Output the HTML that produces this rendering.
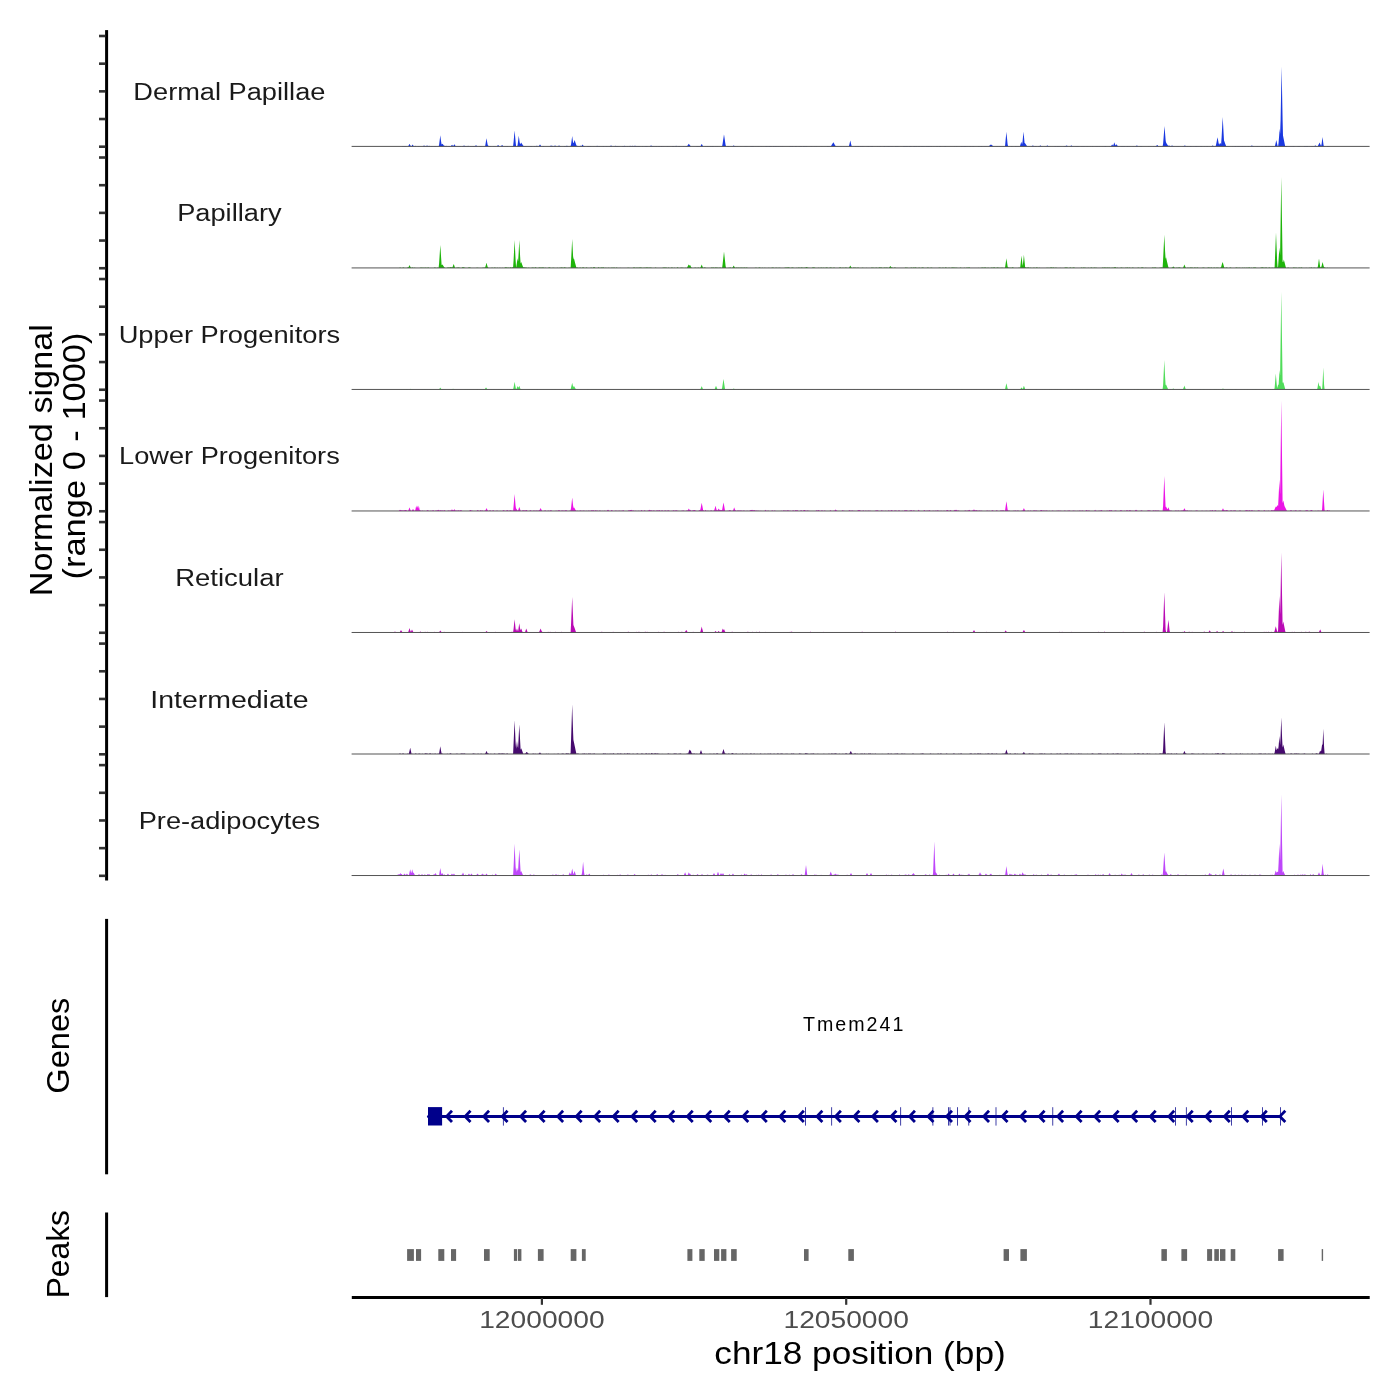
<!DOCTYPE html><html><head><meta charset="utf-8"><style>html,body{margin:0;padding:0;background:#fff;}svg{display:block;will-change:transform;}text{font-family:"Liberation Sans",sans-serif;}</style></head><body>
<svg width="1400" height="1400" viewBox="0 0 1400 1400">
<rect width="1400" height="1400" fill="#fff"/>
<text transform="translate(51.8,460.2) rotate(-90)" text-anchor="middle" font-size="30.54" textLength="272.0" lengthAdjust="spacingAndGlyphs" fill="#000">Normalized signal</text>
<text transform="translate(84.8,456) rotate(-90)" text-anchor="middle" font-size="30.54" textLength="247.0" lengthAdjust="spacingAndGlyphs" fill="#000">(range 0 - 1000)</text>
<text transform="translate(69.3,1045.7) rotate(-90)" text-anchor="middle" font-size="30.54" textLength="96.0" lengthAdjust="spacingAndGlyphs" fill="#000">Genes</text>
<text transform="translate(69.0,1254.2) rotate(-90)" text-anchor="middle" font-size="30.54" textLength="88.3" lengthAdjust="spacingAndGlyphs" fill="#000">Peaks</text>
<rect x="105.1" y="30.1" width="3" height="850.4" fill="#000"/>
<rect x="105.1" y="918.9" width="3" height="255.4" fill="#000"/>
<rect x="105.1" y="1212.5" width="3" height="84.6" fill="#000"/>
<rect x="99" y="145.40" width="6.3" height="2.6" fill="#333"/><rect x="99" y="117.73" width="6.3" height="2.6" fill="#333"/><rect x="99" y="90.05" width="6.3" height="2.6" fill="#333"/><rect x="99" y="62.38" width="6.3" height="2.6" fill="#333"/><rect x="99" y="34.70" width="6.3" height="2.6" fill="#333"/><rect x="99" y="266.92" width="6.3" height="2.6" fill="#333"/><rect x="99" y="239.25" width="6.3" height="2.6" fill="#333"/><rect x="99" y="211.57" width="6.3" height="2.6" fill="#333"/><rect x="99" y="183.90" width="6.3" height="2.6" fill="#333"/><rect x="99" y="156.22" width="6.3" height="2.6" fill="#333"/><rect x="99" y="388.44" width="6.3" height="2.6" fill="#333"/><rect x="99" y="360.76" width="6.3" height="2.6" fill="#333"/><rect x="99" y="333.09" width="6.3" height="2.6" fill="#333"/><rect x="99" y="305.41" width="6.3" height="2.6" fill="#333"/><rect x="99" y="277.74" width="6.3" height="2.6" fill="#333"/><rect x="99" y="509.96" width="6.3" height="2.6" fill="#333"/><rect x="99" y="482.29" width="6.3" height="2.6" fill="#333"/><rect x="99" y="454.61" width="6.3" height="2.6" fill="#333"/><rect x="99" y="426.94" width="6.3" height="2.6" fill="#333"/><rect x="99" y="399.26" width="6.3" height="2.6" fill="#333"/><rect x="99" y="631.48" width="6.3" height="2.6" fill="#333"/><rect x="99" y="603.81" width="6.3" height="2.6" fill="#333"/><rect x="99" y="576.13" width="6.3" height="2.6" fill="#333"/><rect x="99" y="548.46" width="6.3" height="2.6" fill="#333"/><rect x="99" y="520.78" width="6.3" height="2.6" fill="#333"/><rect x="99" y="753.00" width="6.3" height="2.6" fill="#333"/><rect x="99" y="725.33" width="6.3" height="2.6" fill="#333"/><rect x="99" y="697.65" width="6.3" height="2.6" fill="#333"/><rect x="99" y="669.98" width="6.3" height="2.6" fill="#333"/><rect x="99" y="642.30" width="6.3" height="2.6" fill="#333"/><rect x="99" y="874.52" width="6.3" height="2.6" fill="#333"/><rect x="99" y="846.85" width="6.3" height="2.6" fill="#333"/><rect x="99" y="819.17" width="6.3" height="2.6" fill="#333"/><rect x="99" y="791.50" width="6.3" height="2.6" fill="#333"/><rect x="99" y="763.82" width="6.3" height="2.6" fill="#333"/>
<text x="229.4" y="99.90" text-anchor="middle" font-size="24.43" textLength="192.02" lengthAdjust="spacingAndGlyphs" fill="#1a1a1a">Dermal Papillae</text>
<text x="229.4" y="221.42" text-anchor="middle" font-size="24.43" textLength="104.38" lengthAdjust="spacingAndGlyphs" fill="#1a1a1a">Papillary</text>
<text x="229.4" y="342.94" text-anchor="middle" font-size="24.43" textLength="221.50" lengthAdjust="spacingAndGlyphs" fill="#1a1a1a">Upper Progenitors</text>
<text x="229.4" y="464.46" text-anchor="middle" font-size="24.43" textLength="220.72" lengthAdjust="spacingAndGlyphs" fill="#1a1a1a">Lower Progenitors</text>
<text x="229.4" y="585.98" text-anchor="middle" font-size="24.43" textLength="108.44" lengthAdjust="spacingAndGlyphs" fill="#1a1a1a">Reticular</text>
<text x="229.4" y="707.50" text-anchor="middle" font-size="24.43" textLength="158.25" lengthAdjust="spacingAndGlyphs" fill="#1a1a1a">Intermediate</text>
<text x="229.4" y="829.02" text-anchor="middle" font-size="24.43" textLength="181.32" lengthAdjust="spacingAndGlyphs" fill="#1a1a1a">Pre-adipocytes</text>
<path d="M351.60 146.40 L351.6 146.4 L401.6 146.4 L402.1 146.2 L402.6 146.0 L403.1 146.0 L403.6 146.2 L404.1 146.3 L404.6 146.0 L405.1 145.9 L405.6 146.1 L406.1 146.2 L406.6 146.3 L407.1 146.4 L408.1 146.4 L408.6 145.5 L409.1 144.5 L409.5 143.8 L409.6 144.0 L410.1 144.9 L410.6 145.8 L411.1 146.0 L411.6 145.9 L412.1 145.2 L412.6 144.5 L413.1 145.2 L413.6 145.9 L414.1 146.4 L414.6 146.2 L415.1 145.8 L415.6 145.9 L416.1 146.2 L416.6 146.4 L417.1 146.4 L417.6 146.3 L418.1 146.2 L418.6 146.1 L419.1 146.2 L419.6 146.3 L420.1 146.4 L422.6 146.4 L423.1 146.0 L423.6 145.7 L424.0 145.4 L424.1 145.5 L424.6 145.8 L425.1 146.2 L425.6 146.2 L426.1 146.0 L426.6 145.7 L427.0 145.4 L427.1 145.5 L427.6 145.8 L428.1 146.2 L428.6 146.1 L429.1 145.7 L429.6 146.0 L430.1 146.3 L430.6 146.2 L431.1 146.0 L431.6 146.1 L432.1 146.2 L432.6 146.1 L433.1 146.2 L433.6 146.3 L434.1 146.2 L434.6 146.1 L435.1 145.9 L435.6 146.1 L436.1 146.3 L436.6 146.3 L437.1 146.3 L437.6 146.3 L438.1 146.3 L438.6 146.4 L439.1 144.8 L439.6 140.8 L440.1 136.9 L440.3 135.3 L440.6 137.7 L441.1 141.6 L441.6 144.5 L442.1 144.0 L442.3 143.8 L442.6 144.1 L443.1 144.6 L443.6 145.2 L444.1 145.7 L444.6 145.7 L445.1 146.0 L445.6 146.0 L446.1 145.8 L446.6 145.9 L447.1 146.1 L447.6 146.3 L448.1 146.3 L448.6 146.0 L449.1 145.9 L449.6 146.1 L450.1 146.3 L450.6 146.3 L451.1 145.8 L451.6 145.2 L452.0 144.7 L452.1 144.8 L452.6 145.4 L453.1 146.0 L453.6 145.5 L454.1 144.7 L454.4 144.3 L454.6 144.6 L455.1 145.4 L455.6 146.1 L456.1 146.3 L456.6 146.0 L457.1 146.1 L457.6 146.2 L458.1 146.1 L458.6 146.3 L459.1 146.2 L459.6 146.0 L460.1 146.1 L460.6 146.3 L461.1 146.4 L461.6 146.4 L462.1 146.2 L462.6 146.1 L463.1 146.0 L463.6 145.7 L464.0 145.4 L464.1 145.5 L464.6 145.8 L465.1 146.2 L465.6 146.1 L466.1 146.0 L466.6 146.2 L467.1 146.2 L467.6 145.9 L468.1 145.8 L468.6 146.1 L469.1 146.4 L469.6 146.3 L470.1 146.2 L470.6 146.0 L471.1 146.1 L471.6 146.3 L472.1 146.3 L472.6 146.1 L473.1 146.1 L473.6 146.1 L474.1 145.9 L474.6 145.9 L475.1 146.0 L475.6 145.5 L476.0 145.2 L476.1 145.3 L476.6 145.7 L477.1 146.1 L477.6 146.4 L478.6 146.4 L479.1 146.3 L479.6 146.2 L480.1 146.1 L480.6 146.3 L481.1 146.3 L481.6 146.2 L482.1 146.2 L482.6 146.4 L483.6 146.4 L484.1 146.3 L484.6 146.3 L485.1 146.3 L485.6 143.5 L486.1 140.5 L486.5 138.2 L486.6 138.8 L487.1 141.7 L487.6 144.6 L488.1 145.8 L488.6 145.8 L489.1 146.2 L489.6 146.1 L490.1 146.0 L490.6 146.3 L491.1 146.4 L492.6 146.4 L493.1 146.3 L493.6 146.2 L494.1 146.3 L494.6 146.3 L495.1 146.3 L495.6 146.3 L496.1 146.4 L496.6 146.4 L497.1 145.9 L497.6 145.4 L498.0 145.0 L498.1 145.1 L498.6 145.6 L499.1 146.1 L499.6 146.4 L500.6 146.4 L501.1 145.9 L501.6 145.4 L502.0 145.0 L502.1 145.1 L502.6 145.6 L503.1 146.1 L503.6 146.4 L504.1 146.4 L504.6 146.3 L505.1 146.3 L505.6 146.3 L506.1 146.3 L506.6 146.3 L507.1 146.1 L507.6 146.0 L508.1 146.3 L508.6 146.4 L511.6 146.4 L512.1 146.2 L512.6 145.9 L513.1 146.1 L513.6 141.8 L514.1 136.1 L514.6 130.4 L515.1 136.1 L515.6 141.8 L516.1 146.4 L517.1 146.4 L517.6 144.9 L518.1 141.1 L518.6 137.3 L518.8 135.8 L519.1 138.1 L519.6 141.9 L520.1 144.3 L520.6 143.5 L521.1 142.8 L521.2 142.6 L521.6 143.2 L522.1 144.0 L522.6 144.7 L523.1 145.5 L523.6 146.0 L524.1 146.1 L524.6 146.2 L525.1 146.1 L525.6 146.2 L526.1 146.3 L526.6 146.3 L527.1 146.3 L527.6 146.4 L528.1 146.4 L528.6 146.3 L529.1 146.3 L529.6 146.4 L530.1 146.2 L530.6 146.0 L531.1 146.0 L531.6 146.1 L532.1 146.3 L532.6 146.4 L533.6 146.4 L534.1 146.2 L534.6 146.1 L535.1 146.3 L535.6 146.4 L536.1 146.3 L536.6 145.8 L537.1 145.8 L537.6 146.3 L538.1 146.4 L538.6 146.4 L539.1 145.7 L539.6 145.0 L540.0 144.4 L540.1 144.5 L540.6 145.3 L541.1 146.0 L541.6 146.4 L542.1 146.4 L542.6 146.1 L543.1 145.9 L543.6 146.1 L544.1 146.3 L544.6 146.4 L549.6 146.4 L550.1 146.0 L550.6 145.7 L551.0 145.4 L551.1 145.5 L551.6 145.8 L552.1 145.9 L552.6 145.8 L553.1 146.2 L553.6 146.4 L554.1 146.0 L554.6 145.7 L555.0 145.4 L555.1 145.5 L555.6 145.8 L556.1 146.2 L556.6 146.4 L557.6 146.4 L558.1 146.0 L558.6 145.7 L559.0 145.4 L559.1 145.5 L559.6 145.8 L560.1 146.2 L560.6 146.3 L561.1 146.4 L563.6 146.4 L564.1 146.2 L564.6 146.1 L565.1 146.3 L565.6 146.3 L566.1 146.0 L566.6 145.7 L567.1 145.8 L567.6 146.1 L568.1 146.3 L568.6 146.4 L570.1 146.4 L570.6 146.1 L571.1 144.2 L571.6 140.5 L572.1 136.7 L572.2 136.0 L572.6 139.0 L573.1 142.7 L573.6 143.0 L574.1 141.5 L574.6 140.1 L575.1 141.5 L575.6 143.0 L576.1 144.4 L576.6 145.8 L577.1 145.7 L577.6 146.0 L578.1 146.3 L578.6 146.3 L579.1 146.3 L579.6 146.4 L580.1 146.1 L580.6 145.8 L581.1 145.8 L581.6 145.9 L582.1 145.2 L582.6 144.5 L583.1 145.2 L583.6 145.9 L584.1 146.1 L584.6 146.3 L585.1 146.4 L586.6 146.4 L587.1 146.2 L587.6 146.1 L588.1 145.9 L588.6 146.1 L589.1 146.1 L589.6 146.2 L590.1 146.1 L590.6 146.2 L591.1 146.3 L591.6 146.4 L592.1 146.3 L592.6 146.4 L593.1 146.4 L593.6 146.3 L594.1 146.3 L594.6 146.4 L596.1 146.4 L596.6 146.0 L597.1 145.7 L597.6 146.0 L598.1 146.3 L598.6 146.3 L599.1 146.2 L599.6 146.0 L600.1 146.2 L600.6 146.4 L601.1 146.4 L601.6 146.3 L602.1 146.4 L602.6 146.2 L603.1 146.0 L603.6 145.9 L604.1 146.2 L604.6 146.4 L605.1 146.4 L605.6 146.3 L606.1 146.2 L606.6 146.1 L607.1 146.2 L607.6 146.3 L608.1 146.4 L608.6 146.3 L609.1 146.3 L609.6 146.2 L610.1 146.0 L610.6 145.7 L611.0 145.4 L611.1 145.5 L611.6 145.8 L612.1 146.2 L612.6 146.4 L613.1 146.4 L613.6 146.3 L614.1 146.3 L614.6 146.3 L615.1 146.0 L615.6 145.8 L616.1 145.9 L616.6 146.1 L617.1 146.1 L617.6 145.9 L618.1 146.1 L618.6 146.3 L619.1 146.2 L619.6 146.2 L620.1 146.4 L621.6 146.4 L622.1 146.3 L622.6 146.1 L623.1 145.9 L623.6 145.9 L624.1 146.1 L624.6 145.8 L625.1 145.9 L625.6 146.2 L626.1 146.4 L626.6 146.3 L627.1 146.2 L627.6 146.0 L628.1 146.2 L628.6 146.4 L629.1 146.3 L629.6 146.1 L630.1 145.8 L630.6 145.9 L631.1 146.1 L631.6 146.2 L632.1 146.0 L632.6 145.8 L633.1 146.0 L633.6 146.2 L634.1 145.9 L634.6 145.7 L635.1 145.9 L635.6 145.7 L636.1 145.9 L636.6 146.1 L637.1 146.2 L637.6 146.0 L638.1 145.9 L638.6 146.1 L639.1 145.9 L639.6 146.0 L640.1 146.2 L640.6 146.4 L641.6 146.4 L642.1 146.3 L642.6 146.1 L643.1 146.3 L643.6 146.4 L644.1 146.4 L644.6 146.3 L645.1 146.2 L645.6 146.1 L646.1 146.1 L646.6 146.0 L647.1 146.1 L647.6 146.2 L648.1 146.4 L649.6 146.4 L650.1 146.0 L650.6 145.7 L651.0 145.4 L651.1 145.5 L651.6 145.8 L652.1 146.1 L652.6 145.9 L653.1 146.1 L653.6 146.2 L654.1 146.3 L654.6 146.2 L655.1 146.2 L655.6 146.2 L656.1 146.1 L656.6 146.1 L657.1 146.3 L657.6 146.4 L658.1 146.3 L658.6 146.1 L659.1 145.9 L659.6 146.0 L660.1 146.2 L660.6 146.4 L661.1 145.9 L661.6 145.9 L662.1 146.3 L662.6 146.3 L663.1 146.2 L663.6 146.2 L664.1 146.3 L664.6 146.4 L665.1 146.3 L665.6 146.4 L666.1 146.4 L666.6 146.3 L667.1 146.2 L667.6 146.1 L668.1 146.2 L668.6 146.3 L669.1 146.4 L669.6 146.3 L670.1 146.3 L670.6 146.4 L671.6 146.4 L672.1 146.3 L672.6 146.1 L673.1 146.0 L673.6 146.1 L674.1 146.2 L674.6 146.4 L675.1 146.4 L675.6 146.0 L676.1 145.7 L676.6 146.1 L677.1 146.4 L678.1 146.4 L678.6 146.1 L679.1 145.9 L679.6 146.1 L680.1 146.4 L682.6 146.4 L683.1 146.3 L683.6 146.2 L684.1 146.3 L684.6 146.4 L685.1 146.4 L685.6 146.3 L686.1 146.1 L686.6 146.1 L687.1 146.0 L687.6 145.4 L688.1 144.7 L688.6 144.1 L688.8 143.8 L689.1 144.2 L689.6 144.8 L690.1 145.5 L690.6 146.1 L691.1 146.4 L695.6 146.4 L696.1 146.3 L696.6 146.3 L697.1 146.2 L697.6 146.0 L698.1 146.1 L698.6 146.2 L699.1 146.3 L699.6 146.3 L700.1 146.3 L700.6 145.9 L701.1 145.0 L701.6 144.1 L701.7 143.9 L702.1 144.6 L702.6 145.5 L703.1 146.4 L704.6 146.4 L705.1 146.3 L705.6 146.3 L706.1 146.4 L706.6 146.3 L707.1 146.2 L707.6 146.1 L708.1 146.2 L708.6 146.3 L709.1 146.4 L709.6 146.3 L710.1 146.2 L710.6 146.1 L711.1 146.3 L711.6 146.3 L712.1 146.1 L712.6 145.9 L713.1 146.1 L713.6 146.3 L714.1 146.4 L714.6 146.4 L715.1 146.3 L715.6 146.3 L716.1 146.4 L716.6 146.3 L717.1 146.3 L717.6 146.2 L718.1 146.3 L718.6 146.4 L720.6 146.4 L721.1 146.3 L721.6 146.2 L722.1 146.2 L722.6 143.7 L723.1 140.3 L723.6 136.9 L724.0 134.2 L724.1 134.9 L724.6 138.3 L725.1 141.7 L725.6 145.0 L726.1 146.3 L726.6 146.4 L727.1 146.3 L727.6 146.1 L728.1 145.9 L728.6 146.1 L729.1 146.2 L729.6 146.4 L730.1 146.4 L730.6 146.3 L731.1 146.3 L731.6 146.3 L732.1 146.3 L732.6 146.2 L733.1 145.8 L733.6 145.5 L733.7 145.4 L734.1 145.7 L734.6 146.0 L735.1 146.1 L735.6 146.3 L736.1 146.4 L736.6 146.3 L737.1 146.2 L737.6 146.2 L738.1 146.3 L738.6 146.4 L740.1 146.4 L740.6 146.3 L741.1 146.3 L741.6 146.4 L743.6 146.4 L744.1 146.3 L744.6 146.4 L745.1 146.3 L745.6 146.3 L746.1 146.3 L746.6 146.3 L747.1 146.4 L747.6 146.3 L748.1 146.4 L749.6 146.4 L750.1 146.3 L750.6 146.2 L751.1 146.1 L751.6 146.2 L752.1 146.2 L752.6 145.9 L753.1 146.1 L753.6 146.3 L754.1 146.4 L755.1 146.4 L755.6 146.3 L756.1 146.3 L756.6 146.4 L757.1 146.4 L757.6 146.3 L758.1 146.2 L758.6 146.2 L759.1 146.3 L759.6 146.4 L760.1 146.4 L760.6 146.3 L761.1 146.2 L761.6 146.2 L762.1 146.3 L762.6 146.4 L763.1 146.4 L763.6 146.3 L764.1 146.4 L764.6 146.4 L765.1 146.3 L765.6 146.2 L766.1 146.1 L766.6 146.1 L767.1 146.2 L767.6 146.3 L768.1 146.4 L768.6 146.2 L769.1 145.9 L769.6 146.0 L770.1 146.3 L770.6 146.0 L771.1 145.9 L771.6 146.2 L772.1 146.4 L772.6 146.4 L773.1 146.1 L773.6 146.0 L774.1 146.3 L774.6 146.2 L775.1 146.3 L775.6 146.1 L776.1 146.1 L776.6 146.3 L777.1 146.4 L777.6 146.2 L778.1 146.1 L778.6 146.3 L779.1 146.4 L779.6 146.3 L780.1 146.3 L780.6 146.3 L781.1 146.4 L781.6 146.3 L782.1 146.2 L782.6 146.2 L783.1 146.3 L783.6 146.4 L789.1 146.4 L789.6 146.3 L790.1 146.1 L790.6 146.2 L791.1 146.2 L791.6 146.2 L792.1 146.2 L792.6 146.0 L793.1 146.2 L793.6 146.4 L794.6 146.4 L795.1 146.2 L795.6 146.1 L796.1 146.1 L796.6 146.2 L797.1 146.4 L798.1 146.4 L798.6 146.3 L799.1 146.3 L799.6 146.2 L800.1 146.1 L800.6 146.3 L801.1 146.1 L801.6 146.2 L802.1 146.4 L802.6 146.4 L803.1 146.2 L803.6 145.9 L804.1 146.0 L804.6 146.2 L805.1 146.3 L805.6 146.2 L806.1 146.0 L806.6 146.2 L807.1 146.3 L807.6 146.4 L810.1 146.4 L810.6 146.3 L811.1 146.2 L811.6 146.3 L812.1 146.3 L812.6 146.4 L814.1 146.4 L814.6 146.2 L815.1 146.2 L815.6 146.4 L816.1 146.3 L816.6 146.3 L817.1 146.4 L821.1 146.4 L821.6 146.3 L822.1 146.3 L822.6 146.4 L826.6 146.4 L827.1 146.2 L827.6 146.0 L828.1 146.1 L828.6 146.2 L829.1 146.4 L829.6 146.3 L830.1 146.2 L830.6 146.2 L831.1 145.9 L831.6 145.1 L832.1 144.2 L832.6 143.4 L833.1 142.5 L833.3 142.2 L833.6 142.7 L834.1 143.5 L834.6 144.4 L835.1 145.2 L835.6 146.1 L836.1 146.3 L836.6 146.2 L837.1 146.2 L837.6 146.3 L838.1 146.3 L838.6 146.4 L839.6 146.4 L840.1 146.3 L840.6 146.2 L841.1 146.2 L841.6 146.3 L842.1 146.4 L843.1 146.4 L843.6 146.3 L844.1 146.3 L844.6 146.4 L845.6 146.4 L846.1 146.3 L846.6 146.2 L847.1 146.3 L847.6 146.4 L848.6 146.4 L849.1 145.6 L849.6 143.4 L850.1 141.3 L850.3 140.5 L850.6 141.8 L851.1 143.9 L851.6 146.0 L852.1 146.4 L854.6 146.4 L855.1 146.2 L855.6 146.1 L856.1 146.2 L856.6 146.3 L857.1 146.3 L857.6 146.2 L858.1 146.0 L858.6 146.1 L859.1 146.3 L859.6 146.4 L860.1 146.2 L860.6 146.1 L861.1 146.2 L861.6 146.3 L862.1 146.0 L862.6 146.2 L863.1 146.3 L863.6 146.2 L864.1 146.3 L864.6 146.4 L866.1 146.4 L866.6 146.3 L867.1 146.3 L867.6 146.2 L868.1 146.0 L868.6 146.1 L869.1 146.3 L869.6 146.4 L870.1 146.3 L870.6 146.2 L871.1 146.1 L871.6 146.2 L872.1 146.0 L872.6 146.0 L873.1 146.4 L876.6 146.4 L877.1 146.3 L877.6 146.3 L878.1 146.3 L878.6 146.4 L879.1 146.4 L879.6 146.3 L880.1 146.1 L880.6 146.2 L881.1 146.4 L883.1 146.4 L883.6 146.3 L884.1 146.1 L884.6 145.9 L885.1 146.2 L885.6 146.4 L886.1 146.4 L886.6 146.3 L887.1 146.2 L887.6 146.3 L888.1 146.2 L888.6 146.1 L889.1 146.2 L889.6 146.3 L890.1 146.3 L890.6 146.2 L891.1 146.2 L891.6 146.3 L892.1 146.3 L892.6 146.3 L893.1 146.3 L893.6 146.4 L894.6 146.4 L895.1 146.2 L895.6 146.1 L896.1 146.0 L896.6 146.2 L897.1 146.2 L897.6 146.1 L898.1 146.2 L898.6 146.3 L899.1 146.4 L902.6 146.4 L903.1 146.2 L903.6 146.0 L904.1 146.2 L904.6 146.0 L905.1 146.1 L905.6 146.2 L906.1 146.2 L906.6 146.0 L907.1 146.0 L907.6 146.2 L908.1 146.3 L908.6 146.4 L909.1 146.2 L909.6 146.0 L910.1 146.0 L910.6 146.1 L911.1 146.2 L911.6 146.3 L912.1 146.4 L912.6 146.4 L913.1 146.3 L913.6 146.2 L914.1 146.0 L914.6 146.1 L915.1 146.3 L915.6 146.3 L916.1 146.1 L916.6 146.2 L917.1 146.3 L917.6 146.4 L918.1 146.4 L918.6 146.1 L919.1 145.9 L919.6 146.3 L920.1 146.4 L920.6 146.2 L921.1 146.0 L921.6 146.3 L922.1 146.2 L922.6 146.1 L923.1 146.1 L923.6 146.2 L924.1 146.3 L924.6 146.3 L925.1 146.3 L925.6 146.4 L926.1 146.2 L926.6 145.9 L927.1 146.0 L927.6 146.3 L928.1 146.1 L928.6 145.9 L929.1 146.1 L929.6 146.3 L930.1 146.4 L930.6 146.3 L931.1 146.0 L931.6 146.2 L932.1 146.4 L933.1 146.4 L933.6 146.3 L934.1 146.3 L934.6 146.4 L935.6 146.4 L936.1 146.3 L936.6 146.2 L937.1 146.1 L937.6 146.2 L938.1 146.4 L938.6 146.4 L939.1 146.3 L939.6 146.0 L940.1 146.0 L940.6 146.2 L941.1 146.4 L944.1 146.4 L944.6 146.3 L945.1 146.1 L945.6 146.3 L946.1 146.4 L949.6 146.4 L950.1 146.3 L950.6 146.4 L953.6 146.4 L954.1 146.3 L954.6 146.3 L955.1 146.4 L955.6 146.4 L956.1 146.3 L956.6 146.2 L957.1 146.3 L957.6 146.4 L960.1 146.4 L960.6 146.3 L961.1 146.2 L961.6 146.0 L962.1 146.1 L962.6 146.2 L963.1 146.4 L963.6 146.1 L964.1 146.0 L964.6 146.1 L965.1 145.9 L965.6 146.1 L966.1 146.3 L966.6 146.3 L967.1 146.2 L967.6 146.2 L968.1 146.3 L968.6 146.4 L969.1 146.3 L969.6 146.2 L970.1 146.0 L970.6 146.2 L971.1 146.3 L971.6 146.4 L972.1 146.3 L972.6 146.2 L973.1 146.1 L973.6 146.2 L974.1 146.3 L974.6 146.4 L977.6 146.4 L978.1 146.2 L978.6 146.1 L979.1 146.2 L979.6 146.3 L980.1 146.4 L980.6 146.2 L981.1 146.0 L981.6 146.1 L982.1 146.4 L982.6 146.3 L983.1 146.3 L983.6 146.4 L984.1 146.3 L984.6 146.3 L985.1 146.2 L985.6 146.2 L986.1 146.3 L986.6 146.3 L987.1 146.4 L987.6 146.3 L988.1 146.4 L988.6 146.3 L989.1 145.9 L989.6 145.5 L990.1 145.1 L990.6 144.7 L991.0 144.4 L991.1 144.5 L991.6 144.9 L992.1 145.3 L992.6 145.7 L993.1 146.1 L993.6 146.4 L996.1 146.4 L996.6 146.3 L997.1 146.2 L997.6 146.3 L998.1 146.4 L999.1 146.4 L999.6 146.3 L1000.1 146.2 L1000.6 146.2 L1001.1 146.3 L1001.6 146.4 L1002.1 146.4 L1002.6 146.3 L1003.1 146.2 L1003.6 146.3 L1004.1 146.4 L1004.6 146.4 L1005.1 145.4 L1005.6 140.1 L1006.1 134.9 L1006.4 131.8 L1006.6 133.9 L1007.1 139.1 L1007.6 144.3 L1008.1 146.3 L1008.6 146.3 L1009.1 146.3 L1009.6 146.4 L1010.6 146.4 L1011.1 146.3 L1011.6 146.1 L1012.1 146.2 L1012.6 146.3 L1013.1 146.4 L1014.6 146.4 L1015.1 146.3 L1015.6 146.1 L1016.1 146.2 L1016.6 146.3 L1017.1 146.3 L1017.6 146.2 L1018.1 146.2 L1018.6 146.3 L1019.1 146.4 L1019.6 146.4 L1020.1 145.7 L1020.6 144.1 L1021.1 142.5 L1021.3 141.8 L1021.6 142.8 L1022.1 144.4 L1022.6 141.1 L1023.1 135.8 L1023.5 131.6 L1023.6 132.7 L1024.1 137.9 L1024.6 143.2 L1024.8 142.9 L1025.1 143.3 L1025.6 144.0 L1026.1 144.7 L1026.6 145.4 L1027.1 146.1 L1027.6 146.4 L1031.1 146.4 L1031.6 146.3 L1032.1 146.0 L1032.6 145.6 L1032.9 145.4 L1033.1 145.5 L1033.6 145.9 L1034.1 146.3 L1034.6 146.2 L1035.1 146.0 L1035.6 145.9 L1036.1 146.1 L1036.6 146.3 L1037.1 146.4 L1037.6 146.4 L1038.1 146.2 L1038.6 146.1 L1039.1 146.1 L1039.6 146.0 L1040.1 145.6 L1040.4 145.4 L1040.6 145.5 L1041.1 145.9 L1041.6 146.3 L1042.1 146.2 L1042.6 146.3 L1043.1 146.4 L1044.1 146.4 L1044.6 146.3 L1045.1 146.3 L1045.6 146.2 L1046.1 146.3 L1046.6 145.9 L1047.1 145.5 L1047.3 145.4 L1047.6 145.6 L1048.1 146.0 L1048.6 146.1 L1049.1 146.0 L1049.6 146.2 L1050.1 146.3 L1050.6 146.4 L1051.6 146.4 L1052.1 146.3 L1052.6 146.4 L1054.1 146.4 L1054.6 146.3 L1055.1 146.1 L1055.6 146.2 L1056.1 146.3 L1056.6 146.4 L1057.1 146.3 L1057.6 146.1 L1058.1 146.0 L1058.6 146.2 L1059.1 146.3 L1059.6 146.3 L1060.1 146.3 L1060.6 146.4 L1061.1 146.3 L1061.6 146.4 L1063.1 146.4 L1063.6 146.3 L1064.1 146.2 L1064.6 146.0 L1065.1 146.0 L1065.6 146.1 L1066.1 145.8 L1066.6 145.4 L1067.1 145.8 L1067.6 146.1 L1068.1 146.4 L1069.1 146.4 L1069.6 146.3 L1070.1 146.2 L1070.6 146.0 L1071.1 145.6 L1071.4 145.4 L1071.6 145.5 L1072.1 145.9 L1072.6 146.3 L1073.1 146.3 L1073.6 146.3 L1074.1 146.4 L1074.6 146.3 L1075.1 146.3 L1075.6 146.2 L1076.1 146.0 L1076.6 146.2 L1077.1 146.3 L1077.6 146.1 L1078.1 146.1 L1078.6 146.3 L1079.1 146.3 L1079.6 146.4 L1080.6 146.4 L1081.1 146.3 L1081.6 146.2 L1082.1 146.3 L1082.6 146.2 L1083.1 146.3 L1083.6 146.3 L1084.1 146.2 L1084.6 146.3 L1085.1 146.4 L1086.1 146.4 L1086.6 146.3 L1087.1 146.2 L1087.6 146.2 L1088.1 146.3 L1088.6 146.4 L1089.6 146.4 L1090.1 146.3 L1090.6 146.3 L1091.1 146.4 L1091.6 146.4 L1092.1 146.2 L1092.6 146.1 L1093.1 146.3 L1093.6 146.4 L1095.1 146.4 L1095.6 146.3 L1096.1 146.3 L1096.6 146.3 L1097.1 146.2 L1097.6 146.2 L1098.1 146.3 L1098.6 146.4 L1099.1 146.3 L1099.6 146.3 L1100.1 146.4 L1102.1 146.4 L1102.6 146.3 L1103.1 146.3 L1103.6 146.4 L1104.1 146.4 L1104.6 146.2 L1105.1 145.9 L1105.6 146.0 L1106.1 146.3 L1106.6 146.4 L1108.6 146.4 L1109.1 146.3 L1109.6 146.3 L1110.1 146.4 L1110.6 146.2 L1111.1 146.0 L1111.6 145.3 L1112.1 144.6 L1112.2 144.5 L1112.6 145.0 L1113.1 145.7 L1113.6 144.4 L1114.1 142.9 L1114.3 142.3 L1114.6 143.2 L1115.1 144.6 L1115.6 145.6 L1116.1 144.8 L1116.5 144.2 L1116.6 144.4 L1117.1 145.1 L1117.6 145.9 L1118.1 146.3 L1118.6 146.3 L1119.1 146.4 L1120.1 146.4 L1120.6 146.3 L1121.1 146.2 L1121.6 146.1 L1122.1 146.3 L1122.6 146.1 L1123.1 146.1 L1123.6 146.3 L1124.1 146.2 L1124.6 146.0 L1125.1 146.2 L1125.6 146.4 L1126.1 146.4 L1126.6 146.3 L1127.1 146.1 L1127.6 146.0 L1128.1 146.2 L1128.6 146.3 L1129.1 146.2 L1129.6 146.3 L1130.1 146.3 L1130.6 146.4 L1132.1 146.4 L1132.6 146.3 L1133.1 146.3 L1133.6 146.2 L1134.1 146.3 L1134.6 146.4 L1135.1 146.4 L1135.6 146.3 L1136.1 145.9 L1136.6 145.5 L1136.8 145.4 L1137.1 145.6 L1137.6 146.0 L1138.1 146.3 L1138.6 146.4 L1139.1 146.4 L1139.6 146.2 L1140.1 146.1 L1140.6 146.3 L1141.1 146.3 L1141.6 146.1 L1142.1 146.3 L1142.6 146.4 L1147.6 146.4 L1148.1 146.3 L1148.6 146.3 L1149.1 146.3 L1149.6 146.4 L1150.1 146.4 L1150.6 146.3 L1151.1 146.3 L1151.6 146.4 L1152.6 146.4 L1153.1 146.3 L1153.6 146.2 L1154.1 146.3 L1154.6 146.4 L1155.1 146.3 L1155.6 146.2 L1156.1 146.1 L1156.6 145.5 L1157.1 145.0 L1157.2 144.9 L1157.6 145.3 L1158.1 145.9 L1158.6 146.1 L1159.1 146.2 L1159.6 146.4 L1160.1 146.3 L1160.6 146.3 L1161.1 146.3 L1161.6 146.3 L1162.1 146.3 L1162.6 146.3 L1163.1 143.8 L1163.6 137.4 L1164.1 131.0 L1164.5 125.9 L1164.6 127.2 L1165.1 133.6 L1165.6 140.0 L1166.0 142.4 L1166.1 142.6 L1166.6 143.4 L1167.1 144.2 L1167.6 145.0 L1168.1 145.8 L1168.6 145.7 L1169.0 145.4 L1169.1 145.5 L1169.6 145.8 L1170.1 146.2 L1170.6 146.0 L1171.1 146.0 L1171.6 145.7 L1172.0 145.4 L1172.1 145.5 L1172.6 145.8 L1173.1 146.2 L1173.6 146.1 L1174.1 146.2 L1174.6 146.3 L1175.1 146.4 L1175.6 146.3 L1176.1 146.2 L1176.6 146.2 L1177.1 146.2 L1177.6 146.2 L1178.1 146.1 L1178.6 146.2 L1179.1 146.4 L1179.6 146.2 L1180.1 146.2 L1180.6 146.4 L1182.1 146.4 L1182.6 146.2 L1183.1 146.0 L1183.6 146.2 L1184.1 145.9 L1184.6 145.5 L1184.8 145.4 L1185.1 145.6 L1185.6 146.0 L1186.1 146.3 L1186.6 146.2 L1187.1 146.1 L1187.6 146.0 L1188.1 146.2 L1188.6 146.3 L1189.1 146.3 L1189.6 146.3 L1190.1 146.1 L1190.6 145.9 L1191.1 146.0 L1191.6 146.3 L1192.1 146.4 L1192.6 146.3 L1193.1 146.2 L1193.6 146.2 L1194.1 146.4 L1194.6 146.3 L1195.1 146.2 L1195.6 146.0 L1196.1 145.9 L1196.6 146.1 L1197.1 146.2 L1197.6 146.3 L1198.1 146.2 L1198.6 146.3 L1199.1 146.3 L1199.6 146.4 L1200.1 146.3 L1200.6 146.2 L1201.1 146.1 L1201.6 146.2 L1202.1 146.3 L1202.6 146.4 L1203.6 146.4 L1204.1 146.3 L1204.6 146.3 L1205.1 146.4 L1206.1 146.4 L1206.6 146.3 L1207.1 146.1 L1207.6 146.2 L1208.1 146.4 L1210.6 146.4 L1211.1 146.3 L1211.6 146.2 L1212.1 145.8 L1212.6 145.5 L1212.7 145.4 L1213.1 145.7 L1213.6 146.0 L1214.1 146.3 L1214.6 146.3 L1215.1 146.3 L1215.6 146.2 L1216.1 144.4 L1216.6 141.9 L1217.1 139.3 L1217.5 137.3 L1217.6 137.8 L1218.1 140.3 L1218.6 142.9 L1219.1 144.7 L1219.6 143.8 L1220.1 142.9 L1220.2 142.7 L1220.6 143.4 L1221.1 144.4 L1221.6 137.2 L1222.1 128.0 L1222.6 118.7 L1222.7 116.9 L1223.1 124.3 L1223.6 133.5 L1224.0 140.4 L1224.1 140.7 L1224.6 142.0 L1225.1 143.4 L1225.6 144.8 L1226.1 146.1 L1226.6 146.3 L1227.1 146.4 L1227.6 146.3 L1228.1 146.3 L1228.6 146.4 L1231.6 146.4 L1232.1 146.3 L1232.6 146.3 L1233.1 146.3 L1233.6 146.4 L1234.1 146.4 L1234.6 146.2 L1235.1 146.0 L1235.6 146.0 L1236.1 146.2 L1236.6 146.4 L1237.1 146.3 L1237.6 146.2 L1238.1 146.1 L1238.6 146.2 L1239.1 146.3 L1239.6 146.3 L1240.1 146.3 L1240.6 146.3 L1241.1 146.3 L1241.6 146.2 L1242.1 146.3 L1242.6 146.0 L1243.1 146.1 L1243.6 146.4 L1244.1 146.3 L1244.6 146.3 L1245.1 146.2 L1245.6 146.3 L1246.1 146.3 L1246.6 146.4 L1247.1 146.4 L1247.6 146.3 L1248.1 146.2 L1248.6 146.1 L1249.1 146.2 L1249.6 146.4 L1250.1 146.4 L1250.6 146.3 L1251.1 145.9 L1251.6 145.5 L1251.8 145.4 L1252.1 145.6 L1252.6 146.0 L1253.1 146.2 L1253.6 145.9 L1254.1 146.2 L1254.6 146.4 L1255.1 146.4 L1255.6 146.3 L1256.1 146.3 L1256.6 146.3 L1257.1 146.2 L1257.6 146.1 L1258.1 146.3 L1258.6 146.3 L1259.1 146.3 L1259.6 146.3 L1260.1 146.4 L1261.1 146.4 L1261.6 146.3 L1262.1 146.2 L1262.6 146.3 L1263.1 146.4 L1264.6 146.4 L1265.1 146.3 L1265.6 146.3 L1266.1 146.2 L1266.6 146.3 L1267.1 146.4 L1267.6 146.4 L1268.1 146.3 L1268.6 146.2 L1269.1 146.3 L1269.6 146.4 L1272.1 146.4 L1272.6 146.3 L1273.1 146.3 L1273.6 146.4 L1274.6 146.4 L1275.1 145.5 L1275.6 143.2 L1276.1 140.9 L1276.3 140.0 L1276.6 141.4 L1277.1 143.7 L1277.6 145.9 L1278.1 146.4 L1278.6 142.6 L1279.1 136.3 L1279.6 130.0 L1279.7 128.7 L1280.1 133.8 L1280.6 119.8 L1281.1 93.2 L1281.6 66.6 L1282.1 93.2 L1282.6 119.8 L1283.0 135.4 L1283.1 135.9 L1283.6 138.4 L1284.1 140.9 L1284.6 143.4 L1285.1 145.9 L1285.6 146.1 L1286.1 145.9 L1286.6 146.1 L1287.1 146.2 L1287.6 146.4 L1289.6 146.4 L1290.1 146.3 L1290.6 146.3 L1291.1 146.3 L1291.6 146.3 L1292.1 146.3 L1292.6 146.2 L1293.1 146.0 L1293.6 146.0 L1294.1 146.2 L1294.6 146.3 L1295.1 146.4 L1297.1 146.4 L1297.6 146.3 L1298.1 146.1 L1298.6 146.2 L1299.1 146.1 L1299.6 146.2 L1300.1 146.3 L1300.6 146.4 L1303.6 146.4 L1304.1 146.3 L1304.6 146.1 L1305.1 146.0 L1305.6 146.2 L1306.1 146.2 L1306.6 146.0 L1307.1 146.0 L1307.6 146.1 L1308.1 146.3 L1308.6 146.4 L1309.1 146.4 L1309.6 146.3 L1310.1 146.3 L1310.6 146.4 L1311.1 146.3 L1311.6 146.2 L1312.1 146.1 L1312.6 146.3 L1313.1 146.3 L1313.6 146.3 L1314.1 146.3 L1314.6 146.0 L1315.1 145.6 L1315.4 145.4 L1315.6 145.5 L1316.1 145.9 L1316.6 146.3 L1317.1 146.4 L1317.6 146.4 L1318.1 145.5 L1318.6 144.5 L1319.1 143.4 L1319.5 142.5 L1319.6 142.7 L1320.1 143.8 L1320.6 144.9 L1321.1 146.0 L1321.6 144.1 L1322.1 140.1 L1322.5 137.0 L1322.6 137.8 L1323.1 141.7 L1323.6 145.6 L1324.1 146.2 L1324.6 146.3 L1325.1 146.4 L1326.6 146.4 L1327.1 146.3 L1327.6 146.1 L1328.1 146.1 L1328.6 146.3 L1329.1 146.2 L1329.6 146.3 L1330.1 146.4 L1369.1 146.4 L1369.60 146.40 Z" fill="#1a38e0"/>
<path d="M351.60 267.92 L351.6 267.9 L399.1 267.9 L399.6 267.7 L400.1 267.6 L400.6 267.8 L401.1 267.9 L402.1 267.9 L402.6 267.7 L403.1 267.5 L403.6 267.4 L404.1 267.7 L404.6 267.9 L405.6 267.9 L406.1 267.9 L406.6 267.9 L407.1 267.8 L407.6 267.6 L408.1 267.6 L408.6 266.9 L409.1 265.9 L409.5 265.1 L409.6 265.3 L410.1 266.3 L410.6 267.3 L411.1 267.9 L411.6 267.8 L412.1 267.6 L412.6 267.5 L413.1 267.7 L413.6 267.9 L414.1 267.8 L414.6 267.8 L415.1 267.8 L415.6 267.9 L416.1 267.9 L416.6 267.9 L417.1 267.9 L419.6 267.9 L420.1 267.8 L420.6 267.7 L421.1 267.5 L421.6 267.7 L422.1 267.8 L422.6 267.8 L423.1 267.8 L423.6 267.8 L424.1 267.9 L424.6 267.8 L425.1 267.5 L425.6 267.8 L426.1 267.9 L426.6 267.8 L427.1 267.7 L427.6 267.7 L428.1 267.6 L428.6 267.6 L429.1 267.9 L433.6 267.9 L434.1 267.8 L434.6 267.6 L435.1 267.6 L435.6 267.8 L436.1 267.9 L436.6 267.9 L437.1 267.8 L437.6 267.7 L438.1 267.8 L438.6 267.9 L439.1 263.3 L439.6 255.7 L440.1 248.0 L440.3 244.9 L440.6 249.5 L441.1 257.2 L441.6 264.9 L442.1 264.7 L442.3 264.4 L442.6 264.8 L443.1 265.5 L443.6 266.2 L444.1 266.9 L444.6 267.6 L445.1 267.9 L446.6 267.9 L447.1 267.7 L447.6 267.5 L448.1 267.4 L448.6 267.6 L449.1 267.6 L449.6 267.6 L450.1 267.4 L450.6 267.1 L450.8 266.9 L451.1 267.1 L451.6 267.5 L452.1 267.5 L452.6 267.1 L453.1 265.6 L453.6 264.2 L453.7 263.9 L454.1 265.1 L454.6 266.5 L455.1 267.9 L455.6 267.9 L456.1 267.8 L456.6 267.8 L457.1 267.7 L457.6 267.6 L458.1 267.4 L458.6 267.4 L459.1 267.6 L459.6 267.8 L460.1 267.9 L461.6 267.9 L462.1 267.6 L462.6 267.2 L463.0 266.9 L463.1 267.0 L463.6 267.3 L464.1 267.7 L464.6 267.4 L465.1 267.7 L465.6 267.9 L467.1 267.9 L467.6 267.9 L468.1 267.7 L468.6 267.5 L469.1 267.3 L469.6 267.4 L470.1 267.6 L470.6 267.8 L471.1 267.9 L476.1 267.9 L476.6 267.8 L477.1 267.7 L477.6 267.7 L478.1 267.8 L478.6 267.9 L479.6 267.9 L480.1 267.9 L480.6 267.9 L481.1 267.9 L481.6 267.9 L482.1 267.9 L482.6 267.7 L483.1 267.6 L483.6 267.8 L484.1 267.8 L484.6 267.5 L485.1 267.4 L485.6 266.1 L486.1 264.2 L486.5 262.7 L486.6 263.1 L487.1 264.9 L487.6 266.8 L488.1 267.6 L488.6 267.9 L489.1 267.9 L490.6 267.9 L491.1 267.9 L491.6 267.8 L492.1 267.7 L492.6 267.8 L493.1 267.9 L493.6 267.9 L494.1 267.7 L494.6 267.6 L495.1 267.7 L495.6 267.8 L496.1 267.9 L496.6 267.9 L497.1 267.7 L497.6 267.7 L498.1 267.9 L498.6 267.9 L499.1 267.9 L499.6 267.8 L500.1 267.8 L500.6 267.9 L502.1 267.9 L502.6 267.8 L503.1 267.9 L504.1 267.9 L504.6 267.8 L505.1 267.6 L505.6 267.3 L506.1 267.3 L506.6 267.6 L507.1 267.8 L507.6 267.7 L508.1 267.6 L508.6 267.8 L509.1 267.9 L509.6 267.8 L510.1 267.5 L510.6 267.3 L511.1 267.4 L511.6 267.7 L512.1 267.6 L512.6 267.3 L513.1 267.3 L513.6 260.0 L514.1 250.0 L514.6 240.1 L515.1 250.0 L515.6 260.0 L516.1 267.7 L516.6 264.7 L517.1 261.5 L517.6 258.3 L518.1 261.5 L518.6 254.0 L519.1 244.1 L519.3 240.1 L519.6 246.1 L520.1 256.0 L520.6 263.6 L521.1 262.2 L521.2 261.9 L521.6 263.0 L522.1 264.4 L522.6 265.7 L523.1 267.1 L523.6 267.4 L524.1 267.3 L524.6 267.5 L525.1 267.7 L525.6 267.6 L526.1 267.6 L526.6 267.8 L527.1 267.9 L527.6 267.9 L528.1 267.8 L528.6 267.7 L529.1 267.8 L529.6 267.9 L530.1 267.9 L530.6 267.9 L531.1 267.9 L531.6 267.8 L532.1 267.8 L532.6 267.6 L533.1 267.5 L533.6 267.7 L534.1 267.9 L534.6 267.8 L535.1 267.5 L535.6 267.3 L536.1 267.6 L536.6 267.9 L537.1 267.9 L538.1 267.9 L538.6 267.7 L539.1 267.5 L539.6 267.4 L540.1 267.6 L540.6 267.7 L541.1 267.6 L541.6 267.7 L542.1 267.6 L542.6 267.4 L543.1 267.4 L543.6 267.6 L544.1 267.8 L544.6 267.9 L545.1 267.7 L545.6 267.8 L546.1 267.9 L548.1 267.9 L548.6 267.6 L549.1 267.3 L549.6 267.4 L550.1 267.6 L550.6 267.9 L552.1 267.9 L552.6 267.8 L553.1 267.8 L553.6 267.8 L554.1 267.8 L554.6 267.9 L555.1 267.9 L556.6 267.9 L557.1 267.8 L557.6 267.8 L558.1 267.9 L559.1 267.9 L559.6 267.8 L560.1 267.8 L560.6 267.7 L561.1 267.5 L561.6 267.4 L562.1 267.5 L562.6 267.7 L563.1 267.9 L563.6 267.8 L564.1 267.5 L564.6 267.3 L565.1 267.6 L565.6 267.8 L566.1 267.8 L566.6 267.9 L567.1 267.9 L567.6 267.9 L568.1 267.9 L568.6 267.8 L569.1 267.7 L569.6 267.8 L570.1 267.8 L570.6 267.9 L571.1 260.2 L571.6 250.5 L572.1 240.9 L572.2 238.9 L572.6 246.7 L573.1 256.3 L573.6 259.5 L573.9 258.3 L574.1 259.1 L574.6 261.0 L575.1 262.9 L575.6 264.8 L576.1 266.8 L576.6 267.8 L577.1 267.7 L577.6 267.6 L578.1 267.7 L578.6 267.9 L579.1 267.9 L579.6 267.7 L580.1 267.5 L580.6 267.7 L581.1 267.9 L581.6 267.9 L582.1 267.8 L582.6 267.5 L583.1 267.3 L583.6 267.5 L584.1 267.8 L584.6 267.9 L585.6 267.9 L586.1 267.6 L586.6 267.4 L587.1 267.7 L587.6 267.9 L590.1 267.9 L590.6 267.7 L591.1 267.4 L591.6 267.7 L592.1 267.9 L592.6 267.9 L593.1 267.6 L593.6 267.2 L594.0 266.9 L594.1 267.0 L594.6 267.3 L595.1 267.7 L595.6 267.9 L597.6 267.9 L598.1 267.6 L598.6 267.3 L599.1 267.6 L599.6 267.9 L600.1 267.9 L600.6 267.7 L601.1 267.5 L601.6 267.5 L602.1 267.7 L602.6 267.4 L603.1 267.3 L603.6 267.5 L604.1 267.8 L604.6 267.9 L605.1 267.9 L605.6 267.8 L606.1 267.8 L606.6 267.9 L607.6 267.9 L608.1 267.8 L608.6 267.7 L609.1 267.8 L609.6 267.9 L610.6 267.9 L611.1 267.8 L611.6 267.8 L612.1 267.7 L612.6 267.7 L613.1 267.7 L613.6 267.7 L614.1 267.5 L614.6 267.7 L615.1 267.9 L615.6 267.9 L616.1 267.8 L616.6 267.6 L617.1 267.8 L617.6 267.9 L619.1 267.9 L619.6 267.9 L620.1 267.8 L620.6 267.9 L626.6 267.9 L627.1 267.9 L627.6 267.8 L628.1 267.7 L628.6 267.8 L629.1 267.8 L629.6 267.9 L632.6 267.9 L633.1 267.8 L633.6 267.6 L634.1 267.4 L634.6 267.5 L635.1 267.7 L635.6 267.9 L636.1 267.8 L636.6 267.7 L637.1 267.7 L637.6 267.8 L638.1 267.8 L638.6 267.8 L639.1 267.7 L639.6 267.5 L640.1 267.5 L640.6 267.6 L641.1 267.5 L641.6 267.7 L642.1 267.8 L642.6 267.9 L643.1 267.9 L643.6 267.8 L644.1 267.7 L644.6 267.7 L645.1 267.8 L645.6 267.8 L646.1 267.6 L646.6 267.4 L647.1 267.4 L647.6 267.6 L648.1 267.8 L648.6 267.8 L649.1 267.5 L649.6 267.7 L650.1 267.7 L650.6 267.6 L651.1 267.7 L651.6 267.8 L652.1 267.9 L654.6 267.9 L655.1 267.7 L655.6 267.4 L656.1 267.7 L656.6 267.9 L662.1 267.9 L662.6 267.8 L663.1 267.8 L663.6 267.6 L664.1 267.5 L664.6 267.6 L665.1 267.7 L665.6 267.4 L666.1 267.6 L666.6 267.8 L667.1 267.9 L667.6 267.9 L668.1 267.8 L668.6 267.6 L669.1 267.7 L669.6 267.9 L670.6 267.9 L671.1 267.8 L671.6 267.6 L672.1 267.6 L672.6 267.8 L673.1 267.9 L673.6 267.9 L674.1 267.8 L674.6 267.8 L675.1 267.9 L676.6 267.9 L677.1 267.6 L677.6 267.3 L678.1 267.6 L678.6 267.9 L680.1 267.9 L680.6 267.7 L681.1 267.6 L681.6 267.8 L682.1 267.7 L682.6 267.8 L683.1 267.8 L683.6 267.9 L684.6 267.9 L685.1 267.9 L685.6 267.8 L686.1 267.9 L686.6 267.9 L687.1 267.4 L687.6 266.5 L688.1 265.6 L688.6 264.8 L688.8 264.4 L689.1 264.9 L689.6 265.7 L690.0 264.9 L690.1 265.1 L690.6 266.1 L691.1 267.1 L691.6 267.7 L692.1 267.9 L694.1 267.9 L694.6 267.8 L695.1 267.6 L695.6 267.7 L696.1 267.8 L696.6 267.9 L697.1 267.9 L697.6 267.8 L698.1 267.7 L698.6 267.6 L699.1 267.7 L699.6 267.9 L700.1 267.9 L700.6 267.2 L701.1 265.9 L701.6 264.7 L701.7 264.4 L702.1 265.4 L702.6 266.7 L703.1 267.9 L703.6 267.7 L704.1 267.5 L704.6 267.4 L705.1 267.6 L705.6 267.8 L706.1 267.9 L708.1 267.9 L708.6 267.9 L709.1 267.9 L710.6 267.9 L711.1 267.7 L711.6 267.6 L712.1 267.6 L712.6 267.7 L713.1 267.4 L713.6 267.6 L714.1 267.9 L714.6 267.7 L715.1 267.6 L715.6 267.5 L716.1 267.7 L716.6 267.6 L717.1 267.4 L717.6 267.7 L718.1 267.9 L718.6 267.8 L719.1 267.7 L719.6 267.7 L720.1 267.6 L720.6 267.7 L721.1 267.8 L721.6 267.9 L722.1 267.9 L722.6 264.3 L723.1 259.7 L723.6 255.2 L724.0 251.5 L724.1 252.4 L724.6 257.0 L725.1 261.5 L725.6 266.1 L726.1 267.9 L728.1 267.9 L728.6 267.8 L729.1 267.8 L729.6 267.8 L730.1 267.5 L730.6 267.5 L731.1 267.8 L731.6 267.9 L732.1 267.9 L732.6 267.4 L733.1 266.6 L733.6 265.8 L733.7 265.6 L734.1 266.3 L734.6 267.1 L735.1 267.9 L735.6 267.8 L736.1 267.7 L736.6 267.6 L737.1 267.7 L737.6 267.7 L738.1 267.6 L738.6 267.8 L739.1 267.8 L739.6 267.8 L740.1 267.8 L740.6 267.7 L741.1 267.6 L741.6 267.7 L742.1 267.8 L742.6 267.8 L743.1 267.7 L743.6 267.7 L744.1 267.8 L744.6 267.4 L745.1 267.5 L745.6 267.9 L746.1 267.7 L746.6 267.4 L747.1 267.6 L747.6 267.9 L748.1 267.9 L754.6 267.9 L755.1 267.8 L755.6 267.7 L756.1 267.7 L756.6 267.8 L757.1 267.9 L758.1 267.9 L758.6 267.8 L759.1 267.6 L759.6 267.4 L760.1 267.6 L760.6 267.9 L761.6 267.9 L762.1 267.8 L762.6 267.8 L763.1 267.9 L764.1 267.9 L764.6 267.8 L765.1 267.8 L765.6 267.9 L767.6 267.9 L768.1 267.9 L768.6 267.7 L769.1 267.8 L769.6 267.9 L771.1 267.9 L771.6 267.8 L772.1 267.7 L772.6 267.5 L773.1 267.6 L773.6 267.7 L774.1 267.9 L774.6 267.9 L775.1 267.9 L775.6 267.8 L776.1 267.7 L776.6 267.8 L777.1 267.8 L777.6 267.9 L778.1 267.9 L778.6 267.8 L779.1 267.8 L779.6 267.8 L780.1 267.8 L780.6 267.9 L784.1 267.9 L784.6 267.8 L785.1 267.7 L785.6 267.6 L786.1 267.7 L786.6 267.6 L787.1 267.4 L787.6 267.6 L788.1 267.5 L788.6 267.2 L789.1 267.5 L789.6 267.7 L790.1 267.9 L790.6 267.9 L791.1 267.8 L791.6 267.7 L792.1 267.6 L792.6 267.5 L793.1 267.7 L793.6 267.8 L794.1 267.9 L795.1 267.9 L795.6 267.9 L796.1 267.9 L796.6 267.8 L797.1 267.8 L797.6 267.9 L798.1 267.7 L798.6 267.4 L799.1 267.5 L799.6 267.7 L800.1 267.9 L800.6 267.8 L801.1 267.6 L801.6 267.4 L802.1 267.5 L802.6 267.7 L803.1 267.9 L803.6 267.8 L804.1 267.7 L804.6 267.8 L805.1 267.8 L805.6 267.6 L806.1 267.3 L806.6 266.9 L807.1 267.3 L807.6 267.6 L808.1 267.9 L808.6 267.8 L809.1 267.8 L809.6 267.9 L811.6 267.9 L812.1 267.8 L812.6 267.5 L813.1 267.3 L813.6 267.5 L814.1 267.4 L814.6 267.4 L815.1 267.7 L815.6 267.9 L817.6 267.9 L818.1 267.8 L818.6 267.7 L819.1 267.8 L819.6 267.9 L820.1 267.9 L820.6 267.7 L821.1 267.6 L821.6 267.7 L822.1 267.8 L822.6 267.9 L823.1 267.7 L823.6 267.7 L824.1 267.8 L824.6 267.9 L825.1 267.9 L825.6 267.7 L826.1 267.5 L826.6 267.4 L827.1 267.6 L827.6 267.8 L828.1 267.9 L828.6 267.9 L829.1 267.9 L829.6 267.7 L830.1 267.6 L830.6 267.4 L831.1 267.6 L831.6 267.8 L832.1 267.9 L832.6 267.9 L833.1 267.8 L833.6 267.7 L834.1 267.6 L834.6 267.7 L835.1 267.9 L835.6 267.9 L838.6 267.9 L839.1 267.8 L839.6 267.5 L840.1 267.3 L840.6 267.4 L841.1 267.7 L841.6 267.9 L842.1 267.8 L842.6 267.8 L843.1 267.8 L843.6 267.8 L844.1 267.9 L844.6 267.8 L845.1 267.7 L845.6 267.5 L846.1 267.6 L846.6 267.8 L847.1 267.8 L847.6 267.9 L848.1 267.9 L848.6 267.9 L849.1 267.6 L849.6 266.8 L850.1 265.9 L850.3 265.6 L850.6 266.1 L851.1 266.9 L851.6 267.8 L852.1 267.9 L852.6 267.9 L853.1 267.7 L853.6 267.4 L854.1 267.4 L854.6 267.7 L855.1 267.6 L855.6 267.7 L856.1 267.8 L856.6 267.9 L857.1 267.8 L857.6 267.7 L858.1 267.6 L858.6 267.7 L859.1 267.9 L859.6 267.9 L860.6 267.9 L861.1 267.9 L861.6 267.9 L862.1 267.8 L862.6 267.7 L863.1 267.8 L863.6 267.9 L865.6 267.9 L866.1 267.9 L866.6 267.8 L867.1 267.9 L867.6 267.9 L868.1 267.9 L868.6 267.9 L869.1 267.9 L870.6 267.9 L871.1 267.9 L871.6 267.5 L872.1 267.4 L872.6 267.7 L873.1 267.8 L873.6 267.7 L874.1 267.8 L874.6 267.9 L875.1 267.9 L875.6 267.8 L876.1 267.6 L876.6 267.7 L877.1 267.8 L877.6 267.9 L878.1 267.9 L878.6 267.8 L879.1 267.6 L879.6 267.3 L880.1 267.4 L880.6 267.6 L881.1 267.6 L881.6 267.6 L882.1 267.8 L882.6 267.9 L883.1 267.9 L883.6 267.8 L884.1 267.7 L884.6 267.5 L885.1 267.6 L885.6 267.7 L886.1 267.8 L886.6 267.6 L887.1 267.6 L887.6 267.8 L888.1 267.9 L888.6 267.9 L889.1 267.6 L889.6 266.9 L890.1 266.2 L890.3 265.9 L890.6 266.3 L891.1 267.1 L891.6 267.6 L892.1 267.6 L892.6 267.8 L893.1 267.9 L893.6 267.9 L894.1 267.7 L894.6 267.6 L895.1 267.6 L895.6 267.7 L896.1 267.9 L896.6 267.9 L904.6 267.9 L905.1 267.7 L905.6 267.6 L906.1 267.5 L906.6 267.7 L907.1 267.7 L907.6 267.8 L908.1 267.9 L908.6 267.9 L910.1 267.9 L910.6 267.8 L911.1 267.7 L911.6 267.6 L912.1 267.8 L912.6 267.9 L913.1 267.7 L913.6 267.4 L914.1 267.4 L914.6 267.7 L915.1 267.7 L915.6 267.3 L916.1 267.5 L916.6 267.9 L918.1 267.9 L918.6 267.7 L919.1 267.5 L919.6 267.7 L920.1 267.9 L921.1 267.9 L921.6 267.8 L922.1 267.6 L922.6 267.4 L923.1 267.6 L923.6 267.8 L924.1 267.9 L926.6 267.9 L927.1 267.7 L927.6 267.4 L928.1 267.5 L928.6 267.8 L929.1 267.9 L930.1 267.9 L930.6 267.8 L931.1 267.6 L931.6 267.7 L932.1 267.8 L932.6 267.9 L938.1 267.9 L938.6 267.8 L939.1 267.7 L939.6 267.6 L940.1 267.7 L940.6 267.8 L941.1 267.9 L941.6 267.9 L942.1 267.8 L942.6 267.7 L943.1 267.7 L943.6 267.8 L944.1 267.9 L944.6 267.9 L945.1 267.7 L945.6 267.3 L946.1 267.5 L946.6 267.8 L947.1 267.9 L948.1 267.9 L948.6 267.8 L949.1 267.8 L949.6 267.8 L950.1 267.9 L950.6 267.9 L951.1 267.8 L951.6 267.7 L952.1 267.5 L952.6 267.5 L953.1 267.7 L953.6 267.6 L954.1 267.4 L954.6 267.7 L955.1 267.8 L955.6 267.7 L956.1 267.7 L956.6 267.8 L957.1 267.8 L957.6 267.9 L959.6 267.9 L960.1 267.7 L960.6 267.6 L961.1 267.8 L961.6 267.9 L963.1 267.9 L963.6 267.9 L964.1 267.8 L964.6 267.8 L965.1 267.9 L965.6 267.9 L966.1 267.8 L966.6 267.7 L967.1 267.6 L967.6 267.7 L968.1 267.8 L968.6 267.6 L969.1 267.3 L969.6 267.6 L970.1 267.9 L971.6 267.9 L972.1 267.9 L972.6 267.9 L977.6 267.9 L978.1 267.9 L978.6 267.8 L979.1 267.9 L980.1 267.9 L980.6 267.9 L981.1 267.8 L981.6 267.7 L982.1 267.8 L982.6 267.6 L983.1 267.7 L983.6 267.8 L984.1 267.7 L984.6 267.5 L985.1 267.4 L985.6 267.6 L986.1 267.8 L986.6 267.9 L987.1 267.9 L987.6 267.8 L988.1 267.7 L988.6 267.8 L989.1 267.9 L989.6 267.9 L990.1 267.9 L990.6 267.9 L991.1 267.6 L991.6 267.7 L992.1 267.8 L992.6 267.7 L993.1 267.7 L993.6 267.6 L994.1 267.3 L994.6 267.5 L995.1 267.8 L995.6 267.9 L996.1 267.9 L996.6 267.8 L997.1 267.6 L997.6 267.4 L998.1 267.5 L998.6 267.7 L999.1 267.9 L999.6 267.8 L1000.1 267.9 L1000.6 267.8 L1001.1 267.7 L1001.6 267.7 L1002.1 267.8 L1002.6 267.7 L1003.1 267.8 L1003.6 267.9 L1004.6 267.9 L1005.1 267.2 L1005.6 263.8 L1006.1 260.4 L1006.4 258.3 L1006.6 259.7 L1007.1 263.1 L1007.6 266.5 L1008.1 267.5 L1008.6 267.4 L1009.1 267.7 L1009.6 267.8 L1010.1 267.7 L1010.6 267.8 L1011.1 267.9 L1011.6 267.8 L1012.1 267.5 L1012.6 267.3 L1013.1 267.5 L1013.6 267.8 L1014.1 267.9 L1018.1 267.9 L1018.6 267.8 L1019.1 267.6 L1019.6 267.7 L1020.1 267.9 L1020.6 264.1 L1021.1 259.3 L1021.5 255.4 L1021.6 256.4 L1022.1 261.2 L1022.6 266.0 L1023.1 262.8 L1023.6 257.8 L1023.9 254.7 L1024.1 256.8 L1024.6 261.8 L1025.1 266.9 L1025.6 267.4 L1026.1 267.5 L1026.6 267.7 L1027.1 267.7 L1027.6 267.4 L1028.1 267.3 L1028.6 267.6 L1029.1 267.9 L1029.6 267.8 L1030.1 267.7 L1030.6 267.7 L1031.1 267.8 L1031.6 267.9 L1032.1 267.9 L1032.6 267.9 L1033.1 267.8 L1033.6 267.7 L1034.1 267.7 L1034.6 267.8 L1035.1 267.9 L1035.6 267.9 L1036.1 267.6 L1036.6 267.4 L1037.1 267.5 L1037.6 267.7 L1038.1 267.9 L1038.6 267.9 L1039.1 267.8 L1039.6 267.8 L1040.1 267.9 L1043.1 267.9 L1043.6 267.9 L1044.1 267.9 L1044.6 267.9 L1046.1 267.9 L1046.6 267.8 L1047.1 267.7 L1047.6 267.8 L1048.1 267.9 L1048.6 267.8 L1049.1 267.8 L1049.6 267.9 L1050.1 267.8 L1050.6 267.5 L1051.1 267.3 L1051.6 267.5 L1052.1 267.7 L1052.6 267.7 L1053.1 267.5 L1053.6 267.5 L1054.1 267.8 L1054.6 267.9 L1055.1 267.8 L1055.6 267.8 L1056.1 267.7 L1056.6 267.8 L1057.1 267.9 L1059.1 267.9 L1059.6 267.9 L1060.1 267.8 L1060.6 267.9 L1061.1 267.9 L1064.1 267.9 L1064.6 267.8 L1065.1 267.6 L1065.6 267.4 L1066.1 267.6 L1066.6 267.6 L1067.1 267.6 L1067.6 267.8 L1068.1 267.9 L1069.1 267.9 L1069.6 267.7 L1070.1 267.6 L1070.6 267.5 L1071.1 267.7 L1071.6 267.9 L1072.1 267.9 L1072.6 267.7 L1073.1 267.5 L1073.6 267.4 L1074.1 267.6 L1074.6 267.8 L1075.1 267.9 L1080.6 267.9 L1081.1 267.7 L1081.6 267.5 L1082.1 267.7 L1082.6 267.9 L1083.1 267.8 L1083.6 267.6 L1084.1 267.5 L1084.6 267.7 L1085.1 267.8 L1085.6 267.8 L1086.1 267.9 L1087.6 267.9 L1088.1 267.8 L1088.6 267.7 L1089.1 267.9 L1089.6 267.9 L1090.1 267.9 L1090.6 267.7 L1091.1 267.5 L1091.6 267.6 L1092.1 267.8 L1092.6 267.9 L1093.1 267.9 L1093.6 267.8 L1094.1 267.7 L1094.6 267.6 L1095.1 267.7 L1095.6 267.8 L1096.1 267.8 L1096.6 267.8 L1097.1 267.9 L1097.6 267.9 L1101.1 267.9 L1101.6 267.9 L1102.1 267.7 L1102.6 267.6 L1103.1 267.8 L1103.6 267.8 L1104.1 267.5 L1104.6 267.4 L1105.1 267.8 L1105.6 267.5 L1106.1 267.7 L1106.6 267.8 L1107.1 267.7 L1107.6 267.6 L1108.1 267.7 L1108.6 267.7 L1109.1 267.6 L1109.6 267.7 L1110.1 267.8 L1110.6 267.9 L1111.1 267.9 L1111.6 267.8 L1112.1 267.7 L1112.6 267.7 L1113.1 267.8 L1113.6 267.7 L1114.1 267.5 L1114.6 267.2 L1115.0 266.9 L1115.1 267.0 L1115.6 267.3 L1116.1 267.7 L1116.6 267.9 L1117.1 267.8 L1117.6 267.8 L1118.1 267.9 L1120.1 267.9 L1120.6 267.8 L1121.1 267.5 L1121.6 267.6 L1122.1 267.9 L1122.6 267.8 L1123.1 267.8 L1123.6 267.9 L1124.1 267.9 L1124.6 267.9 L1125.1 267.8 L1125.6 267.8 L1126.1 267.8 L1126.6 267.8 L1127.1 267.6 L1127.6 267.5 L1128.1 267.8 L1128.6 267.9 L1129.1 267.8 L1129.6 267.6 L1130.1 267.7 L1130.6 267.9 L1131.1 267.9 L1131.6 267.9 L1132.1 267.7 L1132.6 267.6 L1133.1 267.7 L1133.6 267.8 L1134.1 267.9 L1134.6 267.9 L1135.1 267.9 L1135.6 267.9 L1136.1 267.9 L1137.1 267.9 L1137.6 267.8 L1138.1 267.7 L1138.6 267.5 L1139.1 267.7 L1139.6 267.9 L1140.6 267.9 L1141.1 267.7 L1141.6 267.5 L1142.1 267.3 L1142.6 267.5 L1143.1 267.8 L1143.6 267.8 L1144.1 267.9 L1144.6 267.9 L1145.1 267.9 L1145.6 267.8 L1146.1 267.8 L1146.6 267.9 L1151.6 267.9 L1152.1 267.8 L1152.6 267.6 L1153.1 267.5 L1153.6 267.8 L1154.1 267.8 L1154.6 267.6 L1155.1 267.4 L1155.6 267.5 L1156.1 267.7 L1156.6 267.9 L1157.1 267.9 L1157.6 267.9 L1159.1 267.9 L1159.6 267.7 L1160.1 267.5 L1160.6 267.7 L1161.1 267.6 L1161.6 267.4 L1162.1 267.5 L1162.6 267.7 L1163.1 259.6 L1163.6 249.3 L1164.1 239.0 L1164.3 234.8 L1164.6 241.0 L1165.1 251.4 L1165.6 258.9 L1166.0 257.2 L1166.1 257.6 L1166.6 259.8 L1167.1 261.9 L1167.6 264.1 L1168.1 266.2 L1168.6 267.7 L1169.1 267.9 L1171.1 267.9 L1171.6 267.8 L1172.1 267.7 L1172.6 267.2 L1173.1 266.6 L1173.3 266.4 L1173.6 266.7 L1174.1 267.3 L1174.6 267.8 L1175.1 267.9 L1175.6 267.9 L1176.1 267.8 L1176.6 267.7 L1177.1 267.7 L1177.6 267.8 L1178.1 267.7 L1178.6 267.5 L1179.1 267.3 L1179.6 267.4 L1180.1 267.6 L1180.6 267.9 L1181.1 267.9 L1182.6 267.9 L1183.1 267.7 L1183.6 266.4 L1184.1 265.2 L1184.4 264.4 L1184.6 264.9 L1185.1 266.2 L1185.6 267.4 L1186.1 267.9 L1186.6 267.9 L1187.1 267.8 L1187.6 267.7 L1188.1 267.7 L1188.6 267.8 L1189.1 267.9 L1189.6 267.7 L1190.1 267.5 L1190.6 267.6 L1191.1 267.7 L1191.6 267.5 L1192.1 267.5 L1192.6 267.7 L1193.1 267.9 L1193.6 267.9 L1194.1 267.7 L1194.6 267.6 L1195.1 267.6 L1195.6 267.7 L1196.1 267.9 L1196.6 267.7 L1197.1 267.6 L1197.6 267.6 L1198.1 267.8 L1198.6 267.9 L1201.6 267.9 L1202.1 267.8 L1202.6 267.8 L1203.1 267.8 L1203.6 267.4 L1204.1 267.5 L1204.6 267.9 L1207.1 267.9 L1207.6 267.8 L1208.1 267.6 L1208.6 267.4 L1209.1 267.6 L1209.6 267.8 L1210.1 267.9 L1210.6 267.8 L1211.1 267.4 L1211.6 267.5 L1212.1 267.9 L1212.6 267.9 L1213.1 267.9 L1213.6 267.7 L1214.1 267.6 L1214.6 267.7 L1215.1 267.8 L1215.6 267.9 L1216.1 267.9 L1216.6 267.6 L1217.1 267.5 L1217.6 267.8 L1218.1 267.7 L1218.6 267.8 L1219.1 267.9 L1219.6 267.9 L1220.1 267.8 L1220.6 267.8 L1221.1 266.9 L1221.6 265.3 L1222.1 263.6 L1222.6 261.9 L1223.1 263.6 L1223.6 265.3 L1224.1 266.9 L1224.6 267.9 L1225.1 267.9 L1225.6 267.7 L1226.1 267.6 L1226.6 267.5 L1227.1 267.7 L1227.6 267.8 L1228.1 267.9 L1229.1 267.9 L1229.6 267.8 L1230.1 267.6 L1230.6 267.6 L1231.1 267.8 L1231.6 267.9 L1232.1 267.9 L1232.6 267.9 L1233.1 267.9 L1233.6 267.9 L1235.1 267.9 L1235.6 267.8 L1236.1 267.5 L1236.6 267.5 L1237.1 267.8 L1237.6 267.8 L1238.1 267.9 L1238.6 267.8 L1239.1 267.8 L1239.6 267.7 L1240.1 267.8 L1240.6 267.9 L1241.6 267.9 L1242.1 267.8 L1242.6 267.8 L1243.1 267.8 L1243.6 267.9 L1244.1 267.7 L1244.6 267.7 L1245.1 267.8 L1245.6 267.9 L1246.1 267.8 L1246.6 267.7 L1247.1 267.7 L1247.6 267.8 L1248.1 267.9 L1248.6 267.6 L1249.1 267.3 L1249.6 267.6 L1250.1 267.9 L1250.6 267.9 L1251.1 267.8 L1251.6 267.8 L1252.1 267.9 L1252.6 267.9 L1253.1 267.8 L1253.6 267.6 L1254.1 267.5 L1254.6 267.6 L1255.1 267.4 L1255.6 267.5 L1256.1 267.7 L1256.6 267.9 L1260.1 267.9 L1260.6 267.8 L1261.1 267.6 L1261.6 267.6 L1262.1 267.4 L1262.6 267.3 L1263.1 267.6 L1263.6 267.8 L1264.1 267.7 L1264.6 267.8 L1265.1 267.9 L1265.6 267.6 L1266.1 267.3 L1266.6 267.7 L1267.1 267.9 L1268.1 267.9 L1268.6 267.8 L1269.1 267.6 L1269.6 267.5 L1270.1 267.7 L1270.6 267.9 L1271.1 267.9 L1271.6 267.8 L1272.1 267.7 L1272.6 267.7 L1273.1 267.8 L1273.6 267.9 L1274.1 267.8 L1274.6 267.7 L1275.1 255.2 L1275.6 242.6 L1276.0 232.4 L1276.1 235.0 L1276.6 247.6 L1277.1 260.3 L1277.6 267.7 L1278.1 266.5 L1278.6 259.1 L1279.1 251.8 L1279.4 247.4 L1279.6 250.3 L1280.1 254.9 L1280.6 222.5 L1281.1 190.0 L1281.3 177.0 L1281.6 196.5 L1282.1 229.0 L1282.6 261.4 L1283.1 262.3 L1283.6 260.4 L1283.8 259.6 L1284.1 260.8 L1284.6 262.6 L1285.1 264.5 L1285.6 266.4 L1286.1 267.9 L1287.1 267.9 L1287.6 267.7 L1288.1 267.5 L1288.6 267.8 L1289.1 267.9 L1290.6 267.9 L1291.1 267.9 L1291.6 267.9 L1292.6 267.9 L1293.1 267.8 L1293.6 267.5 L1294.1 267.4 L1294.6 267.7 L1295.1 267.8 L1295.6 267.7 L1296.1 267.7 L1296.6 267.8 L1297.1 267.9 L1297.6 267.9 L1298.1 267.9 L1298.6 267.7 L1299.1 267.5 L1299.6 267.7 L1300.1 267.9 L1300.6 267.7 L1301.1 267.4 L1301.6 267.5 L1302.1 267.8 L1302.6 267.9 L1303.1 267.9 L1303.6 267.9 L1305.1 267.9 L1305.6 267.9 L1306.1 267.8 L1306.6 267.9 L1307.1 267.9 L1308.6 267.9 L1309.1 267.8 L1309.6 267.8 L1310.1 267.9 L1310.6 267.7 L1311.1 267.4 L1311.6 267.5 L1312.1 267.8 L1312.6 267.9 L1313.1 267.9 L1313.6 267.8 L1314.1 267.8 L1314.6 267.8 L1315.1 267.8 L1315.6 267.9 L1316.6 267.9 L1317.1 267.8 L1317.6 267.7 L1318.1 265.0 L1318.6 261.3 L1319.0 258.4 L1319.1 259.2 L1319.6 262.8 L1320.1 266.5 L1320.6 267.4 L1321.1 267.3 L1321.6 266.0 L1322.1 264.0 L1322.6 262.0 L1323.1 264.0 L1323.6 266.0 L1324.1 267.2 L1324.6 267.4 L1325.1 267.6 L1325.6 267.9 L1326.1 267.9 L1326.6 267.9 L1327.1 267.8 L1327.6 267.7 L1328.1 267.9 L1328.6 267.9 L1329.1 267.8 L1329.6 267.9 L1369.1 267.9 L1369.60 267.92 Z" fill="#1eb40a"/>
<path d="M351.60 389.44 L351.6 389.4 L400.1 389.4 L400.6 389.3 L401.1 389.2 L401.6 389.2 L402.1 389.3 L402.6 389.4 L403.1 389.3 L403.6 389.2 L404.1 389.3 L404.6 389.3 L405.1 389.3 L405.6 389.4 L406.1 389.2 L406.6 389.1 L407.1 389.1 L407.6 389.3 L408.1 389.4 L409.1 389.4 L409.6 389.3 L410.1 389.1 L410.6 388.9 L410.7 388.8 L411.1 389.0 L411.6 389.2 L412.1 389.2 L412.6 389.3 L413.1 389.4 L413.6 389.3 L414.1 389.3 L414.6 389.4 L417.6 389.4 L418.1 389.4 L418.6 389.2 L419.1 389.3 L419.6 389.4 L420.1 389.4 L420.6 389.4 L421.1 389.4 L421.6 389.3 L422.1 389.2 L422.6 389.2 L423.1 389.4 L423.6 389.3 L424.1 389.1 L424.6 389.2 L425.1 389.3 L425.6 389.3 L426.1 389.3 L426.6 389.4 L427.1 389.4 L427.6 389.3 L428.1 389.3 L428.6 389.4 L429.1 389.4 L429.6 389.3 L430.1 389.2 L430.6 389.1 L431.1 389.2 L431.6 389.3 L432.1 389.4 L432.6 389.3 L433.1 389.3 L433.6 389.3 L434.1 389.4 L434.6 389.3 L435.1 389.2 L435.6 389.3 L436.1 389.3 L436.6 389.4 L437.1 389.4 L437.6 389.4 L438.1 389.3 L438.6 389.4 L439.1 389.2 L439.6 388.5 L440.1 387.9 L440.3 387.6 L440.6 388.0 L441.1 388.7 L441.6 389.3 L442.1 389.2 L442.6 389.1 L443.1 389.1 L443.6 389.3 L444.1 389.2 L444.6 389.1 L445.1 389.1 L445.6 389.2 L446.1 389.4 L446.6 389.4 L448.6 389.4 L449.1 389.4 L449.6 389.3 L450.1 389.4 L451.1 389.4 L451.6 389.2 L452.1 389.0 L452.6 388.9 L453.0 388.7 L453.1 388.8 L453.6 389.0 L454.1 389.2 L454.6 389.3 L455.1 389.4 L460.6 389.4 L461.1 389.4 L461.6 389.4 L462.1 389.4 L464.1 389.4 L464.6 389.3 L465.1 389.1 L465.6 389.3 L466.1 389.4 L466.6 389.2 L467.1 389.1 L467.6 389.2 L468.1 389.3 L468.6 389.3 L469.1 389.2 L469.6 389.1 L470.1 389.3 L470.6 389.4 L472.6 389.4 L473.1 389.4 L473.6 389.3 L474.1 389.3 L474.6 389.4 L475.1 389.4 L476.1 389.4 L476.6 389.3 L477.1 389.1 L477.6 389.1 L478.1 389.3 L478.6 389.4 L479.1 389.4 L479.6 389.4 L480.1 389.3 L480.6 389.2 L481.1 389.2 L481.6 389.3 L482.1 389.4 L482.6 389.4 L483.1 389.2 L483.6 389.0 L484.1 389.1 L484.6 389.3 L485.1 388.7 L485.6 388.0 L486.0 387.4 L486.1 387.6 L486.6 388.3 L487.1 389.0 L487.6 389.4 L488.1 389.3 L488.6 389.2 L489.1 389.2 L489.6 389.3 L490.1 389.4 L490.6 389.4 L491.1 389.3 L491.6 389.3 L492.1 389.4 L492.6 389.3 L493.1 389.2 L493.6 389.0 L494.1 389.2 L494.6 389.3 L495.1 389.4 L497.1 389.4 L497.6 389.4 L498.1 389.3 L498.6 389.2 L499.1 389.3 L499.6 389.4 L500.1 389.3 L500.6 389.2 L501.1 389.0 L501.6 389.2 L502.1 389.4 L506.1 389.4 L506.6 389.4 L507.1 389.1 L507.6 389.2 L508.1 389.4 L508.6 389.4 L509.1 389.3 L509.6 389.3 L510.1 389.3 L510.6 389.4 L511.1 389.4 L511.6 389.4 L512.1 389.4 L512.6 389.4 L513.1 389.4 L513.6 387.3 L514.1 384.6 L514.6 381.8 L515.1 384.6 L515.6 387.3 L516.1 389.4 L516.6 388.5 L517.1 387.3 L517.6 386.1 L518.1 387.3 L518.6 387.6 L519.1 386.3 L519.3 385.7 L519.6 386.5 L520.1 387.9 L520.6 389.2 L521.1 389.2 L521.6 389.0 L522.1 389.3 L522.6 389.4 L526.1 389.4 L526.6 389.4 L527.1 389.3 L527.6 389.4 L528.1 389.3 L528.6 389.3 L529.1 389.3 L529.6 389.2 L530.1 389.2 L530.6 389.4 L531.1 389.4 L531.6 389.3 L532.1 389.2 L532.6 389.3 L533.1 389.2 L533.6 389.2 L534.1 389.3 L534.6 389.3 L535.1 389.4 L535.6 389.4 L536.1 389.4 L536.6 389.2 L537.1 389.0 L537.6 389.1 L538.1 389.3 L538.6 389.4 L543.1 389.4 L543.6 389.3 L544.1 389.4 L544.6 389.4 L545.1 389.4 L545.6 389.4 L546.1 389.3 L546.6 389.4 L547.1 389.4 L551.1 389.4 L551.6 389.3 L552.1 389.2 L552.6 389.2 L553.1 389.3 L553.6 389.4 L554.1 389.3 L554.6 389.2 L555.1 389.0 L555.6 389.2 L556.1 389.3 L556.6 389.4 L557.1 389.4 L557.6 389.4 L558.1 389.4 L559.1 389.4 L559.6 389.4 L560.1 389.2 L560.6 389.1 L561.1 389.1 L561.6 389.3 L562.1 389.2 L562.6 389.2 L563.1 389.3 L563.6 389.4 L564.1 389.4 L564.6 389.3 L565.1 389.3 L565.6 389.2 L566.1 389.3 L566.6 389.4 L567.1 389.4 L567.6 389.3 L568.1 389.3 L568.6 389.2 L569.1 389.3 L569.6 389.3 L570.1 389.4 L570.6 389.4 L571.1 387.3 L571.6 385.3 L572.1 383.2 L572.2 382.7 L572.6 384.4 L573.1 386.5 L573.6 386.8 L574.0 386.1 L574.1 386.3 L574.6 387.1 L575.1 388.0 L575.6 388.8 L576.1 389.3 L576.6 389.3 L577.1 389.3 L577.6 389.3 L578.1 389.4 L578.6 389.4 L583.6 389.4 L584.1 389.4 L584.6 389.3 L585.1 389.3 L585.6 389.4 L586.6 389.4 L587.1 389.3 L587.6 389.1 L588.1 389.1 L588.6 389.3 L589.1 389.4 L589.6 389.4 L590.1 389.4 L590.6 389.4 L591.1 389.3 L591.6 389.2 L592.1 389.2 L592.6 389.3 L593.1 389.3 L593.6 389.3 L594.1 389.4 L594.6 389.3 L595.1 389.1 L595.6 389.2 L596.1 389.3 L596.6 389.3 L597.1 389.4 L597.6 389.4 L598.1 389.4 L598.6 389.2 L599.1 389.3 L599.6 389.4 L600.1 389.4 L600.6 389.4 L601.1 389.3 L601.6 389.4 L602.1 389.4 L602.6 389.4 L603.1 389.3 L603.6 389.2 L604.1 389.1 L604.6 389.2 L605.1 389.3 L605.6 389.3 L606.1 389.2 L606.6 389.3 L607.1 389.4 L607.6 389.4 L608.1 389.4 L608.6 389.4 L610.6 389.4 L611.1 389.4 L611.6 389.4 L612.1 389.4 L612.6 389.3 L613.1 389.3 L613.6 389.2 L614.1 389.3 L614.6 389.4 L616.1 389.4 L616.6 389.4 L617.1 389.4 L622.6 389.4 L623.1 389.4 L623.6 389.3 L624.1 389.4 L624.6 389.2 L625.1 389.1 L625.6 389.3 L626.1 389.4 L627.1 389.4 L627.6 389.4 L628.1 389.3 L628.6 389.3 L629.1 389.4 L630.1 389.4 L630.6 389.3 L631.1 389.2 L631.6 389.1 L632.1 389.2 L632.6 389.3 L633.1 389.3 L633.6 389.2 L634.1 389.1 L634.6 389.2 L635.1 389.3 L635.6 389.4 L636.1 389.4 L636.6 389.3 L637.1 389.2 L637.6 389.0 L638.1 389.1 L638.6 389.3 L639.1 389.4 L641.1 389.4 L641.6 389.4 L642.1 389.3 L642.6 389.2 L643.1 389.3 L643.6 389.4 L644.1 389.2 L644.6 389.1 L645.1 389.2 L645.6 389.3 L646.1 389.1 L646.6 389.3 L647.1 389.4 L648.1 389.4 L648.6 389.4 L649.1 389.1 L649.6 389.1 L650.1 389.3 L650.6 389.2 L651.1 389.2 L651.6 389.3 L652.1 389.3 L652.6 389.2 L653.1 389.2 L653.6 389.3 L654.1 389.3 L654.6 389.3 L655.1 389.4 L655.6 389.4 L658.1 389.4 L658.6 389.3 L659.1 389.1 L659.6 389.1 L660.1 389.3 L660.6 389.4 L661.1 389.4 L661.6 389.3 L662.1 389.1 L662.6 389.3 L663.1 389.4 L669.6 389.4 L670.1 389.4 L670.6 389.3 L671.1 389.4 L671.6 389.4 L672.1 389.4 L672.6 389.3 L673.1 389.2 L673.6 389.2 L674.1 389.3 L674.6 389.3 L675.1 389.2 L675.6 389.1 L676.1 389.2 L676.6 389.3 L677.1 389.4 L677.6 389.4 L678.1 389.3 L678.6 389.1 L679.1 389.1 L679.6 389.2 L680.1 389.4 L680.6 389.4 L681.1 389.4 L681.6 389.3 L682.1 389.4 L682.6 389.4 L684.1 389.4 L684.6 389.4 L685.1 389.3 L685.6 389.4 L686.1 389.4 L686.6 389.3 L687.1 389.2 L687.6 389.2 L688.1 389.2 L688.6 389.1 L689.1 389.2 L689.6 389.3 L690.1 389.4 L690.6 389.4 L691.1 389.3 L691.6 389.2 L692.1 389.0 L692.6 389.2 L693.1 389.4 L693.6 389.4 L694.1 389.4 L694.6 389.3 L695.1 389.3 L695.6 389.3 L696.1 389.3 L696.6 389.4 L698.1 389.4 L698.6 389.4 L699.1 389.4 L699.6 389.4 L700.1 389.4 L700.6 388.7 L701.1 387.6 L701.6 386.4 L701.7 386.1 L702.1 387.1 L702.6 388.3 L703.1 389.4 L703.6 389.3 L704.1 389.3 L704.6 389.4 L706.6 389.4 L707.1 389.4 L707.6 389.2 L708.1 389.0 L708.6 389.2 L709.1 389.4 L709.6 389.4 L713.1 389.4 L713.6 389.3 L714.1 389.1 L714.6 389.3 L715.1 388.1 L715.6 386.8 L716.0 385.7 L716.1 386.0 L716.6 387.3 L717.1 388.6 L717.6 389.2 L718.1 389.3 L718.6 389.4 L719.1 389.4 L719.6 389.2 L720.1 389.1 L720.6 389.3 L721.1 389.4 L721.6 389.4 L722.1 388.1 L722.6 384.8 L723.1 381.6 L723.5 378.9 L723.6 379.6 L724.1 382.9 L724.6 386.2 L725.1 389.4 L726.6 389.4 L727.1 389.3 L727.6 389.2 L728.1 389.2 L728.6 389.2 L729.1 389.3 L729.6 389.4 L730.1 389.4 L730.6 389.3 L731.1 389.2 L731.6 389.3 L732.1 389.4 L732.6 389.2 L733.1 388.9 L733.6 388.5 L733.7 388.4 L734.1 388.7 L734.6 389.1 L735.1 389.3 L735.6 389.2 L736.1 389.3 L736.6 389.4 L737.1 389.4 L737.6 389.4 L738.1 389.3 L738.6 389.1 L739.1 389.2 L739.6 389.4 L740.1 389.4 L740.6 389.4 L741.1 389.3 L741.6 389.3 L742.1 389.3 L742.6 389.4 L743.1 389.4 L743.6 389.3 L744.1 389.1 L744.6 389.1 L745.1 389.2 L745.6 389.3 L746.1 389.3 L746.6 389.4 L747.1 389.3 L747.6 389.2 L748.1 389.2 L748.6 389.3 L749.1 389.4 L749.6 389.2 L750.1 389.1 L750.6 389.1 L751.1 389.2 L751.6 389.2 L752.1 389.2 L752.6 389.2 L753.1 389.0 L753.6 389.2 L754.1 389.4 L756.1 389.4 L756.6 389.2 L757.1 389.0 L757.6 389.3 L758.1 389.2 L758.6 389.2 L759.1 389.3 L759.6 389.1 L760.1 389.0 L760.6 389.2 L761.1 389.3 L761.6 389.3 L762.1 389.2 L762.6 389.2 L763.1 389.3 L763.6 389.4 L764.1 389.4 L764.6 389.4 L765.1 389.4 L765.6 389.4 L766.1 389.4 L766.6 389.3 L767.1 389.3 L767.6 389.4 L768.1 389.4 L768.6 389.4 L769.1 389.4 L769.6 389.3 L770.1 389.4 L770.6 389.4 L771.1 389.3 L771.6 389.2 L772.1 389.2 L772.6 389.3 L773.1 389.4 L773.6 389.3 L774.1 389.3 L774.6 389.4 L775.1 389.4 L779.1 389.4 L779.6 389.3 L780.1 389.2 L780.6 389.2 L781.1 389.3 L781.6 389.4 L784.6 389.4 L785.1 389.4 L785.6 389.3 L786.1 389.4 L786.6 389.4 L787.1 389.4 L787.6 389.2 L788.1 389.3 L788.6 389.4 L792.6 389.4 L793.1 389.4 L793.6 389.4 L799.1 389.4 L799.6 389.4 L800.1 389.4 L800.6 389.4 L801.6 389.4 L802.1 389.4 L802.6 389.4 L803.1 389.4 L803.6 389.4 L804.1 389.3 L804.6 389.0 L805.1 389.1 L805.6 389.3 L806.1 389.3 L806.6 389.2 L807.1 389.2 L807.6 389.4 L808.1 389.4 L808.6 389.4 L809.1 389.4 L809.6 389.3 L810.1 389.3 L810.6 389.4 L811.1 389.4 L811.6 389.3 L812.1 389.2 L812.6 389.3 L813.1 389.4 L816.1 389.4 L816.6 389.3 L817.1 389.3 L817.6 389.3 L818.1 389.4 L818.6 389.3 L819.1 389.1 L819.6 389.2 L820.1 389.4 L820.6 389.4 L821.1 389.4 L821.6 389.4 L822.1 389.4 L822.6 389.3 L823.1 389.3 L823.6 389.2 L824.1 389.3 L824.6 389.3 L825.1 389.2 L825.6 389.3 L826.1 389.3 L826.6 389.4 L827.1 389.3 L827.6 389.2 L828.1 389.1 L828.6 389.2 L829.1 389.3 L829.6 389.2 L830.1 389.3 L830.6 389.4 L833.6 389.4 L834.1 389.3 L834.6 389.1 L835.1 389.2 L835.6 389.3 L836.1 389.4 L836.6 389.4 L837.1 389.4 L837.6 389.2 L838.1 389.1 L838.6 389.2 L839.1 389.4 L839.6 389.4 L840.1 389.4 L840.6 389.3 L841.1 389.1 L841.6 389.3 L842.1 389.4 L842.6 389.4 L843.1 389.3 L843.6 389.2 L844.1 389.3 L844.6 389.4 L845.6 389.4 L846.1 389.3 L846.6 389.1 L847.1 389.3 L847.6 389.4 L853.1 389.4 L853.6 389.3 L854.1 389.1 L854.6 389.2 L855.1 389.4 L856.1 389.4 L856.6 389.4 L857.1 389.3 L857.6 389.3 L858.1 389.4 L858.6 389.4 L859.1 389.4 L859.6 389.4 L860.1 389.4 L861.6 389.4 L862.1 389.4 L862.6 389.2 L863.1 389.2 L863.6 389.3 L864.1 389.4 L864.6 389.4 L865.1 389.2 L865.6 389.2 L866.1 389.4 L869.6 389.4 L870.1 389.4 L870.6 389.3 L871.1 389.4 L871.6 389.4 L873.1 389.4 L873.6 389.3 L874.1 389.1 L874.6 389.1 L875.1 389.2 L875.6 389.3 L876.1 389.3 L876.6 389.3 L877.1 389.1 L877.6 389.2 L878.1 389.4 L878.6 389.4 L879.1 389.4 L879.6 389.3 L880.1 389.2 L880.6 389.2 L881.1 389.3 L881.6 389.4 L883.1 389.4 L883.6 389.4 L884.1 389.4 L884.6 389.4 L885.1 389.4 L885.6 389.3 L886.1 389.2 L886.6 389.3 L887.1 389.4 L887.6 389.4 L888.1 389.4 L888.6 389.3 L889.1 389.2 L889.6 389.3 L890.1 389.4 L891.6 389.4 L892.1 389.3 L892.6 389.2 L893.1 389.3 L893.6 389.4 L894.1 389.3 L894.6 389.4 L895.1 389.3 L895.6 389.3 L896.1 389.3 L896.6 389.4 L897.1 389.4 L897.6 389.4 L898.1 389.4 L898.6 389.4 L899.1 389.4 L899.6 389.4 L900.1 389.3 L900.6 389.4 L901.1 389.3 L901.6 389.3 L902.1 389.4 L903.1 389.4 L903.6 389.3 L904.1 389.2 L904.6 389.4 L905.1 389.4 L905.6 389.4 L906.1 389.4 L906.6 389.4 L907.6 389.4 L908.1 389.2 L908.6 389.2 L909.1 389.4 L909.6 389.4 L910.1 389.3 L910.6 389.2 L911.1 389.3 L911.6 389.3 L912.1 389.2 L912.6 389.1 L913.1 389.2 L913.6 389.3 L914.1 389.4 L914.6 389.3 L915.1 389.1 L915.6 389.1 L916.1 389.2 L916.6 389.3 L917.1 389.2 L917.6 389.1 L918.1 389.2 L918.6 389.3 L919.1 389.4 L919.6 389.4 L920.1 389.3 L920.6 389.1 L921.1 389.1 L921.6 389.2 L922.1 389.4 L922.6 389.4 L923.1 389.4 L923.6 389.2 L924.1 389.1 L924.6 389.1 L925.1 389.3 L925.6 389.3 L926.1 389.2 L926.6 389.2 L927.1 389.3 L927.6 389.3 L928.1 389.4 L928.6 389.3 L929.1 389.3 L929.6 389.3 L930.1 389.2 L930.6 389.3 L931.1 389.4 L935.1 389.4 L935.6 389.3 L936.1 389.1 L936.6 389.0 L937.1 389.2 L937.6 389.3 L938.1 389.4 L938.6 389.4 L939.1 389.4 L939.6 389.2 L940.1 389.2 L940.6 389.4 L941.1 389.4 L941.6 389.3 L942.1 389.3 L942.6 389.2 L943.1 389.3 L943.6 389.4 L944.1 389.4 L945.1 389.4 L945.6 389.4 L946.1 389.4 L946.6 389.4 L947.1 389.4 L947.6 389.3 L948.1 389.2 L948.6 389.0 L949.1 389.1 L949.6 389.2 L950.1 389.4 L950.6 389.4 L951.6 389.4 L952.1 389.3 L952.6 389.2 L953.1 389.2 L953.6 389.3 L954.1 389.3 L954.6 389.3 L955.1 389.4 L955.6 389.4 L956.1 389.3 L956.6 389.2 L957.1 389.2 L957.6 389.3 L958.1 389.4 L960.1 389.4 L960.6 389.4 L961.1 389.3 L961.6 389.1 L962.1 389.0 L962.6 389.1 L963.1 389.3 L963.6 389.4 L964.1 389.4 L964.6 389.3 L965.1 389.4 L965.6 389.4 L969.6 389.4 L970.1 389.4 L970.6 389.4 L971.1 389.4 L971.6 389.3 L972.1 389.3 L972.6 389.4 L973.1 389.4 L973.6 389.3 L974.1 389.3 L974.6 389.2 L975.1 389.3 L975.6 389.2 L976.1 389.2 L976.6 389.3 L977.1 389.4 L977.6 389.4 L982.6 389.4 L983.1 389.3 L983.6 389.3 L984.1 389.3 L984.6 389.3 L985.1 389.4 L985.6 389.4 L986.1 389.3 L986.6 389.4 L987.1 389.4 L987.6 389.3 L988.1 389.2 L988.6 389.1 L989.1 389.3 L989.6 389.4 L990.1 389.4 L990.6 389.3 L991.1 389.4 L991.6 389.3 L992.1 389.3 L992.6 389.3 L993.1 389.2 L993.6 389.3 L994.1 389.3 L994.6 389.2 L995.1 389.3 L995.6 389.3 L996.1 389.4 L996.6 389.4 L997.1 389.2 L997.6 389.1 L998.1 389.4 L998.6 389.4 L999.1 389.4 L999.6 389.3 L1000.1 389.2 L1000.6 389.2 L1001.1 389.3 L1001.6 389.4 L1004.6 389.4 L1005.1 389.0 L1005.6 386.8 L1006.1 384.6 L1006.4 383.2 L1006.6 384.1 L1007.1 386.3 L1007.6 388.6 L1008.1 389.4 L1008.6 389.3 L1009.1 389.1 L1009.6 389.1 L1010.1 389.3 L1010.6 389.4 L1011.1 389.4 L1011.6 389.4 L1012.1 389.4 L1012.6 389.4 L1013.1 389.3 L1013.6 389.3 L1014.1 389.3 L1014.6 389.3 L1015.1 389.3 L1015.6 389.4 L1016.1 389.4 L1016.6 389.4 L1017.1 389.4 L1020.1 389.4 L1020.6 388.7 L1021.1 388.0 L1021.5 387.4 L1021.6 387.6 L1022.1 388.3 L1022.6 389.0 L1023.1 387.9 L1023.6 386.5 L1023.9 385.7 L1024.1 386.3 L1024.6 387.6 L1025.1 388.9 L1025.6 389.4 L1027.1 389.4 L1027.6 389.3 L1028.1 389.1 L1028.6 389.0 L1029.1 389.1 L1029.6 389.3 L1030.1 389.4 L1030.6 389.3 L1031.1 389.3 L1031.6 389.4 L1032.1 389.4 L1034.6 389.4 L1035.1 389.3 L1035.6 389.2 L1036.1 389.0 L1036.6 389.2 L1037.1 389.3 L1037.6 389.4 L1041.1 389.4 L1041.6 389.4 L1042.1 389.3 L1042.6 389.3 L1043.1 389.4 L1043.6 389.4 L1044.1 389.3 L1044.6 389.2 L1045.1 389.2 L1045.6 389.3 L1046.1 389.4 L1046.6 389.4 L1047.1 389.4 L1048.1 389.4 L1048.6 389.4 L1049.1 389.1 L1049.6 389.1 L1050.1 389.4 L1050.6 389.4 L1051.1 389.3 L1051.6 389.3 L1052.1 389.4 L1053.1 389.4 L1053.6 389.4 L1054.1 389.4 L1054.6 389.3 L1055.1 389.1 L1055.6 389.2 L1056.1 389.3 L1056.6 389.4 L1057.1 389.3 L1057.6 389.1 L1058.1 389.2 L1058.6 389.4 L1059.1 389.4 L1059.6 389.4 L1060.1 389.2 L1060.6 389.1 L1061.1 389.0 L1061.6 389.2 L1062.1 389.4 L1062.6 389.4 L1066.1 389.4 L1066.6 389.4 L1067.1 389.3 L1067.6 389.3 L1068.1 389.1 L1068.6 389.0 L1069.1 389.2 L1069.6 389.3 L1070.1 389.4 L1071.1 389.4 L1071.6 389.3 L1072.1 389.1 L1072.6 389.0 L1073.1 389.2 L1073.6 389.4 L1074.1 389.4 L1074.6 389.4 L1075.1 389.3 L1075.6 389.1 L1076.1 389.0 L1076.6 389.2 L1077.1 389.4 L1077.6 389.3 L1078.1 389.1 L1078.6 389.1 L1079.1 389.2 L1079.6 389.4 L1080.1 389.3 L1080.6 389.3 L1081.1 389.4 L1081.6 389.4 L1082.1 389.2 L1082.6 389.1 L1083.1 389.2 L1083.6 389.4 L1084.6 389.4 L1085.1 389.4 L1085.6 389.2 L1086.1 389.1 L1086.6 389.2 L1087.1 389.1 L1087.6 389.0 L1088.1 389.2 L1088.6 389.3 L1089.1 389.2 L1089.6 389.2 L1090.1 389.3 L1090.6 389.4 L1091.1 389.4 L1092.1 389.4 L1092.6 389.3 L1093.1 389.3 L1093.6 389.3 L1094.1 389.3 L1094.6 389.4 L1095.1 389.4 L1095.6 389.2 L1096.1 389.0 L1096.6 389.3 L1097.1 389.3 L1097.6 389.2 L1098.1 389.1 L1098.6 389.1 L1099.1 389.3 L1099.6 389.4 L1100.1 389.4 L1100.6 389.3 L1101.1 389.2 L1101.6 389.2 L1102.1 389.3 L1102.6 389.4 L1106.1 389.4 L1106.6 389.3 L1107.1 389.1 L1107.6 389.2 L1108.1 389.4 L1111.6 389.4 L1112.1 389.3 L1112.6 389.1 L1113.1 389.2 L1113.6 389.4 L1121.1 389.4 L1121.6 389.3 L1122.1 389.2 L1122.6 389.1 L1123.1 389.2 L1123.6 389.3 L1124.1 389.4 L1124.6 389.4 L1125.1 389.3 L1125.6 389.3 L1126.1 389.4 L1126.6 389.4 L1127.1 389.4 L1127.6 389.3 L1128.1 389.1 L1128.6 389.2 L1129.1 389.3 L1129.6 389.4 L1130.6 389.4 L1131.1 389.4 L1131.6 389.4 L1132.1 389.4 L1132.6 389.4 L1133.1 389.4 L1133.6 389.4 L1134.1 389.1 L1134.6 389.1 L1135.1 389.3 L1135.6 389.4 L1136.1 389.4 L1136.6 389.3 L1137.1 389.2 L1137.6 389.1 L1138.1 389.0 L1138.6 389.1 L1139.1 389.3 L1139.6 389.4 L1147.1 389.4 L1147.6 389.4 L1148.1 389.4 L1148.6 389.4 L1149.1 389.4 L1149.6 389.4 L1150.1 389.4 L1150.6 389.4 L1151.1 389.4 L1151.6 389.3 L1152.1 389.4 L1152.6 389.4 L1153.1 389.2 L1153.6 389.2 L1154.1 389.3 L1154.6 389.4 L1155.1 389.4 L1155.6 389.3 L1156.1 389.2 L1156.6 389.2 L1157.1 389.3 L1157.6 389.4 L1158.1 389.4 L1158.6 389.3 L1159.1 389.3 L1159.6 389.3 L1160.1 389.4 L1161.6 389.4 L1162.1 389.3 L1162.6 389.1 L1163.1 385.3 L1163.6 374.8 L1164.1 364.3 L1164.3 360.1 L1164.6 366.4 L1165.1 376.9 L1165.6 385.3 L1166.0 384.4 L1166.1 384.7 L1166.6 385.8 L1167.1 386.9 L1167.6 388.1 L1168.1 389.2 L1168.6 389.4 L1169.1 389.4 L1169.6 389.4 L1170.1 389.1 L1170.6 389.2 L1171.1 389.4 L1171.6 389.4 L1172.1 389.3 L1172.6 388.9 L1173.1 388.6 L1173.3 388.4 L1173.6 388.7 L1174.1 389.0 L1174.6 389.4 L1175.1 389.4 L1175.6 389.4 L1176.1 389.3 L1176.6 389.4 L1177.1 389.4 L1178.1 389.4 L1178.6 389.4 L1179.1 389.3 L1179.6 389.3 L1180.1 389.4 L1180.6 389.4 L1181.1 389.4 L1181.6 389.2 L1182.1 389.1 L1182.6 389.2 L1183.1 389.1 L1183.6 387.8 L1184.1 386.5 L1184.4 385.6 L1184.6 386.2 L1185.1 387.5 L1185.6 388.9 L1186.1 389.3 L1186.6 389.4 L1187.6 389.4 L1188.1 389.3 L1188.6 389.2 L1189.1 389.3 L1189.6 389.4 L1190.1 389.4 L1190.6 389.3 L1191.1 389.3 L1191.6 389.2 L1192.1 389.1 L1192.6 389.2 L1193.1 389.3 L1193.6 389.4 L1194.1 389.4 L1194.6 389.4 L1195.1 389.3 L1195.6 389.2 L1196.1 389.3 L1196.6 389.4 L1197.1 389.4 L1197.6 389.3 L1198.1 389.3 L1198.6 389.3 L1199.1 389.3 L1199.6 389.3 L1200.1 389.3 L1200.6 389.0 L1201.1 389.2 L1201.6 389.4 L1202.1 389.4 L1202.6 389.3 L1203.1 389.2 L1203.6 389.0 L1204.1 389.1 L1204.6 389.3 L1205.1 389.4 L1208.6 389.4 L1209.1 389.4 L1209.6 389.3 L1210.1 389.3 L1210.6 389.2 L1211.1 389.2 L1211.6 389.4 L1213.1 389.4 L1213.6 389.3 L1214.1 389.2 L1214.6 389.0 L1215.1 389.1 L1215.6 389.3 L1216.1 389.0 L1216.6 389.2 L1217.1 389.4 L1217.6 389.4 L1218.1 389.3 L1218.6 389.3 L1219.1 389.4 L1219.6 389.4 L1220.6 389.4 L1221.1 389.4 L1221.6 389.4 L1222.1 389.1 L1222.6 388.7 L1223.0 388.4 L1223.1 388.5 L1223.6 388.9 L1224.1 389.2 L1224.6 389.0 L1225.1 389.3 L1225.6 389.4 L1226.1 389.4 L1226.6 389.2 L1227.1 389.3 L1227.6 389.2 L1228.1 389.2 L1228.6 389.3 L1229.1 389.2 L1229.6 389.2 L1230.1 389.3 L1230.6 389.3 L1231.1 389.3 L1231.6 389.3 L1232.1 389.2 L1232.6 389.2 L1233.1 389.3 L1233.6 389.4 L1234.1 389.4 L1234.6 389.3 L1235.1 389.1 L1235.6 389.0 L1236.1 389.1 L1236.6 389.3 L1237.1 389.4 L1238.1 389.4 L1238.6 389.4 L1239.1 389.3 L1239.6 389.4 L1243.1 389.4 L1243.6 389.4 L1244.1 389.3 L1244.6 389.3 L1245.1 389.4 L1245.6 389.4 L1246.1 389.4 L1246.6 389.4 L1247.1 389.3 L1247.6 389.2 L1248.1 389.3 L1248.6 389.4 L1251.1 389.4 L1251.6 389.4 L1252.1 389.3 L1252.6 389.2 L1253.1 389.2 L1253.6 389.3 L1254.1 389.4 L1254.6 389.2 L1255.1 389.1 L1255.6 389.0 L1256.1 389.2 L1256.6 389.3 L1257.1 389.4 L1257.6 389.4 L1258.1 389.4 L1258.6 389.4 L1259.1 389.4 L1259.6 389.4 L1260.1 389.4 L1260.6 389.4 L1262.1 389.4 L1262.6 389.3 L1263.1 389.3 L1263.6 389.4 L1264.1 389.4 L1265.1 389.4 L1265.6 389.4 L1266.1 389.3 L1266.6 389.4 L1267.1 389.4 L1267.6 389.4 L1268.1 389.4 L1268.6 389.2 L1269.1 389.3 L1269.6 389.2 L1270.1 389.2 L1270.6 389.3 L1271.1 389.4 L1271.6 389.4 L1272.1 389.2 L1272.6 389.0 L1273.1 389.2 L1273.6 389.4 L1274.1 389.3 L1274.6 388.2 L1275.1 382.1 L1275.6 376.0 L1275.8 373.5 L1276.1 377.2 L1276.6 383.3 L1277.1 388.1 L1277.6 386.4 L1278.1 384.8 L1278.2 384.4 L1278.6 384.9 L1279.1 377.4 L1279.6 369.9 L1280.1 375.5 L1280.6 340.6 L1281.1 305.7 L1281.3 291.7 L1281.6 312.7 L1282.1 347.6 L1282.6 382.5 L1283.1 382.8 L1283.3 382.0 L1283.6 383.1 L1284.1 385.0 L1284.6 386.8 L1285.1 388.7 L1285.6 389.4 L1287.1 389.4 L1287.6 389.4 L1288.1 389.3 L1288.6 389.4 L1289.1 389.4 L1289.6 389.4 L1290.1 389.4 L1290.6 389.3 L1291.1 389.4 L1291.6 389.4 L1292.1 389.4 L1292.6 389.3 L1293.1 389.2 L1293.6 389.1 L1294.1 389.2 L1294.6 389.3 L1295.1 389.4 L1299.1 389.4 L1299.6 389.4 L1300.1 389.3 L1300.6 389.4 L1301.1 389.4 L1301.6 389.4 L1302.1 389.4 L1302.6 389.4 L1303.1 389.4 L1305.1 389.4 L1305.6 389.4 L1306.1 389.4 L1306.6 389.4 L1310.1 389.4 L1310.6 389.3 L1311.1 389.2 L1311.6 389.0 L1312.1 389.2 L1312.6 389.3 L1313.1 389.4 L1313.6 389.4 L1314.1 389.3 L1314.6 389.1 L1315.1 389.1 L1315.6 389.2 L1316.1 389.3 L1316.6 389.4 L1317.1 389.4 L1317.6 387.2 L1318.1 384.3 L1318.5 382.0 L1318.6 382.6 L1319.1 385.5 L1319.6 386.5 L1320.0 385.4 L1320.1 385.7 L1320.6 387.0 L1321.1 388.4 L1321.6 389.4 L1322.1 389.4 L1322.6 382.8 L1323.1 371.8 L1323.3 367.4 L1323.6 374.0 L1324.1 385.0 L1324.6 389.2 L1325.1 389.3 L1325.6 389.4 L1327.1 389.4 L1327.6 389.3 L1328.1 389.3 L1328.6 389.4 L1329.1 389.4 L1369.1 389.4 L1369.60 389.44 Z" fill="#50dc5a"/>
<path d="M351.60 510.96 L351.6 511.0 L398.6 511.0 L399.1 510.7 L399.6 510.1 L400.1 509.8 L400.6 510.2 L401.0 510.0 L401.1 510.0 L401.6 510.4 L402.1 510.7 L402.6 510.3 L403.1 510.4 L403.6 510.6 L404.1 510.4 L404.6 510.2 L405.0 510.0 L405.1 510.0 L405.6 510.1 L406.1 510.0 L406.6 510.4 L407.1 510.7 L407.6 510.9 L408.1 511.0 L408.6 509.7 L409.1 508.4 L409.5 507.4 L409.6 507.6 L410.1 508.9 L410.6 510.2 L411.1 510.9 L411.6 510.9 L412.1 510.2 L412.6 509.5 L413.0 509.0 L413.1 509.1 L413.6 509.8 L414.1 510.5 L414.6 510.9 L415.1 510.8 L415.6 508.7 L416.1 505.9 L416.2 505.4 L416.6 507.6 L417.1 507.6 L417.5 505.4 L417.6 505.9 L418.1 508.7 L418.6 506.5 L418.8 505.4 L419.1 507.0 L419.6 509.8 L420.1 510.4 L420.6 510.5 L421.1 510.7 L421.6 510.9 L422.1 510.8 L422.6 510.6 L423.1 510.7 L423.6 510.9 L424.1 510.9 L424.6 510.8 L425.1 510.9 L425.6 510.9 L426.1 511.0 L426.6 510.8 L427.1 510.4 L427.6 509.9 L428.1 510.3 L428.6 510.7 L429.1 511.0 L429.6 510.9 L430.1 510.8 L430.6 510.8 L431.1 510.9 L431.6 510.7 L432.1 510.7 L432.6 510.4 L433.1 509.9 L433.6 510.5 L434.1 511.0 L435.1 511.0 L435.6 510.6 L436.1 510.2 L436.6 510.7 L437.1 510.6 L437.6 510.2 L438.1 509.8 L438.6 509.9 L439.1 510.3 L439.6 510.7 L440.1 510.5 L440.6 510.2 L441.1 510.3 L441.6 510.7 L442.1 510.6 L442.6 510.5 L443.1 510.7 L443.6 510.7 L444.1 510.3 L444.6 510.2 L445.1 510.6 L445.6 511.0 L446.6 511.0 L447.1 510.9 L447.6 510.7 L448.1 510.4 L448.6 510.4 L449.1 510.6 L449.6 510.8 L450.1 510.7 L450.6 510.5 L451.1 510.4 L451.6 509.7 L452.0 509.3 L452.1 509.4 L452.6 510.0 L453.1 510.6 L453.6 510.2 L454.1 509.6 L454.4 509.3 L454.6 509.5 L455.1 510.1 L455.6 510.7 L456.1 510.7 L456.6 510.5 L457.1 510.6 L457.6 510.7 L458.1 510.5 L458.6 510.2 L459.1 510.5 L459.6 510.7 L460.1 510.7 L460.6 510.1 L461.1 509.9 L461.6 510.5 L462.1 511.0 L463.6 510.9 L464.1 510.9 L464.6 510.9 L465.1 510.9 L469.1 511.0 L469.6 510.5 L470.1 510.1 L470.6 509.9 L471.1 510.3 L471.6 510.8 L472.1 510.8 L472.6 510.8 L473.1 510.9 L473.6 511.0 L475.1 510.9 L475.6 510.9 L476.1 510.9 L476.6 510.9 L477.1 510.6 L477.6 510.1 L478.1 510.2 L478.6 510.7 L479.1 511.0 L479.6 510.9 L480.1 510.5 L480.6 510.1 L481.1 510.5 L481.6 510.7 L482.1 510.5 L482.6 510.6 L483.1 510.9 L483.6 510.9 L484.1 510.8 L484.6 510.7 L485.1 510.8 L485.6 509.9 L486.1 508.9 L486.5 508.1 L486.6 508.3 L487.1 509.3 L487.6 510.3 L488.1 511.0 L488.6 511.0 L489.1 510.8 L489.6 510.5 L490.1 510.3 L490.6 510.6 L491.1 510.9 L491.6 511.0 L492.1 511.0 L492.6 510.6 L493.1 509.9 L493.6 510.4 L494.1 511.0 L495.6 511.0 L496.1 510.8 L496.6 510.7 L497.1 510.6 L497.6 510.7 L498.1 510.9 L498.6 511.0 L499.1 511.0 L499.6 510.9 L500.1 510.8 L500.6 510.9 L501.1 511.0 L502.1 511.0 L502.6 510.8 L503.1 510.5 L503.6 510.1 L504.1 510.4 L504.6 510.8 L505.1 510.9 L505.6 511.0 L506.1 510.8 L506.6 510.4 L507.1 510.0 L507.6 510.2 L508.1 510.5 L508.6 510.9 L509.1 511.0 L509.6 510.5 L510.1 510.1 L510.6 510.5 L511.1 510.8 L511.6 510.6 L512.1 510.7 L512.6 510.8 L513.1 510.9 L513.6 506.1 L514.1 500.0 L514.6 494.0 L515.1 500.0 L515.6 506.1 L516.1 508.9 L516.3 508.6 L516.6 509.1 L517.1 509.9 L517.6 510.8 L518.1 510.4 L518.6 508.9 L519.1 507.4 L519.3 506.9 L519.6 507.7 L520.1 509.2 L520.6 510.7 L521.1 511.0 L522.1 511.0 L522.6 510.3 L523.1 509.9 L523.6 510.6 L524.1 510.6 L524.6 510.4 L525.1 510.5 L525.6 510.6 L526.1 510.1 L526.6 510.0 L527.1 510.5 L527.6 511.0 L529.1 510.9 L529.6 510.7 L530.1 510.3 L530.6 510.2 L531.1 510.6 L531.6 510.9 L532.6 511.0 L533.1 510.7 L533.6 510.5 L534.1 510.5 L534.6 510.8 L535.1 510.8 L535.6 510.7 L536.1 510.8 L536.6 510.5 L537.1 510.4 L537.6 510.7 L538.1 510.9 L538.6 510.6 L539.1 510.2 L539.6 510.1 L540.1 509.1 L540.6 508.1 L541.1 509.1 L541.6 510.1 L542.1 510.9 L544.1 510.9 L544.6 510.6 L545.1 510.3 L545.6 510.6 L546.1 510.9 L547.1 511.0 L547.6 510.8 L548.1 510.7 L548.6 510.6 L549.1 510.7 L549.6 510.9 L550.1 510.5 L550.6 510.2 L551.1 510.2 L551.6 510.5 L552.1 510.9 L552.6 511.0 L554.6 511.0 L555.1 510.9 L555.6 510.8 L556.1 510.7 L556.6 510.7 L557.1 510.8 L557.6 510.9 L558.1 510.6 L558.6 510.2 L559.1 510.1 L559.6 510.5 L560.1 510.8 L560.6 511.0 L561.1 510.8 L561.6 510.6 L562.1 510.4 L562.6 510.4 L563.1 510.6 L563.6 510.8 L564.1 510.8 L564.6 510.8 L565.1 510.6 L565.6 510.2 L566.1 509.9 L566.6 510.4 L567.1 510.8 L567.6 511.0 L568.6 511.0 L569.1 510.8 L569.6 510.7 L570.1 510.7 L570.6 510.3 L571.1 507.4 L571.6 502.9 L572.1 498.5 L572.2 497.6 L572.6 501.1 L573.1 505.6 L573.6 508.0 L574.0 507.4 L574.1 507.5 L574.6 508.3 L575.1 509.2 L575.6 510.0 L576.1 510.8 L576.6 510.9 L577.1 510.8 L577.6 510.8 L578.1 510.9 L579.1 511.0 L579.6 510.7 L580.1 510.4 L580.6 510.4 L581.1 510.6 L581.6 510.9 L582.1 510.9 L582.6 510.8 L583.1 510.7 L583.6 510.6 L584.1 510.7 L584.6 510.8 L585.1 511.0 L585.6 510.9 L586.1 510.8 L586.6 510.8 L587.1 510.9 L587.6 510.9 L588.1 510.8 L588.6 510.6 L589.1 510.7 L589.6 510.8 L590.1 510.9 L590.6 510.7 L591.1 510.4 L591.6 510.3 L592.1 510.6 L592.6 510.4 L593.1 510.1 L593.6 510.4 L594.1 510.7 L594.6 510.9 L595.1 510.6 L595.6 510.3 L596.1 510.5 L596.6 510.7 L597.1 510.6 L597.6 510.8 L598.1 510.9 L598.6 510.9 L599.1 510.8 L599.6 510.6 L600.1 510.6 L600.6 510.8 L601.1 510.9 L602.1 510.9 L602.6 510.8 L603.1 510.9 L603.6 510.9 L604.1 510.8 L604.6 510.7 L605.1 510.8 L605.6 510.9 L606.1 511.0 L606.6 511.0 L607.1 510.5 L607.6 510.1 L608.1 509.8 L608.6 510.2 L609.1 510.7 L609.6 510.9 L610.1 510.9 L610.6 511.0 L611.1 510.6 L611.6 510.1 L612.1 510.3 L612.6 510.8 L613.1 510.9 L614.1 510.9 L614.6 510.9 L615.1 510.6 L615.6 510.7 L616.1 510.7 L616.6 510.7 L617.1 510.8 L617.6 510.9 L618.1 511.0 L618.6 510.7 L619.1 510.5 L619.6 510.8 L620.1 510.9 L620.6 510.8 L621.1 510.7 L621.6 510.8 L622.1 510.9 L622.6 510.5 L623.1 510.1 L623.6 510.5 L624.1 511.0 L627.6 511.0 L628.1 510.7 L628.6 510.2 L629.1 510.2 L629.6 510.5 L630.1 510.0 L630.6 510.0 L631.1 510.2 L631.6 509.7 L632.1 510.2 L632.6 510.7 L633.1 510.6 L633.6 510.6 L634.1 510.8 L634.6 511.0 L635.1 510.8 L635.6 510.7 L636.1 510.7 L636.6 510.9 L637.1 511.0 L637.6 510.9 L638.1 510.8 L638.6 510.7 L639.1 510.8 L639.6 510.9 L640.1 511.0 L640.6 510.9 L641.1 510.3 L641.6 509.9 L642.1 510.6 L642.6 511.0 L643.6 511.0 L644.1 510.6 L644.6 510.2 L645.1 510.6 L645.6 511.0 L646.6 511.0 L647.1 510.9 L647.6 510.7 L648.1 510.6 L648.6 510.4 L649.1 510.0 L649.6 509.8 L650.1 510.3 L650.6 510.4 L651.1 510.0 L651.6 510.6 L652.1 511.0 L652.6 510.8 L653.1 510.6 L653.6 510.4 L654.1 510.5 L654.6 510.7 L655.1 510.9 L655.6 510.9 L656.1 510.7 L656.6 510.4 L657.1 510.2 L657.6 510.5 L658.1 510.7 L658.6 510.4 L659.1 509.9 L659.6 510.2 L660.1 510.7 L660.6 511.0 L661.1 510.8 L661.6 510.4 L662.1 510.2 L662.6 510.6 L663.1 510.9 L664.1 511.0 L664.6 510.6 L665.1 510.2 L665.6 510.6 L666.1 511.0 L666.6 510.8 L667.1 510.7 L667.6 510.5 L668.1 510.5 L668.6 510.2 L669.1 510.5 L669.6 510.9 L670.1 511.0 L670.6 511.0 L671.1 510.9 L671.6 510.8 L672.1 510.9 L672.6 510.8 L673.1 510.5 L673.6 510.3 L674.1 510.5 L674.6 510.8 L675.1 510.9 L675.6 510.3 L676.1 510.1 L676.6 510.6 L677.1 510.7 L677.6 510.7 L678.1 510.8 L678.6 511.0 L681.1 511.0 L681.6 510.7 L682.1 510.5 L682.6 510.8 L683.1 510.5 L683.6 510.4 L684.1 510.7 L684.6 511.0 L685.6 511.0 L686.1 510.8 L686.6 510.6 L687.1 510.6 L687.6 510.6 L688.1 509.8 L688.6 508.9 L688.8 508.6 L689.1 509.1 L689.6 509.9 L690.1 509.8 L690.6 510.3 L691.1 510.8 L691.6 510.9 L692.1 510.7 L692.6 510.4 L693.1 510.3 L693.6 510.3 L694.1 509.9 L694.6 510.1 L695.1 510.6 L695.6 510.4 L696.1 510.7 L696.6 511.0 L698.1 510.9 L698.6 510.8 L699.1 510.5 L699.6 510.1 L700.1 510.2 L700.6 508.4 L701.1 505.8 L701.6 503.2 L701.7 502.7 L702.1 504.7 L702.6 507.3 L703.1 509.9 L703.6 510.4 L704.1 510.7 L704.6 511.0 L705.1 510.5 L705.6 509.8 L706.1 510.4 L706.6 511.0 L707.1 511.0 L707.6 510.7 L708.1 510.5 L708.6 510.9 L709.1 511.0 L710.1 510.9 L710.6 510.6 L711.1 510.3 L711.6 510.6 L712.1 510.9 L712.6 511.0 L713.1 510.8 L713.6 510.7 L714.1 510.5 L714.6 509.1 L715.1 507.2 L715.5 505.7 L715.6 506.0 L716.1 507.9 L716.6 509.8 L717.1 510.5 L717.6 510.2 L718.1 509.6 L718.6 508.7 L718.7 508.6 L719.1 509.2 L719.6 510.1 L720.1 509.8 L720.6 510.2 L721.1 510.1 L721.6 510.2 L722.1 509.9 L722.6 507.2 L723.1 504.6 L723.5 502.5 L723.6 503.0 L724.1 505.6 L724.6 508.3 L725.1 511.0 L727.1 510.9 L727.6 510.8 L728.1 510.7 L728.6 510.7 L729.1 510.4 L729.6 510.1 L730.1 510.1 L730.6 510.4 L731.1 510.8 L731.6 510.9 L732.1 510.9 L732.6 510.8 L733.1 510.2 L733.6 508.9 L734.1 507.6 L734.2 507.4 L734.6 508.4 L735.1 509.7 L735.6 510.6 L736.1 510.8 L736.6 510.9 L737.1 510.8 L737.6 510.6 L738.1 510.5 L738.6 510.6 L739.1 510.8 L739.6 510.6 L740.1 510.4 L740.6 510.6 L741.1 510.7 L741.6 510.5 L742.1 510.7 L742.6 510.9 L743.1 510.7 L743.6 510.6 L744.1 510.6 L744.6 510.7 L745.1 510.9 L745.6 511.0 L746.1 510.9 L746.6 510.8 L747.1 510.8 L747.6 510.8 L748.1 510.9 L748.6 510.9 L749.1 510.8 L749.6 510.8 L750.1 510.4 L750.6 510.0 L751.1 509.9 L751.6 510.0 L752.1 509.8 L752.6 510.2 L753.1 510.4 L753.6 510.2 L754.0 510.0 L754.1 510.0 L754.6 510.3 L755.1 510.5 L755.6 510.8 L756.1 510.7 L756.6 510.5 L757.1 510.7 L757.6 510.8 L758.1 510.8 L758.6 510.8 L759.1 510.8 L759.6 510.9 L760.1 511.0 L760.6 510.8 L761.1 510.7 L761.6 510.9 L762.1 511.0 L763.1 511.0 L763.6 510.9 L764.1 510.8 L764.6 510.9 L765.1 510.5 L765.6 509.8 L766.1 510.4 L766.6 511.0 L767.1 511.0 L767.6 510.7 L768.1 510.4 L768.6 510.7 L769.1 510.9 L770.6 510.9 L771.1 510.9 L771.6 510.8 L772.1 510.3 L772.6 510.6 L773.1 511.0 L773.6 511.0 L774.1 510.8 L774.6 510.4 L775.1 510.6 L775.6 510.9 L777.6 510.9 L778.1 510.9 L778.6 510.9 L780.1 510.9 L780.6 510.9 L781.1 510.8 L781.6 510.8 L782.1 510.9 L782.6 511.0 L783.1 510.7 L783.6 510.3 L784.1 510.3 L784.6 510.7 L785.1 510.7 L785.6 510.6 L786.1 510.7 L786.6 510.7 L787.1 510.5 L787.6 510.2 L788.1 510.3 L788.6 510.6 L789.1 510.8 L789.6 510.8 L790.1 510.7 L790.6 510.8 L791.1 510.9 L791.6 511.0 L792.1 510.9 L792.6 510.6 L793.1 510.3 L793.6 510.4 L794.1 510.7 L794.6 510.9 L795.1 510.5 L795.6 510.0 L796.1 510.1 L796.6 510.5 L797.1 510.2 L797.6 510.2 L798.1 510.8 L798.6 510.9 L799.1 510.9 L799.6 510.9 L800.1 511.0 L800.6 510.5 L801.1 510.0 L801.6 510.4 L802.1 510.9 L802.6 511.0 L803.1 510.7 L803.6 510.3 L804.1 509.9 L804.6 509.9 L805.1 510.3 L805.6 510.8 L806.1 511.0 L806.6 510.8 L807.1 510.5 L807.6 510.5 L808.1 510.8 L808.6 510.7 L809.1 510.8 L809.6 510.9 L815.6 510.9 L816.1 510.6 L816.6 510.3 L817.1 510.6 L817.6 510.8 L818.1 510.3 L818.6 509.9 L819.1 510.4 L819.6 510.8 L820.1 511.0 L820.6 510.9 L821.1 510.6 L821.6 510.4 L822.1 510.4 L822.6 510.6 L823.1 510.9 L823.6 511.0 L824.1 510.7 L824.6 510.5 L825.1 510.6 L825.6 510.9 L826.1 511.0 L829.6 510.9 L830.1 510.3 L830.6 510.2 L831.1 510.8 L831.6 511.0 L832.1 511.0 L832.6 510.9 L833.1 510.7 L833.6 510.7 L834.1 510.9 L834.6 510.6 L835.1 510.1 L835.6 509.6 L835.7 509.5 L836.1 509.9 L836.6 510.4 L837.1 510.7 L837.6 510.9 L841.6 511.0 L842.1 510.6 L842.6 510.3 L843.1 510.4 L843.6 510.7 L844.1 510.9 L844.6 510.8 L845.1 510.9 L845.6 510.9 L848.1 511.0 L848.6 510.8 L849.1 510.4 L849.6 510.1 L850.1 510.5 L850.6 510.8 L851.1 510.9 L851.6 510.6 L852.1 510.4 L852.6 510.5 L853.1 510.7 L853.6 510.9 L854.1 510.8 L854.6 510.9 L855.1 510.9 L856.6 511.0 L857.1 510.9 L857.6 510.6 L858.1 510.2 L858.6 509.9 L859.1 510.3 L859.6 510.0 L860.1 510.2 L860.6 510.7 L861.1 510.8 L861.6 510.9 L862.1 510.9 L862.6 510.8 L863.1 510.3 L863.6 510.5 L864.1 510.9 L864.6 510.9 L865.1 510.9 L865.6 510.6 L866.1 510.6 L866.6 510.9 L867.1 511.0 L867.6 510.8 L868.1 510.7 L868.6 510.6 L869.1 510.8 L869.6 510.7 L870.1 510.7 L870.6 510.8 L871.1 510.9 L872.1 510.9 L872.6 510.9 L873.1 510.9 L874.6 510.9 L875.1 510.7 L875.6 510.5 L876.1 510.7 L876.6 510.3 L877.1 509.9 L877.6 510.4 L878.1 510.8 L878.6 510.8 L879.1 510.9 L879.6 510.9 L880.1 511.0 L880.6 510.9 L881.1 510.6 L881.6 510.3 L882.1 510.5 L882.6 510.7 L883.1 510.9 L883.6 510.8 L884.1 510.9 L884.6 510.9 L885.1 510.8 L885.6 510.8 L886.1 510.8 L886.6 510.9 L887.6 511.0 L888.1 510.7 L888.6 510.2 L889.1 510.3 L889.6 510.9 L890.1 511.0 L890.6 510.7 L891.1 510.3 L891.6 510.0 L892.1 510.3 L892.6 510.7 L893.1 511.0 L893.6 510.9 L894.1 510.7 L894.6 510.5 L895.1 510.6 L895.6 510.6 L896.1 510.5 L896.6 510.8 L897.1 511.0 L897.6 511.0 L898.1 510.9 L898.6 510.3 L899.1 510.0 L899.6 510.7 L900.1 511.0 L901.1 511.0 L901.6 510.9 L902.1 510.7 L902.6 510.8 L903.1 511.0 L903.6 511.0 L904.1 510.7 L904.6 510.3 L905.1 510.0 L905.6 510.4 L906.1 510.3 L906.6 510.2 L907.1 510.5 L907.6 510.7 L908.1 511.0 L908.6 510.9 L909.1 510.8 L909.6 510.7 L910.1 510.7 L910.6 510.3 L911.1 509.9 L911.6 510.3 L912.1 510.7 L912.6 511.0 L913.1 510.7 L913.6 510.3 L914.1 510.4 L914.6 510.8 L915.1 510.9 L917.6 511.0 L918.1 510.5 L918.6 509.8 L919.1 510.3 L919.6 511.0 L920.1 510.9 L920.6 510.9 L921.1 510.9 L921.6 510.9 L922.1 510.9 L923.1 511.0 L923.6 510.8 L924.1 510.2 L924.6 510.0 L925.1 510.7 L925.6 511.0 L926.1 511.0 L926.6 510.8 L927.1 510.5 L927.6 510.7 L928.1 510.9 L928.6 510.6 L929.1 510.3 L929.6 510.3 L930.1 510.6 L930.6 510.9 L931.1 510.9 L931.6 510.9 L932.1 510.9 L932.6 510.8 L933.1 510.7 L933.6 510.8 L934.1 510.8 L934.6 510.9 L935.1 510.9 L935.6 510.5 L936.1 510.5 L936.6 510.9 L937.1 510.6 L937.6 510.2 L938.1 510.5 L938.6 510.8 L939.1 510.8 L939.6 511.0 L940.1 510.9 L940.6 510.8 L941.1 510.7 L941.6 510.8 L942.1 510.9 L942.6 511.0 L943.1 510.9 L943.6 510.8 L944.1 510.7 L944.6 510.8 L945.1 510.9 L945.6 511.0 L946.1 510.7 L946.6 510.3 L947.1 509.9 L947.6 510.0 L948.1 510.4 L948.6 510.8 L949.1 511.0 L949.6 510.7 L950.1 510.2 L950.6 509.9 L951.1 510.4 L951.6 510.9 L952.1 511.0 L952.6 511.0 L953.1 510.9 L953.6 510.8 L954.1 510.6 L954.6 510.1 L955.1 509.7 L955.6 510.2 L956.1 509.8 L956.6 510.1 L957.1 510.6 L957.6 510.7 L958.1 510.5 L958.6 510.6 L959.1 510.8 L959.6 510.9 L963.6 511.0 L964.1 510.9 L964.6 510.7 L965.1 510.4 L965.6 510.4 L966.1 510.6 L966.6 510.9 L967.1 510.9 L967.6 510.6 L968.1 510.4 L968.6 510.3 L969.1 510.2 L969.6 509.8 L970.1 510.4 L970.6 510.9 L971.1 510.9 L971.6 510.7 L972.1 510.5 L972.6 510.5 L973.1 510.4 L973.6 509.7 L974.0 509.3 L974.1 509.4 L974.6 510.0 L975.1 510.6 L975.6 510.4 L976.1 510.0 L976.6 510.2 L977.1 510.6 L977.6 510.8 L978.1 510.8 L978.6 510.7 L979.1 510.5 L979.6 510.6 L980.1 510.8 L980.6 510.7 L981.1 510.6 L981.6 510.7 L982.1 510.8 L982.6 511.0 L983.1 510.9 L983.6 510.9 L984.1 510.9 L984.6 510.9 L986.1 511.0 L986.6 510.7 L987.1 510.3 L987.6 510.7 L988.1 510.9 L988.6 510.8 L989.1 510.7 L989.6 510.7 L990.1 510.9 L990.6 511.0 L991.1 511.0 L991.6 510.8 L992.1 510.3 L992.6 510.2 L993.1 510.6 L993.6 510.9 L995.1 511.0 L995.6 510.9 L996.1 510.6 L996.6 510.3 L997.1 510.5 L997.6 510.8 L998.1 511.0 L999.6 510.9 L1000.1 510.7 L1000.6 510.4 L1001.1 510.3 L1001.6 510.6 L1002.1 510.7 L1002.6 510.2 L1003.1 510.1 L1003.6 510.6 L1004.1 511.0 L1004.6 511.0 L1005.1 510.3 L1005.6 506.8 L1006.1 503.3 L1006.4 501.3 L1006.6 502.6 L1007.1 506.1 L1007.6 509.6 L1008.1 510.8 L1008.6 510.5 L1009.1 510.4 L1009.6 510.8 L1010.1 510.9 L1010.6 510.9 L1011.1 510.9 L1012.1 510.9 L1012.6 510.9 L1013.1 510.8 L1013.6 510.7 L1014.1 510.8 L1014.6 510.8 L1015.1 510.4 L1015.6 510.4 L1016.1 510.7 L1016.6 511.0 L1017.1 510.7 L1017.6 510.5 L1018.1 510.4 L1018.6 510.7 L1019.1 510.9 L1021.1 511.0 L1021.6 510.7 L1022.1 510.5 L1022.6 510.8 L1023.1 509.7 L1023.6 508.7 L1023.9 508.1 L1024.1 508.5 L1024.6 509.5 L1025.1 510.5 L1025.6 511.0 L1026.6 511.0 L1027.1 510.9 L1027.6 510.7 L1028.1 510.6 L1028.6 510.8 L1029.1 510.9 L1029.6 510.9 L1030.1 510.7 L1030.6 510.5 L1031.1 510.7 L1031.6 510.9 L1032.6 511.0 L1033.1 510.8 L1033.6 510.5 L1034.1 510.3 L1034.6 510.6 L1035.1 510.8 L1035.6 510.6 L1036.1 510.4 L1036.6 510.6 L1037.1 510.8 L1037.6 510.9 L1038.1 510.8 L1038.6 510.9 L1039.1 511.0 L1039.6 511.0 L1040.1 510.8 L1040.6 510.3 L1041.1 509.9 L1041.6 509.9 L1042.1 510.4 L1042.6 510.8 L1043.1 510.7 L1043.6 510.4 L1044.1 510.4 L1044.6 510.7 L1045.1 510.8 L1045.6 510.7 L1046.1 510.6 L1046.6 510.5 L1047.1 510.7 L1047.6 510.8 L1048.1 511.0 L1048.6 510.9 L1049.1 510.8 L1049.6 510.7 L1050.1 510.9 L1050.6 511.0 L1051.6 511.0 L1052.1 510.7 L1052.6 510.4 L1053.1 510.7 L1053.6 510.9 L1054.6 510.9 L1055.1 510.9 L1055.6 510.9 L1056.1 510.9 L1056.6 510.8 L1057.1 510.7 L1057.6 510.8 L1058.1 510.7 L1058.6 510.6 L1059.1 510.8 L1059.6 510.8 L1060.1 510.8 L1060.6 510.7 L1061.1 510.8 L1061.6 510.9 L1062.1 511.0 L1062.6 510.9 L1063.1 510.9 L1063.6 510.9 L1064.1 510.8 L1064.6 510.6 L1065.1 510.7 L1065.6 510.8 L1066.1 511.0 L1067.1 511.0 L1067.6 510.7 L1068.1 510.5 L1068.6 510.7 L1069.1 510.4 L1069.6 510.5 L1070.1 510.7 L1070.6 511.0 L1071.6 510.9 L1072.1 510.9 L1072.6 510.8 L1073.1 510.7 L1073.6 510.5 L1074.1 510.7 L1074.6 510.8 L1075.1 510.9 L1075.6 510.8 L1076.1 510.9 L1076.6 510.9 L1077.1 510.9 L1077.6 510.8 L1078.1 510.8 L1078.6 510.9 L1079.1 510.8 L1079.6 510.5 L1080.1 510.5 L1080.6 510.8 L1081.1 510.9 L1081.6 510.7 L1082.1 510.5 L1082.6 510.6 L1083.1 510.8 L1083.6 510.9 L1084.1 510.9 L1084.6 510.9 L1085.1 511.0 L1085.6 510.7 L1086.1 510.3 L1086.6 510.0 L1087.1 510.4 L1087.6 510.8 L1088.1 510.7 L1088.6 510.6 L1089.1 510.6 L1089.6 510.7 L1090.1 510.9 L1090.6 511.0 L1091.6 510.9 L1092.1 510.9 L1092.6 510.9 L1093.1 510.9 L1094.1 511.0 L1094.6 510.6 L1095.1 509.8 L1095.6 510.4 L1096.1 510.9 L1096.6 510.8 L1097.1 510.9 L1097.6 510.9 L1098.1 510.8 L1098.6 510.8 L1099.1 510.9 L1099.6 510.6 L1100.1 510.7 L1100.6 510.6 L1101.1 510.2 L1101.6 510.1 L1102.1 510.5 L1102.6 510.9 L1103.1 511.0 L1103.6 510.9 L1104.1 510.8 L1104.6 510.9 L1105.1 511.0 L1106.1 510.9 L1106.6 510.7 L1107.1 510.5 L1107.6 510.7 L1108.1 510.9 L1108.6 510.7 L1109.1 510.4 L1109.6 510.1 L1110.1 510.4 L1110.6 510.4 L1111.1 509.9 L1111.6 510.3 L1112.1 510.8 L1112.6 510.9 L1113.6 510.9 L1114.1 510.9 L1114.6 510.7 L1115.1 510.5 L1115.6 510.5 L1116.1 510.7 L1116.6 510.8 L1117.1 510.9 L1117.6 511.0 L1119.6 510.9 L1120.1 510.6 L1120.6 510.3 L1121.1 510.1 L1121.6 510.4 L1122.1 510.7 L1122.6 511.0 L1123.1 510.9 L1123.6 510.9 L1124.1 510.8 L1124.6 510.8 L1125.1 510.9 L1125.6 511.0 L1126.1 510.8 L1126.6 510.2 L1127.1 510.0 L1127.6 510.5 L1128.1 511.0 L1128.6 510.8 L1129.1 510.4 L1129.6 510.1 L1130.1 510.4 L1130.6 510.2 L1131.1 510.4 L1131.6 511.0 L1132.1 510.9 L1132.6 510.8 L1133.1 510.8 L1133.6 510.9 L1134.1 511.0 L1134.6 510.9 L1135.1 510.5 L1135.6 510.1 L1136.1 509.8 L1136.6 510.2 L1137.1 510.6 L1137.6 511.0 L1140.1 511.0 L1140.6 510.8 L1141.1 510.5 L1141.6 510.3 L1142.1 510.6 L1142.6 510.9 L1146.6 510.9 L1147.1 510.7 L1147.6 510.6 L1148.1 510.5 L1148.6 510.2 L1149.1 510.2 L1149.6 510.5 L1150.1 510.5 L1150.6 510.8 L1151.1 511.0 L1152.1 510.9 L1152.6 510.7 L1153.1 510.4 L1153.6 510.2 L1154.1 510.5 L1154.6 510.7 L1155.1 510.8 L1155.6 510.3 L1156.1 510.3 L1156.6 510.7 L1157.1 510.7 L1157.6 510.5 L1158.1 510.4 L1158.6 510.6 L1159.1 510.8 L1159.6 511.0 L1160.6 511.0 L1161.1 510.9 L1161.6 510.9 L1162.1 510.9 L1162.6 511.0 L1163.1 506.0 L1163.6 493.5 L1164.1 481.0 L1164.3 476.1 L1164.6 483.5 L1165.1 496.0 L1165.6 507.3 L1166.0 506.5 L1166.1 506.7 L1166.6 507.7 L1167.1 508.7 L1167.6 509.3 L1168.1 508.0 L1168.4 507.2 L1168.6 507.7 L1169.1 509.1 L1169.6 510.4 L1170.1 510.7 L1170.6 510.6 L1171.1 510.5 L1171.6 510.7 L1172.1 510.9 L1172.6 511.0 L1173.1 510.9 L1173.6 510.9 L1174.1 510.9 L1174.6 510.9 L1175.1 510.8 L1175.6 510.5 L1176.1 510.5 L1176.6 510.8 L1177.1 511.0 L1177.6 510.8 L1178.1 510.6 L1178.6 510.5 L1179.1 510.7 L1179.6 510.9 L1180.1 511.0 L1180.6 510.8 L1181.1 510.7 L1181.6 510.6 L1182.1 510.4 L1182.6 510.4 L1183.1 510.6 L1183.6 509.8 L1184.1 508.8 L1184.4 508.2 L1184.6 508.6 L1185.1 509.6 L1185.6 510.6 L1186.1 510.7 L1186.6 510.4 L1187.1 510.3 L1187.6 510.5 L1188.1 510.8 L1188.6 510.9 L1189.1 510.8 L1189.6 510.8 L1190.1 510.9 L1190.6 510.8 L1191.1 510.7 L1191.6 510.8 L1192.1 510.9 L1192.6 510.9 L1193.1 510.9 L1193.6 510.9 L1194.1 510.9 L1194.6 511.0 L1195.1 510.9 L1195.6 510.7 L1196.1 510.5 L1196.6 510.4 L1197.1 510.6 L1197.6 510.8 L1198.1 511.0 L1201.1 510.9 L1201.6 510.8 L1202.1 510.7 L1202.6 510.8 L1203.1 510.9 L1204.1 511.0 L1204.6 510.9 L1205.1 510.8 L1205.6 510.9 L1206.1 510.7 L1206.6 510.7 L1207.1 510.8 L1207.6 510.9 L1208.1 510.9 L1209.1 510.9 L1209.6 510.7 L1210.1 510.5 L1210.6 510.4 L1211.1 510.7 L1211.6 510.8 L1212.1 510.2 L1212.6 510.1 L1213.1 510.7 L1213.6 511.0 L1214.1 510.9 L1214.6 510.6 L1215.1 510.3 L1215.6 510.3 L1216.1 510.6 L1216.6 510.9 L1217.1 511.0 L1217.6 511.0 L1218.1 510.9 L1218.6 510.8 L1219.1 510.8 L1219.6 510.9 L1220.1 510.9 L1220.6 510.9 L1221.1 510.9 L1221.6 510.9 L1222.1 510.0 L1222.6 509.0 L1223.0 508.2 L1223.1 508.4 L1223.6 509.4 L1224.1 510.4 L1224.6 510.3 L1225.1 510.4 L1225.6 510.6 L1226.1 510.3 L1226.6 510.0 L1227.1 510.1 L1227.6 510.5 L1228.1 510.8 L1228.6 510.9 L1229.1 510.9 L1229.6 511.0 L1230.1 510.7 L1230.6 510.4 L1231.1 510.2 L1231.6 510.5 L1232.1 510.8 L1232.6 510.9 L1233.1 510.7 L1233.6 510.6 L1234.1 510.6 L1234.6 510.5 L1235.1 510.3 L1235.6 510.6 L1236.1 510.9 L1236.6 511.0 L1238.6 511.0 L1239.1 510.8 L1239.6 510.6 L1240.1 510.4 L1240.6 510.6 L1241.1 510.9 L1241.6 511.0 L1244.1 511.0 L1244.6 510.9 L1245.1 510.6 L1245.6 510.4 L1246.1 510.4 L1246.6 510.1 L1247.1 510.1 L1247.6 510.5 L1248.1 511.0 L1248.6 510.6 L1249.1 510.2 L1249.6 510.3 L1250.1 510.8 L1250.6 510.8 L1251.1 510.5 L1251.6 510.3 L1252.1 510.2 L1252.6 510.5 L1253.1 510.7 L1253.6 510.9 L1254.1 510.8 L1254.6 510.8 L1255.1 510.9 L1255.6 510.9 L1256.1 511.0 L1257.1 510.9 L1257.6 510.7 L1258.1 510.4 L1258.6 510.2 L1259.1 510.4 L1259.6 510.6 L1260.1 510.9 L1260.6 510.9 L1261.1 510.8 L1261.6 510.9 L1262.1 510.9 L1263.1 511.0 L1263.6 510.8 L1264.1 510.2 L1264.6 510.2 L1265.1 510.8 L1265.6 511.0 L1266.1 511.0 L1266.6 510.8 L1267.1 510.7 L1267.6 510.9 L1268.1 510.8 L1268.6 510.6 L1269.1 510.8 L1269.6 511.0 L1270.1 511.0 L1270.6 510.9 L1271.1 510.5 L1271.6 510.1 L1272.1 510.2 L1272.6 510.6 L1273.1 510.3 L1273.6 510.4 L1274.1 510.3 L1274.6 509.2 L1275.1 508.0 L1275.6 506.9 L1275.8 506.5 L1276.1 507.1 L1276.6 506.8 L1277.1 505.8 L1277.5 505.0 L1277.6 505.2 L1278.1 506.2 L1278.6 496.4 L1279.1 486.0 L1279.4 479.8 L1279.6 483.9 L1280.1 494.3 L1280.6 455.7 L1281.1 416.2 L1281.3 400.4 L1281.6 424.1 L1282.1 463.6 L1282.6 503.1 L1283.1 501.3 L1283.3 500.4 L1283.6 501.8 L1284.1 504.2 L1284.5 506.0 L1284.6 506.2 L1285.1 507.2 L1285.6 508.2 L1286.1 509.2 L1286.6 510.2 L1287.1 511.0 L1288.6 510.9 L1289.1 510.9 L1289.6 510.9 L1290.1 510.7 L1290.6 510.3 L1291.1 510.1 L1291.6 510.6 L1292.1 511.0 L1292.6 510.9 L1293.1 510.8 L1293.6 510.8 L1294.1 510.9 L1294.6 510.8 L1295.1 510.5 L1295.6 510.2 L1296.1 510.3 L1296.6 510.7 L1297.1 511.0 L1297.6 511.0 L1298.1 510.9 L1298.6 510.7 L1299.1 510.7 L1299.6 510.6 L1300.1 510.4 L1300.6 510.6 L1301.1 510.8 L1301.6 511.0 L1304.6 511.0 L1305.1 510.8 L1305.6 510.6 L1306.1 510.7 L1306.6 510.1 L1307.1 509.9 L1307.6 510.5 L1308.1 510.8 L1308.6 510.9 L1309.6 511.0 L1310.1 510.8 L1310.6 510.5 L1311.1 510.1 L1311.6 510.1 L1312.1 510.5 L1312.6 510.8 L1313.1 510.9 L1314.6 510.9 L1315.1 510.9 L1315.6 510.8 L1316.1 510.9 L1316.6 510.9 L1317.1 511.0 L1317.6 510.8 L1318.1 510.6 L1318.6 510.7 L1319.1 510.9 L1319.6 510.8 L1320.1 510.8 L1320.6 510.9 L1321.1 510.9 L1321.6 510.9 L1322.1 509.3 L1322.6 501.0 L1323.1 492.8 L1323.3 489.5 L1323.6 494.4 L1324.1 502.7 L1324.6 510.6 L1325.1 510.8 L1325.6 511.0 L1326.1 511.0 L1326.6 510.8 L1327.1 510.3 L1327.6 509.9 L1328.1 510.5 L1328.6 510.8 L1329.1 510.5 L1329.6 510.6 L1330.1 510.9 L1330.6 511.0 L1369.1 511.0 L1369.60 510.96 Z" fill="#eb14e6"/>
<path d="M351.60 632.48 L351.6 632.5 L393.1 632.5 L393.6 632.4 L394.1 632.1 L394.6 631.8 L395.1 631.6 L395.6 631.9 L396.1 632.2 L396.6 632.5 L397.1 632.4 L397.6 632.4 L398.1 632.4 L398.6 632.5 L399.6 632.5 L400.1 631.6 L400.6 630.7 L401.0 630.0 L401.1 630.2 L401.6 631.1 L402.1 631.7 L402.6 632.2 L403.1 632.5 L403.6 632.4 L404.1 632.4 L404.6 632.3 L405.1 632.4 L405.6 632.4 L406.1 632.5 L406.6 632.5 L407.1 632.3 L407.6 632.1 L408.1 632.2 L408.6 630.9 L409.1 629.3 L409.5 628.1 L409.6 628.4 L410.1 630.0 L410.6 631.5 L411.1 631.4 L411.6 630.3 L412.0 629.5 L412.1 629.7 L412.6 630.8 L413.1 631.8 L413.6 632.3 L414.1 632.2 L414.6 632.1 L415.1 632.2 L415.6 632.4 L416.1 632.5 L416.6 632.5 L417.1 632.4 L417.6 632.4 L418.1 632.4 L418.6 632.5 L419.1 632.4 L419.6 632.1 L420.1 631.7 L420.4 631.5 L420.6 631.6 L421.1 632.0 L421.6 632.3 L422.1 632.0 L422.6 631.9 L423.1 632.3 L423.6 632.5 L424.1 632.3 L424.6 632.1 L425.1 631.8 L425.6 632.1 L426.1 632.3 L426.6 632.2 L427.1 631.9 L427.6 631.7 L428.1 631.9 L428.6 632.1 L429.1 632.1 L429.6 632.3 L430.1 632.5 L430.6 632.5 L431.1 632.4 L431.6 632.5 L433.6 632.5 L434.1 632.2 L434.6 631.8 L435.1 632.1 L435.6 632.1 L436.1 632.1 L436.6 632.3 L437.1 632.4 L437.6 632.4 L438.1 632.2 L438.6 632.1 L439.1 632.2 L439.6 631.5 L440.1 630.8 L440.3 630.5 L440.6 630.9 L441.1 631.6 L441.6 632.3 L442.1 632.4 L442.6 632.4 L443.1 632.1 L443.6 631.9 L444.1 631.8 L444.6 632.0 L445.1 632.3 L445.6 632.5 L446.1 632.4 L446.6 632.3 L447.1 632.1 L447.6 632.3 L448.1 632.4 L449.1 632.5 L449.6 632.2 L450.1 632.2 L450.6 632.4 L451.1 632.5 L452.6 632.4 L453.1 632.4 L453.6 632.4 L454.1 632.5 L456.1 632.5 L456.6 632.4 L457.1 632.1 L457.6 631.9 L458.1 631.9 L458.6 632.2 L459.1 632.2 L459.6 632.1 L460.1 632.2 L460.6 632.3 L461.1 632.5 L461.6 632.2 L462.1 631.8 L462.6 632.2 L463.1 632.5 L464.1 632.5 L464.6 632.4 L465.1 632.4 L465.6 632.5 L466.1 632.5 L466.6 632.4 L467.1 632.4 L467.6 632.4 L468.1 632.4 L468.6 632.4 L469.1 632.5 L471.1 632.5 L471.6 632.4 L472.1 632.2 L472.6 632.2 L473.1 632.4 L473.6 632.5 L474.1 632.4 L474.6 632.4 L475.1 632.4 L475.6 632.5 L478.1 632.5 L478.6 632.4 L479.1 632.3 L479.6 632.3 L480.1 632.4 L480.6 632.5 L481.6 632.5 L482.1 632.3 L482.6 632.2 L483.1 632.3 L483.6 632.4 L484.1 632.3 L484.6 632.3 L485.1 632.4 L485.6 631.9 L486.1 631.4 L486.5 631.0 L486.6 631.1 L487.1 631.6 L487.6 632.2 L488.1 632.3 L488.6 632.3 L489.1 632.4 L489.6 632.5 L490.6 632.5 L491.1 632.3 L491.6 632.3 L492.1 632.4 L493.1 632.4 L493.6 632.3 L494.1 632.3 L494.6 632.5 L495.1 632.2 L495.6 631.7 L496.1 632.1 L496.6 632.4 L497.1 632.4 L497.6 632.4 L498.1 632.2 L498.6 632.0 L499.1 632.0 L499.6 632.2 L500.1 632.3 L500.6 632.4 L501.1 632.5 L501.6 632.5 L502.1 632.4 L502.6 632.2 L503.1 632.2 L503.6 632.4 L504.1 632.5 L505.1 632.5 L505.6 632.0 L506.1 631.9 L506.6 632.3 L507.1 632.3 L507.6 632.4 L508.1 632.4 L508.6 632.3 L509.1 632.2 L509.6 632.3 L510.1 632.4 L510.6 632.4 L511.1 632.2 L511.6 631.8 L512.1 631.7 L512.6 632.0 L513.1 632.3 L513.6 628.7 L514.1 624.0 L514.6 619.3 L515.1 624.0 L515.6 628.7 L516.1 631.1 L516.6 629.6 L517.0 628.5 L517.1 628.8 L517.6 630.2 L518.1 631.2 L518.6 627.8 L519.1 624.5 L519.3 623.2 L519.6 625.2 L520.1 628.5 L520.6 630.2 L521.1 628.8 L521.2 628.5 L521.6 629.6 L522.1 631.1 L522.6 632.0 L523.1 632.2 L523.6 632.4 L524.1 632.4 L524.6 632.5 L525.1 631.9 L525.6 630.5 L526.1 629.1 L526.3 628.6 L526.6 629.4 L527.1 630.8 L527.6 632.2 L528.1 632.3 L528.6 632.4 L529.1 632.5 L533.6 632.5 L534.1 632.4 L534.6 632.1 L535.1 632.3 L535.6 632.5 L536.1 632.3 L536.6 632.1 L537.1 632.2 L537.6 632.4 L538.1 632.2 L538.6 631.9 L539.1 632.0 L539.6 631.0 L540.1 629.8 L540.6 628.6 L541.1 629.8 L541.6 631.0 L542.1 631.8 L542.6 632.1 L543.1 632.5 L546.6 632.5 L547.1 632.3 L547.6 631.9 L548.1 631.7 L548.6 632.1 L549.1 632.3 L549.6 632.0 L550.1 631.7 L550.6 632.0 L551.1 632.2 L551.6 632.3 L552.1 632.4 L552.6 632.5 L553.1 632.4 L553.6 632.0 L554.1 632.0 L554.6 632.3 L555.1 632.0 L555.6 631.7 L556.1 631.9 L556.6 632.2 L557.1 632.5 L557.6 632.4 L558.1 632.3 L558.6 632.2 L559.1 632.3 L559.6 632.4 L560.1 632.5 L560.6 632.4 L561.1 632.1 L561.6 631.8 L562.1 632.0 L562.6 632.3 L563.1 632.5 L567.1 632.5 L567.6 632.4 L568.1 632.2 L568.6 632.1 L569.1 632.2 L569.6 632.3 L570.1 632.5 L570.6 632.5 L571.1 623.0 L571.6 611.2 L572.1 599.3 L572.2 597.0 L572.6 606.4 L573.1 618.3 L573.4 624.9 L573.6 625.4 L574.1 626.8 L574.6 628.1 L575.1 629.5 L575.6 630.9 L576.1 632.2 L576.6 632.2 L577.1 632.4 L577.6 632.4 L578.1 632.3 L578.6 632.4 L579.1 632.5 L580.1 632.5 L580.6 632.4 L581.1 632.3 L581.6 632.3 L582.1 632.4 L590.1 632.5 L590.6 632.4 L591.1 632.2 L591.6 632.2 L592.1 632.4 L592.6 632.5 L593.1 632.5 L593.6 632.4 L594.1 632.3 L594.6 632.3 L595.1 632.4 L595.6 632.4 L596.1 632.4 L596.6 632.4 L597.1 632.4 L597.6 632.4 L598.1 632.5 L598.6 632.3 L599.1 632.0 L599.6 632.1 L600.1 632.4 L600.6 632.5 L601.1 632.1 L601.6 631.7 L602.1 631.8 L602.6 632.3 L603.1 632.4 L603.6 632.4 L604.1 632.4 L604.6 632.5 L605.1 632.4 L605.6 632.2 L606.1 632.2 L606.6 632.3 L607.1 632.4 L607.6 632.4 L608.1 632.3 L608.6 632.2 L609.1 632.2 L609.6 632.3 L610.1 632.2 L610.6 632.3 L611.1 632.4 L611.6 632.5 L612.1 632.2 L612.6 632.0 L613.1 631.8 L613.6 632.0 L614.1 632.2 L614.6 632.5 L615.1 632.4 L615.6 632.4 L616.1 632.4 L616.6 632.5 L618.1 632.5 L618.6 632.4 L619.1 632.4 L619.6 632.4 L620.1 631.9 L620.6 631.9 L621.1 632.2 L621.6 632.1 L622.1 632.1 L622.6 632.3 L623.1 632.2 L623.6 631.9 L624.1 632.0 L624.6 632.2 L625.1 632.5 L626.6 632.5 L627.1 632.4 L627.6 632.0 L628.1 631.7 L628.6 631.8 L629.1 632.1 L629.6 632.4 L630.1 632.4 L631.1 632.5 L631.6 632.4 L632.1 632.3 L632.6 632.4 L633.1 632.4 L633.6 632.4 L634.1 632.4 L634.6 632.4 L635.6 632.5 L636.1 632.1 L636.6 631.8 L637.1 632.2 L637.6 632.5 L638.1 632.2 L638.6 631.8 L639.1 631.7 L639.6 632.1 L640.1 632.0 L640.6 632.1 L641.1 632.3 L641.6 632.5 L643.6 632.5 L644.1 632.4 L644.6 632.1 L645.1 631.7 L645.6 631.8 L646.1 632.2 L646.6 631.9 L647.1 631.7 L647.6 632.1 L648.1 632.4 L650.1 632.5 L650.6 632.3 L651.1 632.2 L651.6 632.1 L652.1 632.2 L652.6 632.3 L653.1 632.5 L656.6 632.5 L657.1 632.4 L657.6 632.2 L658.1 631.9 L658.6 631.7 L659.1 632.0 L659.6 632.2 L660.1 632.0 L660.6 632.2 L661.1 632.5 L662.1 632.5 L662.6 632.3 L663.1 631.8 L663.6 632.0 L664.1 632.0 L664.6 631.8 L665.1 631.9 L665.6 632.1 L666.1 632.4 L666.6 632.5 L669.6 632.5 L670.1 632.3 L670.6 632.1 L671.1 632.2 L671.6 632.3 L672.1 632.5 L676.1 632.5 L676.6 632.3 L677.1 632.1 L677.6 632.2 L678.1 631.9 L678.6 631.8 L679.1 632.1 L679.6 632.4 L680.1 632.5 L680.6 632.4 L681.1 632.1 L681.6 631.7 L682.1 631.7 L682.6 632.1 L683.1 632.4 L683.6 632.5 L684.1 632.2 L684.6 632.0 L685.1 631.8 L685.6 631.1 L686.1 630.2 L686.3 629.8 L686.6 630.4 L687.1 631.3 L687.6 632.2 L688.1 632.1 L688.6 631.9 L689.1 632.0 L689.6 632.3 L690.1 632.3 L690.6 632.2 L691.1 632.3 L691.6 632.4 L692.1 632.2 L692.6 632.0 L693.1 631.7 L693.6 632.0 L694.1 632.2 L694.6 632.3 L695.1 632.3 L695.6 632.4 L696.1 632.4 L696.6 632.5 L697.1 632.3 L697.6 632.2 L698.1 632.0 L698.6 632.1 L699.1 632.3 L699.6 632.3 L700.1 632.2 L700.6 630.9 L701.1 628.9 L701.6 627.0 L701.7 626.6 L702.1 628.2 L702.6 630.1 L703.1 632.1 L703.6 632.4 L704.1 632.5 L704.6 632.5 L705.1 632.3 L705.6 632.1 L706.1 632.0 L706.6 632.2 L707.1 632.4 L707.6 632.3 L708.1 632.4 L708.6 632.5 L710.1 632.5 L710.6 632.4 L711.1 632.3 L711.6 632.1 L712.1 632.2 L712.6 632.3 L713.1 632.4 L713.6 632.4 L714.1 632.3 L714.6 631.9 L715.1 631.4 L715.5 631.0 L715.6 631.1 L716.1 631.6 L716.6 632.2 L717.1 632.5 L717.6 632.2 L718.1 631.6 L718.6 631.1 L718.7 631.0 L719.1 631.4 L719.6 631.9 L720.1 632.2 L720.6 632.1 L721.1 632.1 L721.6 631.9 L722.1 630.5 L722.6 629.1 L722.8 628.6 L723.1 629.4 L723.6 630.1 L724.0 629.1 L724.1 629.3 L724.6 630.5 L725.1 631.8 L725.6 632.1 L726.1 632.2 L726.6 632.3 L727.1 632.4 L727.6 632.3 L728.1 632.2 L728.6 632.3 L729.1 632.4 L729.6 632.5 L730.1 632.3 L730.6 632.1 L731.1 632.1 L731.6 631.9 L732.1 631.6 L732.6 631.9 L733.1 632.2 L733.6 632.5 L734.1 632.5 L734.6 632.3 L735.1 632.0 L735.6 632.0 L736.1 632.3 L736.6 632.4 L737.1 632.2 L737.6 632.1 L738.1 632.3 L738.6 632.5 L739.1 632.5 L739.6 632.4 L740.1 632.3 L740.6 632.2 L741.1 632.3 L741.6 632.4 L742.6 632.5 L743.1 632.4 L743.6 632.3 L744.1 632.4 L744.6 632.4 L746.1 632.5 L746.6 632.4 L747.1 632.0 L747.6 631.7 L748.1 631.8 L748.6 632.1 L749.1 632.5 L749.6 632.5 L750.1 632.3 L750.6 632.1 L751.1 632.1 L751.6 632.4 L752.1 632.0 L752.6 631.7 L753.1 631.9 L753.6 632.2 L754.1 632.4 L754.6 632.3 L755.1 632.2 L755.6 632.3 L756.1 632.1 L756.6 631.8 L757.1 631.9 L757.6 632.2 L758.1 632.4 L758.6 632.3 L759.1 631.9 L759.6 631.6 L760.1 631.9 L760.6 632.3 L761.1 632.4 L761.6 632.3 L762.1 632.2 L762.6 632.3 L763.1 632.4 L764.1 632.5 L764.6 632.2 L765.1 631.8 L765.6 632.2 L766.1 632.5 L768.6 632.4 L769.1 632.4 L769.6 632.3 L770.1 632.2 L770.6 632.0 L771.1 632.0 L771.6 632.2 L772.1 632.4 L772.6 632.4 L773.1 632.3 L773.6 632.2 L774.1 632.2 L774.6 632.3 L775.1 632.4 L775.6 632.4 L776.1 632.3 L776.6 632.1 L777.1 632.2 L777.6 632.4 L778.1 632.1 L778.6 632.1 L779.1 632.2 L779.6 632.1 L780.1 632.1 L780.6 632.3 L781.1 632.4 L781.6 632.4 L782.1 632.4 L782.6 632.3 L783.1 632.1 L783.6 632.1 L784.1 632.2 L784.6 632.4 L785.1 632.4 L785.6 632.4 L786.1 632.4 L786.6 632.3 L787.1 632.1 L787.6 631.9 L788.1 632.1 L788.6 632.3 L789.1 632.5 L789.6 632.0 L790.1 631.7 L790.6 632.1 L791.1 631.9 L791.6 631.6 L792.1 631.8 L792.6 632.2 L793.1 632.5 L798.1 632.4 L798.6 632.4 L799.1 632.3 L799.6 632.4 L800.1 632.3 L800.6 632.2 L801.1 632.3 L801.6 632.4 L802.1 632.5 L804.6 632.5 L805.1 632.3 L805.6 632.0 L806.1 632.2 L806.6 632.5 L807.1 632.2 L807.6 631.9 L808.1 632.1 L808.6 632.3 L809.1 632.5 L809.6 632.2 L810.1 631.8 L810.6 631.7 L811.1 632.1 L811.6 632.5 L812.1 632.4 L812.6 632.4 L813.1 632.4 L813.6 632.5 L814.1 632.3 L814.6 632.1 L815.1 632.2 L815.6 632.4 L816.1 632.4 L816.6 632.2 L817.1 632.1 L817.6 632.1 L818.1 632.3 L818.6 632.4 L819.1 632.5 L821.6 632.4 L822.1 632.4 L822.6 632.4 L823.1 632.2 L823.6 631.7 L824.1 632.2 L824.6 632.5 L825.1 632.5 L825.6 632.4 L826.1 632.3 L826.6 632.2 L827.1 632.3 L827.6 632.4 L828.1 632.4 L828.6 632.4 L829.1 632.4 L829.6 632.5 L830.6 632.5 L831.1 632.3 L831.6 632.0 L832.1 631.9 L832.6 632.1 L833.1 632.4 L833.6 632.2 L834.1 631.9 L834.6 632.2 L835.1 632.5 L835.6 632.4 L836.1 632.3 L836.6 632.3 L837.1 632.4 L838.6 632.5 L839.1 632.4 L839.6 632.4 L840.1 632.5 L840.6 632.4 L841.1 632.4 L841.6 632.3 L842.1 632.4 L842.6 632.4 L843.1 632.5 L844.6 632.5 L845.1 632.3 L845.6 632.3 L846.1 632.4 L847.6 632.4 L848.1 632.3 L848.6 632.2 L849.1 632.3 L849.6 632.4 L850.1 632.4 L850.6 632.3 L851.1 632.2 L851.6 632.4 L852.1 632.5 L853.6 632.5 L854.1 632.4 L854.6 632.4 L855.1 632.5 L855.6 632.4 L856.1 632.4 L856.6 632.5 L858.1 632.5 L858.6 632.4 L859.1 632.3 L859.6 632.4 L860.1 632.4 L860.6 632.5 L861.1 632.4 L861.6 632.0 L862.1 631.6 L862.6 632.0 L863.1 632.4 L863.6 632.2 L864.1 631.9 L864.6 631.9 L865.1 632.2 L865.6 632.3 L866.1 632.3 L866.6 632.4 L867.1 632.2 L867.6 632.1 L868.1 632.2 L868.6 632.3 L869.1 632.5 L869.6 632.4 L870.1 632.2 L870.6 632.0 L871.1 632.1 L871.6 632.3 L872.1 632.5 L873.1 632.5 L873.6 632.3 L874.1 632.2 L874.6 632.3 L875.1 632.4 L875.6 632.2 L876.1 631.9 L876.6 632.2 L877.1 632.5 L878.6 632.4 L879.1 632.4 L879.6 632.4 L880.1 632.5 L880.6 632.5 L881.1 632.4 L881.6 632.4 L882.1 632.3 L882.6 632.4 L883.1 632.4 L883.6 632.3 L884.1 632.4 L884.6 632.5 L885.1 632.4 L885.6 632.3 L886.1 632.2 L886.6 632.2 L887.1 632.3 L887.6 632.4 L888.1 632.5 L892.1 632.5 L892.6 632.4 L893.1 632.3 L893.6 632.4 L894.1 632.5 L894.6 632.5 L895.1 632.0 L895.6 631.6 L896.1 632.0 L896.6 632.3 L897.1 631.9 L897.6 631.9 L898.1 632.3 L898.6 632.5 L899.1 632.5 L899.6 632.4 L900.1 632.3 L900.6 632.2 L901.1 632.3 L901.6 632.4 L902.1 632.3 L902.6 632.3 L903.1 632.4 L903.6 632.4 L904.1 632.5 L904.6 632.4 L905.1 632.1 L905.6 632.0 L906.1 632.3 L906.6 632.4 L907.1 632.2 L907.6 631.9 L908.1 632.0 L908.6 632.2 L909.1 632.5 L909.6 632.5 L910.1 632.4 L910.6 632.1 L911.1 631.9 L911.6 632.0 L912.1 632.3 L912.6 632.4 L913.1 632.3 L913.6 632.1 L914.1 632.0 L914.6 632.2 L915.1 632.4 L915.6 632.1 L916.1 632.0 L916.6 632.2 L917.1 632.2 L917.6 632.3 L918.1 632.4 L919.6 632.5 L920.1 632.4 L920.6 632.2 L921.1 632.2 L921.6 632.4 L922.1 632.3 L922.6 632.1 L923.1 631.9 L923.6 632.1 L924.1 632.3 L924.6 632.4 L925.1 632.2 L925.6 632.1 L926.1 632.0 L926.6 632.2 L927.1 632.3 L927.6 632.5 L930.6 632.4 L931.1 632.3 L931.6 632.1 L932.1 632.2 L932.6 632.3 L933.1 632.5 L933.6 632.4 L934.1 632.1 L934.6 631.9 L935.1 632.2 L935.6 632.3 L936.1 632.1 L936.6 632.2 L937.1 632.4 L937.6 632.4 L938.1 632.3 L938.6 632.3 L939.1 632.3 L939.6 632.4 L940.1 632.5 L940.6 632.4 L941.1 632.2 L941.6 632.0 L942.1 632.0 L942.6 632.2 L943.1 632.4 L943.6 632.4 L944.1 632.3 L944.6 632.3 L945.1 632.4 L945.6 632.4 L946.1 632.1 L946.6 632.3 L947.1 631.8 L947.6 631.7 L948.1 632.3 L948.6 632.1 L949.1 632.0 L949.6 632.3 L950.1 632.5 L952.6 632.5 L953.1 632.2 L953.6 631.8 L954.1 632.1 L954.6 632.4 L955.1 632.1 L955.6 631.9 L956.1 632.0 L956.6 632.2 L957.1 632.4 L958.1 632.4 L958.6 632.4 L959.1 632.3 L959.6 632.3 L960.1 632.3 L960.6 632.1 L961.1 632.0 L961.6 632.2 L962.1 632.4 L962.6 632.1 L963.1 631.9 L963.6 632.3 L964.1 632.5 L966.6 632.5 L967.1 632.4 L967.6 632.4 L968.1 632.4 L968.6 632.5 L969.1 632.4 L969.6 632.4 L970.1 632.3 L970.6 632.4 L971.1 632.4 L972.1 632.5 L972.6 632.3 L973.1 631.6 L973.6 630.7 L974.0 630.0 L974.1 630.2 L974.6 631.1 L975.1 631.9 L975.6 632.4 L976.1 632.4 L976.6 632.3 L977.1 632.1 L977.6 632.2 L978.1 632.4 L978.6 632.5 L981.1 632.5 L981.6 632.3 L982.1 632.2 L982.6 632.4 L983.1 632.4 L983.6 632.4 L984.1 632.3 L984.6 632.4 L985.1 632.4 L985.6 632.4 L986.1 632.0 L986.6 631.8 L987.1 632.2 L987.6 632.3 L988.1 632.2 L988.6 632.3 L989.1 632.3 L989.6 632.3 L990.1 632.4 L990.6 632.4 L991.6 632.5 L992.1 632.4 L992.6 632.4 L993.1 632.5 L994.1 632.5 L994.6 632.4 L995.1 632.4 L995.6 632.4 L996.1 632.4 L996.6 632.5 L997.1 632.4 L997.6 632.1 L998.1 632.3 L998.6 632.4 L999.1 632.4 L999.6 632.5 L1000.1 632.3 L1000.6 632.1 L1001.1 632.1 L1001.6 632.3 L1002.1 632.4 L1004.1 632.5 L1004.6 632.1 L1005.1 631.3 L1005.6 630.6 L1005.7 630.5 L1006.1 631.1 L1006.6 631.8 L1007.1 632.4 L1007.6 632.3 L1008.1 632.1 L1008.6 632.3 L1009.1 632.5 L1009.6 632.5 L1010.1 632.4 L1010.6 632.3 L1011.1 632.3 L1011.6 632.3 L1012.1 632.4 L1012.6 632.5 L1013.1 632.5 L1013.6 632.4 L1014.1 632.4 L1014.6 632.4 L1015.1 632.4 L1016.6 632.5 L1017.1 632.4 L1017.6 632.2 L1018.1 632.3 L1018.6 632.5 L1019.1 632.5 L1019.6 632.4 L1020.1 632.3 L1020.6 632.4 L1021.1 632.5 L1022.1 632.5 L1022.6 632.3 L1023.1 631.3 L1023.6 630.4 L1023.9 629.8 L1024.1 630.2 L1024.6 631.1 L1025.1 632.1 L1025.6 632.4 L1026.1 632.4 L1026.6 632.3 L1027.1 632.2 L1027.6 632.2 L1028.1 632.3 L1028.6 632.5 L1029.6 632.5 L1030.1 632.4 L1030.6 632.3 L1031.1 632.3 L1031.6 632.5 L1032.1 632.5 L1032.6 632.4 L1033.1 632.2 L1033.6 632.1 L1034.1 632.1 L1034.6 632.2 L1035.1 632.4 L1035.6 632.5 L1038.1 632.4 L1038.6 632.2 L1039.1 632.1 L1039.6 632.2 L1040.1 632.2 L1040.6 632.3 L1041.1 632.5 L1042.1 632.5 L1042.6 632.4 L1043.1 632.4 L1043.6 632.4 L1044.1 632.4 L1044.6 632.4 L1045.1 632.3 L1045.6 632.2 L1046.1 632.3 L1046.6 632.4 L1047.1 632.5 L1047.6 632.4 L1048.1 632.2 L1048.6 632.2 L1049.1 632.4 L1049.6 632.5 L1050.6 632.4 L1051.1 632.3 L1051.6 632.3 L1052.1 632.3 L1052.6 632.4 L1053.1 632.4 L1053.6 632.3 L1054.1 632.4 L1054.6 632.5 L1056.1 632.5 L1056.6 632.3 L1057.1 632.3 L1057.6 632.4 L1058.1 632.5 L1058.6 632.3 L1059.1 632.0 L1059.6 631.7 L1060.1 631.9 L1060.6 632.2 L1061.1 632.3 L1061.6 632.1 L1062.1 631.8 L1062.6 632.0 L1063.1 632.3 L1063.6 632.5 L1065.6 632.5 L1066.1 632.4 L1066.6 632.3 L1067.1 632.4 L1067.6 632.5 L1069.1 632.5 L1069.6 632.3 L1070.1 632.0 L1070.6 632.2 L1071.1 631.9 L1071.6 631.8 L1072.1 632.2 L1072.6 632.3 L1073.1 632.3 L1073.6 632.4 L1074.1 632.4 L1074.6 632.5 L1075.1 632.3 L1075.6 632.0 L1076.1 632.1 L1076.6 632.4 L1077.1 632.4 L1077.6 632.4 L1078.1 632.4 L1078.6 632.5 L1079.1 632.4 L1079.6 632.2 L1080.1 632.1 L1080.6 632.2 L1081.1 632.4 L1081.6 632.3 L1082.1 632.3 L1082.6 632.4 L1083.1 632.4 L1083.6 632.5 L1084.1 632.2 L1084.6 632.0 L1085.1 632.3 L1085.6 632.4 L1086.1 632.4 L1086.6 632.3 L1087.1 632.4 L1087.6 632.2 L1088.1 632.1 L1088.6 632.3 L1089.1 632.4 L1092.6 632.5 L1093.1 632.4 L1093.6 632.0 L1094.1 632.1 L1094.6 632.4 L1095.1 632.5 L1095.6 632.4 L1096.1 632.4 L1096.6 632.3 L1097.1 632.4 L1097.6 632.5 L1098.1 632.1 L1098.6 631.7 L1099.1 632.1 L1099.6 632.5 L1100.6 632.4 L1101.1 632.3 L1101.6 632.2 L1102.1 632.2 L1102.6 632.3 L1103.1 632.4 L1103.6 632.5 L1104.1 632.1 L1104.6 631.6 L1105.1 632.0 L1105.6 632.4 L1106.1 632.4 L1106.6 632.4 L1107.1 632.4 L1110.6 632.5 L1111.1 632.2 L1111.6 631.9 L1112.1 632.3 L1112.6 632.3 L1113.1 632.1 L1113.6 632.3 L1114.1 632.5 L1116.6 632.4 L1117.1 632.3 L1117.6 632.1 L1118.1 632.0 L1118.6 632.2 L1119.1 632.4 L1119.6 632.5 L1120.1 632.4 L1120.6 632.4 L1121.1 632.3 L1121.6 632.4 L1122.1 632.4 L1122.6 632.1 L1123.1 631.8 L1123.6 632.0 L1124.1 632.0 L1124.6 631.9 L1125.1 632.1 L1125.6 632.3 L1126.1 632.5 L1131.1 632.5 L1131.6 632.4 L1132.1 632.3 L1132.6 632.3 L1133.1 632.4 L1133.6 632.4 L1136.6 632.5 L1137.1 632.3 L1137.6 632.2 L1138.1 632.1 L1138.6 632.3 L1139.1 632.4 L1139.6 632.4 L1140.1 632.5 L1140.6 632.4 L1141.1 632.4 L1141.6 632.4 L1142.1 632.4 L1142.6 632.3 L1143.1 632.3 L1143.6 632.1 L1144.1 631.7 L1144.6 631.7 L1145.1 632.1 L1145.6 632.4 L1146.1 632.5 L1146.6 632.5 L1147.1 632.3 L1147.6 632.1 L1148.1 632.0 L1148.6 632.2 L1149.1 632.5 L1152.6 632.4 L1153.1 632.4 L1153.6 632.4 L1154.1 632.4 L1155.1 632.5 L1155.6 632.3 L1156.1 631.8 L1156.6 632.1 L1157.1 632.4 L1157.6 632.4 L1158.1 632.5 L1161.1 632.4 L1161.6 632.4 L1162.1 632.3 L1162.6 631.9 L1163.1 626.7 L1163.6 612.3 L1164.1 597.9 L1164.3 592.2 L1164.6 600.8 L1165.1 615.2 L1165.6 629.6 L1166.1 632.1 L1166.6 632.3 L1167.1 631.6 L1167.6 627.0 L1168.1 622.4 L1168.4 619.7 L1168.6 621.5 L1169.1 626.1 L1169.6 630.7 L1170.1 632.4 L1170.6 632.3 L1171.1 632.2 L1171.6 632.2 L1172.1 632.4 L1172.6 632.5 L1173.1 632.5 L1173.6 632.3 L1174.1 632.2 L1174.6 632.2 L1175.1 632.4 L1175.6 632.5 L1176.6 632.5 L1177.1 632.4 L1177.6 632.4 L1178.1 632.4 L1178.6 632.4 L1179.1 632.4 L1179.6 632.3 L1180.1 632.4 L1180.6 632.4 L1181.1 632.5 L1181.6 632.2 L1182.1 631.8 L1182.6 632.1 L1183.1 632.4 L1183.6 631.9 L1184.1 631.4 L1184.4 631.1 L1184.6 631.3 L1185.1 631.8 L1185.6 632.3 L1186.1 632.5 L1186.6 632.4 L1187.1 632.4 L1187.6 632.3 L1188.1 632.4 L1188.6 632.0 L1189.1 631.6 L1189.6 631.9 L1190.1 632.3 L1190.6 632.5 L1191.1 632.5 L1191.6 632.1 L1192.1 631.7 L1192.6 632.1 L1193.1 632.5 L1193.6 632.4 L1194.1 632.4 L1194.6 632.3 L1195.1 632.4 L1195.6 632.5 L1199.1 632.5 L1199.6 632.4 L1200.1 632.4 L1200.6 632.4 L1201.1 632.4 L1201.6 632.4 L1202.1 632.4 L1202.6 632.5 L1203.1 632.3 L1203.6 631.9 L1204.1 631.6 L1204.6 631.8 L1205.1 632.1 L1205.6 632.2 L1206.1 632.1 L1206.6 632.1 L1207.1 632.3 L1207.6 632.4 L1208.1 632.2 L1208.6 631.9 L1209.1 631.2 L1209.6 630.4 L1209.7 630.3 L1210.1 630.9 L1210.6 631.7 L1211.1 632.3 L1211.6 632.5 L1212.1 632.5 L1212.6 632.4 L1213.1 632.2 L1213.6 632.1 L1214.1 632.3 L1214.6 632.4 L1215.1 632.3 L1215.6 632.3 L1216.1 631.9 L1216.6 631.4 L1217.0 631.0 L1217.1 631.1 L1217.6 631.6 L1218.1 632.2 L1218.6 632.2 L1219.1 632.3 L1219.6 632.4 L1221.6 632.5 L1222.1 631.9 L1222.6 631.4 L1223.0 631.0 L1223.1 631.1 L1223.6 631.6 L1224.1 632.2 L1224.6 632.3 L1225.1 631.9 L1225.6 632.0 L1226.1 632.4 L1226.6 632.3 L1227.1 632.2 L1227.6 632.4 L1228.1 632.5 L1228.6 632.3 L1229.1 632.1 L1229.6 632.3 L1230.1 632.5 L1230.6 632.5 L1231.1 632.0 L1231.6 631.5 L1232.0 631.1 L1232.1 631.2 L1232.6 631.7 L1233.1 632.2 L1233.6 632.2 L1234.1 631.8 L1234.6 632.0 L1235.1 632.4 L1235.6 632.3 L1236.1 632.2 L1236.6 632.3 L1237.1 632.4 L1237.6 632.5 L1238.6 632.4 L1239.1 632.3 L1239.6 632.3 L1240.1 632.4 L1240.6 632.5 L1241.1 632.4 L1241.6 632.3 L1242.1 632.3 L1242.6 632.4 L1243.1 632.5 L1243.6 632.2 L1244.1 631.8 L1244.6 631.7 L1245.1 632.1 L1245.6 632.4 L1246.1 632.5 L1246.6 632.3 L1247.1 632.2 L1247.6 632.1 L1248.1 632.3 L1248.6 632.2 L1249.1 631.9 L1249.6 632.0 L1250.1 632.2 L1250.6 632.5 L1252.6 632.5 L1253.1 632.3 L1253.6 632.1 L1254.1 631.9 L1254.6 632.0 L1255.1 632.2 L1255.6 632.2 L1256.1 632.1 L1256.6 632.2 L1257.1 632.4 L1257.6 632.4 L1258.1 632.3 L1258.6 632.4 L1259.1 632.5 L1262.6 632.5 L1263.1 632.2 L1263.6 632.0 L1264.1 631.8 L1264.6 632.1 L1265.1 632.3 L1265.6 632.0 L1266.1 631.8 L1266.6 632.1 L1267.1 632.5 L1267.6 632.3 L1268.1 631.8 L1268.6 631.8 L1269.1 632.3 L1269.6 632.5 L1270.1 632.5 L1270.6 632.4 L1271.1 632.1 L1271.6 631.8 L1272.1 632.1 L1272.6 632.4 L1273.1 632.5 L1273.6 632.2 L1274.1 631.9 L1274.6 630.9 L1275.1 628.9 L1275.6 627.0 L1275.8 626.2 L1276.1 627.4 L1276.6 629.3 L1277.1 631.3 L1277.6 632.2 L1278.1 629.9 L1278.6 616.8 L1279.1 603.7 L1279.4 595.9 L1279.6 601.1 L1280.1 614.2 L1280.6 592.5 L1281.1 564.0 L1281.3 552.6 L1281.6 569.7 L1282.1 598.2 L1282.6 625.0 L1283.1 622.5 L1283.3 621.5 L1283.6 623.0 L1284.1 625.5 L1284.6 628.0 L1285.1 630.5 L1285.6 632.4 L1288.6 632.5 L1289.1 632.3 L1289.6 632.1 L1290.1 632.2 L1290.6 632.4 L1291.1 632.2 L1291.6 632.0 L1292.1 631.8 L1292.6 632.0 L1293.1 632.2 L1293.6 632.3 L1294.1 632.0 L1294.6 631.7 L1295.1 632.1 L1295.6 632.4 L1296.1 632.5 L1298.1 632.5 L1298.6 632.4 L1299.1 632.2 L1299.6 632.3 L1300.1 632.4 L1300.6 632.3 L1301.1 632.0 L1301.6 631.8 L1302.1 632.1 L1302.6 632.3 L1303.1 632.2 L1303.6 632.3 L1304.1 632.1 L1304.6 632.3 L1305.1 632.1 L1305.6 631.7 L1306.1 631.8 L1306.6 632.2 L1307.1 632.2 L1307.6 632.3 L1308.1 632.3 L1308.6 631.9 L1309.1 631.6 L1309.6 631.8 L1310.1 632.1 L1310.6 632.5 L1314.1 632.4 L1314.6 632.2 L1315.1 631.9 L1315.6 631.9 L1316.1 632.2 L1316.6 632.4 L1317.1 632.3 L1317.6 632.2 L1318.1 632.3 L1318.6 632.4 L1319.1 631.8 L1319.6 630.7 L1320.1 629.6 L1320.2 629.4 L1320.6 630.3 L1321.1 631.4 L1321.6 632.4 L1322.1 632.5 L1322.6 632.5 L1323.1 632.4 L1323.6 632.2 L1324.1 632.0 L1324.6 632.1 L1325.1 632.3 L1325.6 632.4 L1326.1 632.4 L1326.6 632.3 L1327.1 632.3 L1327.6 632.4 L1328.1 632.3 L1328.6 632.4 L1329.1 632.4 L1369.1 632.5 L1369.60 632.48 Z" fill="#b90ab4"/>
<path d="M351.60 754.00 L351.6 754.0 L398.6 754.0 L399.1 753.9 L399.6 753.6 L400.1 753.4 L400.6 753.7 L401.1 754.0 L401.6 754.0 L402.1 753.9 L402.6 753.5 L403.1 753.3 L403.6 753.7 L404.1 754.0 L405.1 754.0 L405.6 753.9 L406.1 753.9 L406.6 754.0 L407.1 753.9 L407.6 753.6 L408.1 753.7 L408.6 754.0 L409.1 752.6 L409.6 750.4 L410.1 748.1 L410.2 747.7 L410.6 749.5 L411.1 751.8 L411.6 754.0 L412.1 753.9 L412.6 753.8 L413.1 753.9 L413.6 754.0 L414.6 754.0 L415.1 753.7 L415.6 753.4 L416.1 753.6 L416.6 753.9 L417.1 754.0 L417.6 754.0 L418.1 753.9 L418.6 753.8 L419.1 753.6 L419.6 753.7 L420.1 753.8 L420.6 754.0 L421.1 754.0 L421.6 753.9 L422.1 753.7 L422.6 753.8 L423.1 754.0 L424.1 754.0 L424.6 753.8 L425.1 753.5 L425.6 753.2 L426.1 753.6 L426.6 753.5 L427.1 753.5 L427.6 753.7 L428.1 753.9 L428.6 753.9 L429.1 753.7 L429.6 753.4 L430.1 753.3 L430.6 753.5 L431.1 753.8 L431.6 754.0 L432.1 753.9 L432.6 753.8 L433.1 753.8 L433.6 753.9 L434.1 753.9 L434.6 753.7 L435.1 753.5 L435.6 753.7 L436.1 753.9 L436.6 754.0 L437.1 754.0 L437.6 753.8 L438.1 753.7 L438.6 753.8 L439.1 753.4 L439.6 750.4 L440.1 747.5 L440.3 746.3 L440.6 748.1 L441.1 751.0 L441.6 753.4 L442.1 753.6 L442.6 753.8 L443.1 754.0 L445.1 754.0 L445.6 753.9 L446.1 753.9 L446.6 753.9 L447.1 753.8 L447.6 753.8 L448.1 753.9 L448.6 754.0 L449.1 754.0 L449.6 753.8 L450.1 753.5 L450.6 753.3 L451.1 753.6 L451.6 753.9 L452.1 754.0 L453.6 754.0 L454.1 753.9 L454.6 753.9 L455.1 753.9 L455.6 753.9 L456.1 753.8 L456.6 753.7 L457.1 753.7 L457.6 753.8 L458.1 753.9 L458.6 754.0 L460.1 754.0 L460.6 753.8 L461.1 753.4 L461.6 753.4 L462.1 753.8 L462.6 753.5 L463.1 753.4 L463.6 753.7 L464.1 753.5 L464.6 753.6 L465.1 753.8 L465.6 754.0 L467.6 754.0 L468.1 753.9 L468.6 753.9 L469.1 754.0 L470.6 754.0 L471.1 753.9 L471.6 753.9 L472.1 753.9 L472.6 753.8 L473.1 753.6 L473.6 753.6 L474.1 753.7 L474.6 753.7 L475.1 753.7 L475.6 753.9 L476.1 754.0 L476.6 754.0 L477.1 753.9 L477.6 753.8 L478.1 753.7 L478.6 753.8 L479.1 753.9 L479.6 754.0 L480.1 754.0 L480.6 753.8 L481.1 753.7 L481.6 753.8 L482.1 753.9 L482.6 754.0 L484.1 754.0 L484.6 753.9 L485.1 753.7 L485.6 752.9 L486.1 751.8 L486.5 750.9 L486.6 751.1 L487.1 752.2 L487.6 753.3 L488.1 753.4 L488.6 753.6 L489.1 753.9 L489.6 754.0 L490.1 753.9 L490.6 753.7 L491.1 753.7 L491.6 753.9 L492.1 754.0 L492.6 753.9 L493.1 754.0 L493.6 754.0 L494.1 753.7 L494.6 753.4 L495.1 753.7 L495.6 754.0 L497.6 754.0 L498.1 753.8 L498.6 753.6 L499.1 753.4 L499.6 753.6 L500.1 753.6 L500.6 753.7 L501.1 753.8 L501.6 753.6 L502.1 753.3 L502.6 753.5 L503.1 753.8 L503.6 753.6 L504.1 753.5 L504.6 753.7 L505.1 754.0 L505.6 753.9 L506.1 753.7 L506.6 753.7 L507.1 753.4 L507.6 753.6 L508.1 753.9 L508.6 754.0 L512.1 754.0 L512.6 753.9 L513.1 753.7 L513.6 742.8 L514.1 731.5 L514.6 720.3 L515.1 731.5 L515.6 742.8 L516.1 748.8 L516.6 744.5 L517.0 741.0 L517.1 741.9 L517.6 746.2 L518.1 748.1 L518.6 738.2 L519.1 728.3 L519.3 724.4 L519.6 730.3 L520.1 740.2 L520.6 749.8 L521.1 748.5 L521.2 748.2 L521.6 749.3 L522.1 750.6 L522.6 751.9 L523.1 753.2 L523.6 753.9 L524.1 753.8 L524.6 753.8 L525.1 753.7 L525.6 753.2 L526.1 752.6 L526.6 752.1 L526.8 751.9 L527.1 752.2 L527.6 752.7 L528.1 753.3 L528.6 753.8 L529.1 754.0 L532.1 754.0 L532.6 753.8 L533.1 753.6 L533.6 753.7 L534.1 753.8 L534.6 753.9 L535.1 753.8 L535.6 753.8 L536.1 753.9 L536.6 753.9 L537.1 753.8 L537.6 753.9 L538.1 754.0 L538.6 753.8 L539.1 753.3 L539.6 752.7 L539.9 752.4 L540.1 752.6 L540.6 753.2 L541.1 753.8 L541.6 754.0 L542.1 754.0 L542.6 753.9 L543.1 753.9 L543.6 754.0 L544.1 753.9 L544.6 753.9 L545.1 753.9 L545.6 753.9 L546.1 753.8 L546.6 753.8 L547.1 753.9 L547.6 753.9 L548.1 753.8 L548.6 753.8 L549.1 753.9 L549.6 753.9 L550.1 753.9 L550.6 753.9 L551.1 753.9 L551.6 754.0 L552.6 754.0 L553.1 753.9 L553.6 753.9 L554.1 753.8 L554.6 753.9 L555.1 754.0 L555.6 753.9 L556.1 753.9 L556.6 753.9 L557.1 754.0 L557.6 753.8 L558.1 753.6 L558.6 753.8 L559.1 754.0 L560.6 754.0 L561.1 753.9 L561.6 753.7 L562.1 753.8 L562.6 753.4 L563.1 753.4 L563.6 753.7 L564.1 753.9 L564.6 753.9 L565.1 754.0 L565.6 753.8 L566.1 753.5 L566.6 753.3 L567.1 753.4 L567.6 753.6 L568.1 753.6 L568.6 753.6 L569.1 753.8 L569.6 754.0 L570.1 754.0 L570.6 753.0 L571.1 738.5 L571.6 723.1 L572.1 707.6 L572.2 704.5 L572.6 716.9 L573.1 732.3 L573.4 739.7 L573.6 740.7 L574.1 743.0 L574.6 745.4 L575.1 747.8 L575.6 750.2 L576.1 752.6 L576.6 754.0 L577.1 753.8 L577.6 753.6 L578.1 753.5 L578.6 753.7 L579.1 754.0 L579.6 754.0 L580.1 753.9 L580.6 754.0 L581.1 754.0 L581.6 753.9 L582.1 753.7 L582.6 753.7 L583.1 753.8 L583.6 753.7 L584.1 753.5 L584.6 753.5 L585.1 753.8 L585.6 753.9 L586.1 753.8 L586.6 753.8 L587.1 753.9 L587.6 753.9 L588.1 753.7 L588.6 753.6 L589.1 753.6 L589.6 753.8 L590.1 753.8 L590.6 753.5 L591.1 753.8 L591.6 754.0 L592.1 753.9 L592.6 753.8 L593.1 753.8 L593.6 753.8 L594.1 753.5 L594.6 753.6 L595.1 753.9 L595.6 754.0 L599.1 754.0 L599.6 753.9 L600.1 754.0 L600.6 754.0 L601.1 753.9 L601.6 754.0 L602.1 754.0 L602.6 753.9 L603.1 753.6 L603.6 753.4 L604.1 753.5 L604.6 753.8 L605.1 753.7 L605.6 753.5 L606.1 753.8 L606.6 754.0 L607.1 754.0 L607.6 753.8 L608.1 753.7 L608.6 753.9 L609.1 753.9 L609.6 753.7 L610.1 753.8 L610.6 753.7 L611.1 753.7 L611.6 753.8 L612.1 753.9 L612.6 753.7 L613.1 753.4 L613.6 753.3 L614.1 753.7 L614.6 753.9 L615.1 754.0 L616.1 754.0 L616.6 753.9 L617.1 753.7 L617.6 753.5 L618.1 753.5 L618.6 753.7 L619.1 753.9 L619.6 753.8 L620.1 753.6 L620.6 753.6 L621.1 753.8 L621.6 753.7 L622.1 753.8 L622.6 754.0 L623.6 754.0 L624.1 753.8 L624.6 753.5 L625.1 753.6 L625.6 753.9 L626.1 753.9 L626.6 753.7 L627.1 753.5 L627.6 753.3 L628.1 753.5 L628.6 753.8 L629.1 753.7 L629.6 753.4 L630.1 753.7 L630.6 754.0 L631.6 754.0 L632.1 753.9 L632.6 753.8 L633.1 753.7 L633.6 753.8 L634.1 753.9 L634.6 754.0 L636.1 754.0 L636.6 753.8 L637.1 753.6 L637.6 753.6 L638.1 753.8 L638.6 753.9 L639.1 754.0 L640.6 754.0 L641.1 753.8 L641.6 753.6 L642.1 753.5 L642.6 753.7 L643.1 753.8 L643.6 753.9 L644.1 754.0 L644.6 754.0 L645.1 753.9 L645.6 753.6 L646.1 753.3 L646.6 753.5 L647.1 753.8 L647.6 754.0 L648.1 753.8 L648.6 753.7 L649.1 753.6 L649.6 753.8 L650.1 754.0 L650.6 753.9 L651.1 753.5 L651.6 753.1 L651.8 753.0 L652.1 753.2 L652.6 753.6 L653.1 753.9 L653.6 753.7 L654.1 753.6 L654.6 753.6 L655.1 753.5 L655.6 753.3 L656.1 753.6 L656.6 753.8 L657.1 753.6 L657.6 753.6 L658.1 753.7 L658.6 753.8 L659.1 753.8 L659.6 753.9 L660.1 754.0 L661.1 754.0 L661.6 753.9 L662.1 753.8 L662.6 753.9 L663.1 754.0 L664.6 754.0 L665.1 753.9 L665.6 754.0 L666.1 753.9 L666.6 754.0 L667.1 754.0 L667.6 753.8 L668.1 753.6 L668.6 753.6 L669.1 753.8 L669.6 753.9 L670.1 753.8 L670.6 753.9 L671.1 754.0 L672.6 754.0 L673.1 753.9 L673.6 753.7 L674.1 753.5 L674.6 753.5 L675.1 753.8 L675.6 753.6 L676.1 753.6 L676.6 753.8 L677.1 754.0 L677.6 754.0 L678.1 753.9 L678.6 753.7 L679.1 753.7 L679.6 753.7 L680.1 753.4 L680.6 753.5 L681.1 753.8 L681.6 754.0 L682.1 753.9 L682.6 753.9 L683.1 753.9 L683.6 754.0 L684.1 754.0 L684.6 753.9 L685.1 753.9 L685.6 754.0 L686.1 753.9 L686.6 753.7 L687.1 753.5 L687.6 753.5 L688.1 753.7 L688.6 752.2 L689.1 750.6 L689.5 749.4 L689.6 749.7 L690.1 751.1 L690.5 750.0 L690.6 750.3 L691.1 751.6 L691.6 752.9 L692.1 753.4 L692.6 753.7 L693.1 753.5 L693.6 753.7 L694.1 753.7 L694.6 753.5 L695.1 753.7 L695.6 753.9 L696.1 753.9 L696.6 753.7 L697.1 753.7 L697.6 753.9 L698.1 754.0 L698.6 754.0 L699.1 753.9 L699.6 753.9 L700.1 752.5 L700.6 751.1 L701.0 749.9 L701.1 750.2 L701.6 751.7 L702.1 753.1 L702.6 753.9 L703.1 753.9 L703.6 753.9 L704.1 753.8 L704.6 753.8 L705.1 753.9 L705.6 754.0 L708.1 754.0 L708.6 753.9 L709.1 753.9 L709.6 753.8 L710.1 753.9 L710.6 753.8 L711.1 753.8 L711.6 753.9 L712.1 754.0 L712.6 753.9 L713.1 753.8 L713.6 753.7 L714.1 753.7 L714.6 753.8 L715.1 753.9 L715.6 754.0 L716.1 753.8 L716.6 753.5 L717.1 753.3 L717.6 753.6 L718.1 753.8 L718.6 754.0 L721.6 754.0 L722.1 753.4 L722.6 751.8 L723.1 750.2 L723.5 749.0 L723.6 749.3 L724.1 750.9 L724.6 752.4 L725.1 753.8 L725.6 753.6 L726.1 753.8 L726.6 754.0 L727.6 754.0 L728.1 753.9 L728.6 753.4 L729.1 753.5 L729.6 754.0 L730.6 754.0 L731.1 753.8 L731.6 753.6 L732.1 753.3 L732.5 753.0 L732.6 753.1 L733.1 753.4 L733.6 753.8 L734.1 753.9 L734.6 753.9 L735.1 754.0 L735.6 753.8 L736.1 753.6 L736.6 753.8 L737.1 754.0 L738.1 754.0 L738.6 753.9 L739.1 753.9 L739.6 753.9 L740.1 753.9 L740.6 753.8 L741.1 753.9 L741.6 753.9 L742.1 753.7 L742.6 753.5 L743.1 753.7 L743.6 754.0 L744.6 754.0 L745.1 753.9 L745.6 753.8 L746.1 753.7 L746.6 753.8 L747.1 753.9 L747.6 753.8 L748.1 753.9 L748.6 754.0 L749.6 754.0 L750.1 753.7 L750.6 753.4 L751.1 753.4 L751.6 753.7 L752.1 754.0 L752.6 753.9 L753.1 753.9 L753.6 753.8 L754.1 753.5 L754.6 753.7 L755.1 754.0 L756.1 754.0 L756.6 753.9 L757.1 753.8 L757.6 753.9 L758.1 754.0 L759.6 754.0 L760.1 753.8 L760.6 753.6 L761.1 753.8 L761.6 753.9 L762.1 754.0 L763.1 754.0 L763.6 753.9 L764.1 753.9 L764.6 753.8 L765.1 753.8 L765.6 753.9 L766.1 754.0 L767.1 754.0 L767.6 753.8 L768.1 753.7 L768.6 753.8 L769.1 753.9 L769.6 753.8 L770.1 753.7 L770.6 753.6 L771.1 753.7 L771.6 753.9 L772.1 754.0 L772.6 754.0 L773.1 753.9 L773.6 753.8 L774.1 753.7 L774.6 753.8 L775.1 753.9 L775.6 753.9 L776.1 753.9 L776.6 754.0 L777.1 753.8 L777.6 753.6 L778.1 753.6 L778.6 753.8 L779.1 754.0 L779.6 754.0 L780.1 753.8 L780.6 753.7 L781.1 753.7 L781.6 753.6 L782.1 753.4 L782.6 753.7 L783.1 753.9 L783.6 754.0 L784.6 754.0 L785.1 753.9 L785.6 753.8 L786.1 753.9 L786.6 753.7 L787.1 753.6 L787.6 753.9 L788.1 753.9 L788.6 753.9 L789.1 753.9 L789.6 754.0 L790.1 754.0 L790.6 753.9 L791.1 753.8 L791.6 753.6 L792.1 753.7 L792.6 753.8 L793.1 753.7 L793.6 753.6 L794.1 753.7 L794.6 753.9 L795.1 754.0 L796.6 754.0 L797.1 753.9 L797.6 753.9 L798.1 754.0 L798.6 753.9 L799.1 753.6 L799.6 753.4 L800.1 753.5 L800.6 753.8 L801.1 753.9 L801.6 753.7 L802.1 753.9 L802.6 754.0 L804.6 754.0 L805.1 753.6 L805.6 753.3 L806.0 753.0 L806.1 753.1 L806.6 753.4 L807.1 753.8 L807.6 753.6 L808.1 753.7 L808.6 754.0 L809.1 754.0 L809.6 753.9 L810.1 753.9 L810.6 753.8 L811.1 753.8 L811.6 753.8 L812.1 753.8 L812.6 753.7 L813.1 753.4 L813.6 753.5 L814.1 753.8 L814.6 754.0 L816.6 754.0 L817.1 753.9 L817.6 753.7 L818.1 753.7 L818.6 753.9 L819.1 754.0 L820.6 754.0 L821.1 753.9 L821.6 754.0 L823.1 754.0 L823.6 753.8 L824.1 753.7 L824.6 753.9 L825.1 754.0 L825.6 753.9 L826.1 753.9 L826.6 753.9 L827.1 754.0 L827.6 754.0 L828.1 753.9 L828.6 753.7 L829.1 753.6 L829.6 753.9 L830.1 754.0 L830.6 754.0 L831.1 753.8 L831.6 753.6 L832.1 753.5 L832.6 753.7 L833.1 753.9 L833.6 753.7 L834.1 753.5 L834.6 753.8 L835.1 753.6 L835.6 753.4 L835.7 753.3 L836.1 753.5 L836.6 753.8 L837.1 754.0 L838.1 754.0 L838.6 753.9 L839.1 753.7 L839.6 753.8 L840.1 754.0 L841.6 754.0 L842.1 753.9 L842.6 753.7 L843.1 753.8 L843.6 753.9 L844.1 753.9 L844.6 753.9 L845.1 753.8 L845.6 753.5 L846.1 753.2 L846.6 753.5 L847.1 753.8 L847.6 754.0 L848.6 754.0 L849.1 753.9 L849.6 753.2 L850.1 752.3 L850.6 751.3 L850.8 750.9 L851.1 751.5 L851.6 752.5 L852.1 753.4 L852.6 754.0 L853.6 754.0 L854.1 753.8 L854.6 753.6 L855.1 753.4 L855.6 753.6 L856.1 753.8 L856.6 753.9 L857.1 753.8 L857.6 753.8 L858.1 753.9 L858.6 754.0 L859.6 754.0 L860.1 753.8 L860.6 753.8 L861.1 754.0 L861.6 753.6 L862.1 753.4 L862.6 753.8 L863.1 754.0 L863.6 753.9 L864.1 753.6 L864.6 753.4 L865.1 753.7 L865.6 754.0 L866.1 753.9 L866.6 753.7 L867.1 753.9 L867.6 754.0 L868.1 753.7 L868.6 753.4 L869.1 753.5 L869.6 753.7 L870.1 753.4 L870.6 753.5 L871.1 753.7 L871.6 753.9 L872.1 753.9 L872.6 753.7 L873.1 753.7 L873.6 753.9 L874.1 754.0 L874.6 753.9 L875.1 753.6 L875.6 753.7 L876.1 754.0 L876.6 754.0 L877.1 753.9 L877.6 753.9 L878.1 754.0 L880.6 754.0 L881.1 753.9 L881.6 753.9 L882.1 753.8 L882.6 753.9 L883.1 753.9 L883.6 753.9 L884.1 753.9 L884.6 754.0 L886.6 754.0 L887.1 753.9 L887.6 753.8 L888.1 753.6 L888.6 753.6 L889.1 753.8 L889.6 754.0 L890.1 754.0 L890.6 753.8 L891.1 753.6 L891.6 753.8 L892.1 754.0 L892.6 754.0 L893.1 753.9 L893.6 753.9 L894.1 754.0 L894.6 753.8 L895.1 753.7 L895.6 753.8 L896.1 753.7 L896.6 753.7 L897.1 753.5 L897.6 753.6 L898.1 753.8 L898.6 754.0 L899.1 754.0 L899.6 753.9 L900.1 753.9 L900.6 754.0 L901.1 753.9 L901.6 753.6 L902.1 753.6 L902.6 753.8 L903.1 753.9 L903.6 753.7 L904.1 753.8 L904.6 753.8 L905.1 753.8 L905.6 753.9 L906.1 754.0 L912.1 754.0 L912.6 753.5 L913.1 753.4 L913.6 753.8 L914.1 754.0 L914.6 753.9 L915.1 753.9 L915.6 754.0 L917.1 754.0 L917.6 753.9 L918.1 753.9 L918.6 753.9 L919.1 754.0 L920.1 754.0 L920.6 753.8 L921.1 753.7 L921.6 753.7 L922.1 753.6 L922.6 753.4 L923.1 753.4 L923.6 753.7 L924.1 753.9 L924.6 753.9 L925.1 753.9 L925.6 753.9 L926.1 753.9 L926.6 753.9 L927.1 754.0 L929.6 754.0 L930.1 753.8 L930.6 753.5 L931.1 753.8 L931.6 754.0 L932.1 754.0 L932.6 753.9 L933.1 753.8 L933.6 753.9 L934.1 754.0 L937.1 754.0 L937.6 753.8 L938.1 753.6 L938.6 753.8 L939.1 754.0 L939.6 753.9 L940.1 753.8 L940.6 753.6 L941.1 753.6 L941.6 753.8 L942.1 753.9 L942.6 754.0 L945.6 754.0 L946.1 753.7 L946.6 753.5 L947.1 753.8 L947.6 754.0 L948.1 753.9 L948.6 753.9 L949.1 753.9 L949.6 753.9 L950.1 754.0 L951.6 754.0 L952.1 753.9 L952.6 754.0 L953.1 753.8 L953.6 753.5 L954.1 753.5 L954.6 753.7 L955.1 754.0 L957.6 754.0 L958.1 753.9 L958.6 753.8 L959.1 753.8 L959.6 753.9 L960.1 753.9 L960.6 753.6 L961.1 753.4 L961.6 753.6 L962.1 753.9 L962.6 753.9 L963.1 753.9 L963.6 754.0 L968.6 754.0 L969.1 753.9 L969.6 753.7 L970.1 753.8 L970.6 753.6 L971.1 753.2 L971.6 753.7 L972.1 754.0 L973.1 754.0 L973.6 753.9 L974.1 753.8 L974.6 753.8 L975.1 753.7 L975.6 753.7 L976.1 753.9 L976.6 754.0 L977.1 753.8 L977.6 753.6 L978.1 753.4 L978.6 753.5 L979.1 753.7 L979.6 753.7 L980.1 753.5 L980.6 753.5 L981.1 753.7 L981.6 753.9 L982.1 753.8 L982.6 753.9 L983.1 754.0 L984.6 754.0 L985.1 753.9 L985.6 753.8 L986.1 753.8 L986.6 753.9 L987.1 753.9 L987.6 753.6 L988.1 753.4 L988.6 753.4 L989.1 753.6 L989.6 753.9 L990.1 753.9 L990.6 753.9 L991.1 753.7 L991.6 753.5 L992.1 753.4 L992.6 753.6 L993.1 753.8 L993.6 754.0 L994.1 753.9 L994.6 753.8 L995.1 753.7 L995.6 753.9 L996.1 753.8 L996.6 753.6 L997.1 753.7 L997.6 753.9 L998.1 754.0 L1001.1 754.0 L1001.6 753.9 L1002.1 753.8 L1002.6 753.7 L1003.1 753.8 L1003.6 753.7 L1004.1 753.4 L1004.6 753.4 L1005.1 753.7 L1005.6 752.0 L1006.1 750.4 L1006.4 749.4 L1006.6 750.1 L1007.1 751.7 L1007.6 753.3 L1008.1 753.8 L1008.6 754.0 L1009.1 753.9 L1009.6 753.7 L1010.1 753.5 L1010.6 753.6 L1011.1 753.9 L1011.6 754.0 L1013.6 754.0 L1014.1 753.9 L1014.6 753.6 L1015.1 753.4 L1015.6 753.6 L1016.1 753.9 L1016.6 753.9 L1017.1 753.7 L1017.6 753.7 L1018.1 753.9 L1018.6 754.0 L1019.1 753.9 L1019.6 753.9 L1020.1 754.0 L1021.1 754.0 L1021.6 753.9 L1022.1 753.8 L1022.6 753.8 L1023.1 753.1 L1023.6 752.3 L1023.9 751.9 L1024.1 752.2 L1024.6 752.9 L1025.1 753.7 L1025.6 754.0 L1027.6 754.0 L1028.1 753.9 L1028.6 753.7 L1029.1 753.5 L1029.6 753.4 L1030.1 753.6 L1030.6 753.8 L1031.1 753.9 L1031.6 753.7 L1032.1 753.3 L1032.6 753.7 L1033.1 753.7 L1033.6 753.8 L1034.1 753.9 L1034.6 754.0 L1038.6 754.0 L1039.1 753.8 L1039.6 753.7 L1040.1 753.6 L1040.6 753.8 L1041.1 753.7 L1041.6 753.4 L1042.1 753.6 L1042.6 753.8 L1043.1 754.0 L1043.6 754.0 L1044.1 753.8 L1044.6 753.6 L1045.1 753.7 L1045.6 753.9 L1046.1 754.0 L1047.6 754.0 L1048.1 753.9 L1048.6 754.0 L1049.6 754.0 L1050.1 753.9 L1050.6 753.8 L1051.1 753.6 L1051.6 753.8 L1052.1 753.9 L1052.6 754.0 L1053.6 754.0 L1054.1 753.9 L1054.6 753.9 L1055.1 753.9 L1055.6 754.0 L1056.1 753.9 L1056.6 753.8 L1057.1 753.6 L1057.6 753.7 L1058.1 753.8 L1058.6 754.0 L1059.1 753.9 L1059.6 753.8 L1060.1 753.6 L1060.6 753.5 L1061.1 753.7 L1061.6 753.9 L1062.1 753.9 L1062.6 754.0 L1064.1 754.0 L1064.6 753.8 L1065.1 753.5 L1065.6 753.7 L1066.1 753.9 L1066.6 753.6 L1067.1 753.4 L1067.6 753.5 L1068.1 753.7 L1068.6 754.0 L1069.1 754.0 L1069.6 753.9 L1070.1 753.8 L1070.6 753.8 L1071.1 753.8 L1071.6 753.5 L1072.1 753.7 L1072.6 753.9 L1073.1 753.7 L1073.6 753.7 L1074.1 753.9 L1074.6 754.0 L1075.6 754.0 L1076.1 753.9 L1076.6 753.8 L1077.1 753.9 L1077.6 754.0 L1078.1 753.8 L1078.6 753.6 L1079.1 753.7 L1079.6 753.8 L1080.1 753.9 L1080.6 753.8 L1081.1 753.7 L1081.6 753.8 L1082.1 753.9 L1082.6 754.0 L1083.6 754.0 L1084.1 753.9 L1084.6 753.9 L1085.1 754.0 L1086.6 754.0 L1087.1 753.9 L1087.6 753.8 L1088.1 753.9 L1088.6 754.0 L1089.6 754.0 L1090.1 753.9 L1090.6 753.9 L1091.1 754.0 L1091.6 753.8 L1092.1 753.5 L1092.6 753.4 L1093.1 753.6 L1093.6 753.9 L1094.1 754.0 L1095.1 754.0 L1095.6 753.9 L1096.1 753.9 L1096.6 754.0 L1097.1 754.0 L1097.6 753.9 L1098.1 753.8 L1098.6 753.6 L1099.1 753.5 L1099.6 753.7 L1100.1 753.5 L1100.6 753.5 L1101.1 753.8 L1101.6 753.7 L1102.1 753.9 L1102.6 754.0 L1103.1 754.0 L1103.6 753.9 L1104.1 753.8 L1104.6 753.9 L1105.1 754.0 L1106.6 754.0 L1107.1 753.8 L1107.6 753.5 L1108.1 753.8 L1108.6 754.0 L1109.1 754.0 L1109.6 753.9 L1110.1 753.9 L1110.6 753.9 L1111.1 753.8 L1111.6 753.9 L1112.1 754.0 L1112.6 753.7 L1113.1 753.3 L1113.6 753.7 L1114.1 754.0 L1114.6 754.0 L1115.1 753.9 L1115.6 753.7 L1116.1 753.7 L1116.6 753.7 L1117.1 753.5 L1117.6 753.4 L1118.1 753.6 L1118.6 753.8 L1119.1 753.7 L1119.6 753.9 L1120.1 753.9 L1120.6 753.7 L1121.1 753.6 L1121.6 753.8 L1122.1 754.0 L1122.6 754.0 L1123.1 753.9 L1123.6 753.9 L1124.1 753.8 L1124.6 753.9 L1125.1 754.0 L1125.6 753.9 L1126.1 753.9 L1126.6 754.0 L1129.6 754.0 L1130.1 753.9 L1130.6 753.8 L1131.1 753.9 L1131.6 754.0 L1133.6 754.0 L1134.1 753.8 L1134.6 753.6 L1135.1 753.6 L1135.6 753.8 L1136.1 754.0 L1136.6 754.0 L1137.1 753.8 L1137.6 753.6 L1138.1 753.4 L1138.6 753.5 L1139.1 753.7 L1139.6 753.7 L1140.1 753.8 L1140.6 754.0 L1141.6 754.0 L1142.1 753.8 L1142.6 753.6 L1143.1 753.4 L1143.6 753.6 L1144.1 753.9 L1144.6 754.0 L1146.1 754.0 L1146.6 753.8 L1147.1 753.6 L1147.6 753.6 L1148.1 753.8 L1148.6 753.9 L1149.1 753.8 L1149.6 753.7 L1150.1 753.8 L1150.6 753.9 L1151.1 753.9 L1151.6 754.0 L1154.6 754.0 L1155.1 753.9 L1155.6 753.8 L1156.1 753.8 L1156.6 753.9 L1157.1 754.0 L1157.6 753.9 L1158.1 753.9 L1158.6 754.0 L1159.1 753.9 L1159.6 753.6 L1160.1 753.3 L1160.6 753.6 L1161.1 753.7 L1161.6 753.4 L1162.1 753.5 L1162.6 753.6 L1163.1 749.5 L1163.6 738.1 L1164.1 726.7 L1164.3 722.2 L1164.6 729.0 L1165.1 740.4 L1165.6 751.7 L1166.1 754.0 L1166.6 754.0 L1167.1 753.9 L1167.6 753.6 L1168.1 753.5 L1168.6 753.7 L1169.1 753.7 L1169.6 753.8 L1170.1 753.9 L1170.6 753.7 L1171.1 753.6 L1171.6 753.5 L1172.1 753.7 L1172.6 753.9 L1173.1 754.0 L1173.6 753.9 L1174.1 753.7 L1174.6 753.8 L1175.1 753.9 L1175.6 753.9 L1176.1 753.6 L1176.6 753.4 L1177.1 753.7 L1177.6 753.9 L1178.1 754.0 L1182.6 754.0 L1183.1 753.8 L1183.6 752.7 L1184.1 751.6 L1184.4 750.9 L1184.6 751.3 L1185.1 752.4 L1185.6 753.6 L1186.1 753.8 L1186.6 753.8 L1187.1 753.9 L1187.6 754.0 L1188.6 754.0 L1189.1 753.9 L1189.6 753.9 L1190.1 754.0 L1190.6 754.0 L1191.1 753.9 L1191.6 753.6 L1192.1 753.3 L1192.6 753.7 L1193.1 753.8 L1193.6 753.7 L1194.1 753.8 L1194.6 754.0 L1195.1 753.9 L1195.6 753.9 L1196.1 753.9 L1196.6 754.0 L1197.6 754.0 L1198.1 753.8 L1198.6 753.7 L1199.1 753.9 L1199.6 754.0 L1200.1 753.9 L1200.6 753.9 L1201.1 754.0 L1201.6 754.0 L1202.1 753.8 L1202.6 753.7 L1203.1 753.8 L1203.6 753.6 L1204.1 753.7 L1204.6 754.0 L1205.6 754.0 L1206.1 753.9 L1206.6 753.8 L1207.1 753.8 L1207.6 753.9 L1208.1 754.0 L1211.6 754.0 L1212.1 753.8 L1212.6 753.8 L1213.1 753.9 L1213.6 754.0 L1214.1 754.0 L1214.6 753.9 L1215.1 753.7 L1215.6 753.5 L1216.1 753.6 L1216.6 753.8 L1217.1 753.6 L1217.6 753.3 L1218.0 753.0 L1218.1 753.1 L1218.6 753.4 L1219.1 753.8 L1219.6 754.0 L1220.1 753.9 L1220.6 753.8 L1221.1 753.9 L1221.6 754.0 L1222.1 753.6 L1222.6 753.3 L1223.0 753.0 L1223.1 753.1 L1223.6 753.4 L1224.1 753.5 L1224.6 753.6 L1225.1 753.8 L1225.6 754.0 L1229.6 754.0 L1230.1 753.7 L1230.6 753.4 L1231.1 753.7 L1231.6 754.0 L1235.1 754.0 L1235.6 753.8 L1236.1 753.7 L1236.6 753.7 L1237.1 753.8 L1237.6 754.0 L1238.1 754.0 L1238.6 753.9 L1239.1 753.9 L1239.6 753.9 L1240.1 753.5 L1240.6 753.4 L1241.1 753.9 L1241.6 753.9 L1242.1 753.8 L1242.6 753.8 L1243.1 753.9 L1243.6 754.0 L1244.1 754.0 L1244.6 753.9 L1245.1 753.9 L1245.6 753.9 L1246.1 753.9 L1246.6 754.0 L1247.1 753.9 L1247.6 753.8 L1248.1 753.8 L1248.6 753.9 L1249.1 754.0 L1249.6 753.9 L1250.1 753.9 L1250.6 753.9 L1251.1 754.0 L1251.6 753.8 L1252.1 753.4 L1252.6 753.8 L1253.1 754.0 L1253.6 754.0 L1254.1 753.9 L1254.6 753.8 L1255.1 753.9 L1255.6 754.0 L1256.6 754.0 L1257.1 753.9 L1257.6 753.9 L1258.1 754.0 L1258.6 753.7 L1259.1 753.5 L1259.6 753.8 L1260.1 753.7 L1260.6 753.6 L1261.1 753.5 L1261.6 753.7 L1262.1 753.9 L1262.6 754.0 L1263.1 753.9 L1263.6 753.8 L1264.1 753.9 L1264.6 753.7 L1265.1 753.4 L1265.6 753.8 L1266.1 754.0 L1267.1 754.0 L1267.6 753.9 L1268.1 753.7 L1268.6 753.8 L1269.1 754.0 L1269.6 753.8 L1270.1 753.7 L1270.6 753.9 L1271.1 754.0 L1271.6 754.0 L1272.1 753.7 L1272.6 753.7 L1273.1 754.0 L1274.1 754.0 L1274.6 752.8 L1275.1 749.9 L1275.6 747.0 L1275.8 745.8 L1276.1 747.6 L1276.6 750.2 L1277.1 749.0 L1277.5 748.0 L1277.6 748.2 L1278.1 749.4 L1278.6 746.3 L1279.1 739.9 L1279.4 736.1 L1279.6 738.7 L1280.1 745.0 L1280.6 735.7 L1281.1 722.6 L1281.3 717.4 L1281.6 725.2 L1282.1 738.3 L1282.6 747.6 L1283.1 745.5 L1283.3 744.6 L1283.6 745.9 L1284.1 748.0 L1284.6 750.2 L1285.1 752.3 L1285.6 754.0 L1287.1 754.0 L1287.6 753.9 L1288.1 753.8 L1288.6 753.9 L1289.1 754.0 L1289.6 754.0 L1290.1 753.9 L1290.6 753.6 L1291.1 753.4 L1291.6 753.5 L1292.1 753.8 L1292.6 754.0 L1293.6 754.0 L1294.1 753.8 L1294.6 753.6 L1295.1 753.6 L1295.6 753.8 L1296.1 753.6 L1296.6 753.5 L1297.1 753.7 L1297.6 753.7 L1298.1 753.6 L1298.6 753.8 L1299.1 753.9 L1299.6 753.8 L1300.1 753.9 L1300.6 754.0 L1301.1 754.0 L1301.6 753.9 L1302.1 753.8 L1302.6 753.9 L1303.1 753.9 L1303.6 753.7 L1304.1 753.4 L1304.6 753.5 L1305.1 753.7 L1305.6 753.9 L1306.1 754.0 L1309.1 754.0 L1309.6 753.9 L1310.1 754.0 L1311.1 754.0 L1311.6 753.9 L1312.1 753.7 L1312.6 753.6 L1313.1 753.9 L1313.6 754.0 L1314.1 754.0 L1314.6 753.9 L1315.1 753.9 L1315.6 753.8 L1316.1 753.5 L1316.6 753.3 L1317.1 753.6 L1317.6 753.8 L1318.1 754.0 L1318.6 754.0 L1319.1 753.3 L1319.6 752.1 L1320.1 750.8 L1320.2 750.6 L1320.6 751.6 L1321.1 751.3 L1321.6 748.0 L1322.1 744.6 L1322.6 744.8 L1323.1 733.4 L1323.3 728.8 L1323.6 735.7 L1324.1 747.1 L1324.6 753.8 L1325.1 754.0 L1325.6 754.0 L1326.1 753.8 L1326.6 753.7 L1327.1 753.9 L1327.6 754.0 L1328.1 753.9 L1328.6 753.9 L1329.1 753.9 L1329.6 753.9 L1330.1 754.0 L1369.1 754.0 L1369.60 754.00 Z" fill="#460a6e"/>
<path d="M351.60 875.52 L351.6 875.5 L396.1 875.5 L396.6 875.4 L397.1 875.1 L397.6 874.8 L398.1 874.6 L398.6 874.5 L399.1 874.1 L399.6 874.6 L400.1 873.7 L400.5 873.0 L400.6 873.2 L401.1 874.1 L401.6 874.1 L402.1 874.6 L402.6 875.3 L403.1 875.1 L403.6 874.8 L404.1 874.2 L404.6 873.5 L405.1 874.2 L405.6 874.9 L406.1 874.8 L406.6 874.1 L407.0 873.5 L407.1 873.7 L407.6 874.4 L408.1 875.1 L408.6 875.3 L409.1 874.2 L409.6 872.0 L410.1 869.8 L410.2 869.3 L410.6 871.1 L411.1 873.3 L411.6 872.0 L412.1 869.8 L412.2 869.3 L412.6 871.1 L413.1 873.3 L413.6 872.2 L414.1 873.4 L414.6 874.6 L415.1 875.5 L415.6 875.3 L416.1 875.1 L416.6 875.2 L417.1 875.3 L417.6 875.5 L418.1 875.0 L418.6 874.4 L419.0 874.0 L419.1 874.1 L419.6 874.7 L420.1 875.2 L420.6 875.5 L421.1 875.0 L421.6 874.4 L422.0 874.0 L422.1 874.1 L422.6 874.7 L423.1 875.2 L423.6 875.2 L424.1 874.8 L424.6 874.4 L425.1 874.6 L425.6 875.0 L426.1 875.4 L426.6 875.3 L427.1 874.7 L427.6 874.1 L428.1 874.6 L428.6 874.4 L429.0 873.9 L429.1 874.0 L429.6 874.6 L430.1 875.2 L430.6 875.3 L431.1 875.1 L431.6 875.0 L432.1 875.3 L432.6 875.5 L433.1 875.1 L433.6 874.6 L434.1 874.3 L434.6 874.6 L435.1 873.7 L435.5 873.0 L435.6 873.2 L436.1 874.1 L436.6 875.0 L437.1 875.5 L438.6 875.5 L439.1 875.0 L439.6 872.1 L440.1 869.3 L440.3 868.1 L440.6 869.8 L441.1 872.7 L441.6 874.3 L442.1 873.4 L442.3 873.0 L442.6 873.6 L443.1 874.4 L443.6 875.0 L444.1 874.6 L444.6 874.5 L445.1 874.9 L445.6 875.3 L446.1 875.4 L446.6 875.5 L447.1 874.8 L447.6 874.1 L448.0 873.5 L448.1 873.7 L448.6 874.4 L449.1 875.1 L449.6 875.5 L450.1 875.5 L450.6 875.4 L451.1 874.8 L451.6 874.1 L452.0 873.5 L452.1 873.7 L452.6 874.4 L453.1 874.8 L453.6 874.1 L454.0 873.5 L454.1 873.7 L454.6 874.4 L455.1 875.1 L455.6 875.2 L456.1 875.3 L456.6 875.3 L457.1 875.4 L457.6 875.5 L459.1 875.5 L459.6 875.2 L460.1 875.0 L460.6 875.2 L461.1 875.2 L461.6 874.8 L462.1 874.4 L462.6 873.4 L463.0 872.5 L463.1 872.7 L463.6 873.8 L464.1 874.9 L464.6 875.5 L465.1 875.0 L465.6 874.4 L466.1 874.8 L466.6 875.3 L467.1 875.5 L467.6 875.2 L468.1 874.8 L468.6 874.1 L469.0 873.5 L469.1 873.7 L469.6 874.4 L470.1 875.1 L470.6 874.7 L471.1 873.9 L471.4 873.5 L471.6 873.8 L472.1 874.5 L472.6 874.9 L473.1 875.2 L473.6 875.5 L474.1 875.5 L474.6 875.3 L475.1 875.2 L475.6 875.4 L476.1 875.4 L476.6 874.8 L477.1 874.1 L477.5 873.5 L477.6 873.7 L478.1 874.4 L478.6 874.7 L479.1 875.1 L479.6 875.1 L480.1 874.9 L480.6 874.9 L481.1 875.2 L481.6 874.5 L482.1 873.8 L482.3 873.5 L482.6 873.9 L483.1 874.7 L483.6 874.5 L484.1 874.4 L484.6 875.0 L485.1 875.4 L485.6 874.7 L486.1 874.1 L486.5 873.5 L486.6 873.7 L487.1 874.4 L487.6 875.1 L488.1 875.4 L488.6 875.4 L489.1 875.3 L489.6 875.4 L490.1 875.5 L490.6 875.5 L491.1 875.5 L491.6 875.2 L492.1 874.7 L492.6 874.5 L493.1 875.1 L493.6 875.5 L494.1 875.5 L494.6 875.1 L495.1 874.4 L495.6 873.7 L495.7 873.5 L496.1 874.1 L496.6 874.8 L497.1 875.5 L498.1 875.5 L498.6 875.4 L499.1 875.2 L499.6 875.0 L500.1 874.9 L500.6 875.2 L501.1 875.4 L501.6 875.5 L502.1 875.4 L502.6 875.1 L503.1 874.9 L503.6 875.0 L504.1 875.3 L504.6 875.4 L505.1 874.9 L505.6 874.9 L506.1 875.4 L506.6 875.5 L507.1 875.4 L507.6 875.4 L508.1 875.4 L508.6 875.4 L509.1 875.4 L509.6 875.5 L510.6 875.5 L511.1 875.2 L511.6 875.0 L512.1 874.8 L512.6 875.1 L513.1 875.2 L513.6 866.5 L514.1 855.1 L514.6 843.8 L515.1 855.1 L515.6 866.5 L516.1 872.0 L516.6 869.5 L517.0 867.5 L517.1 868.0 L517.6 870.5 L518.1 870.3 L518.6 861.5 L519.1 852.7 L519.3 849.2 L519.6 854.5 L520.1 863.2 L520.6 872.0 L521.1 871.2 L521.2 871.0 L521.6 871.9 L522.1 873.0 L522.6 874.2 L523.1 875.2 L523.6 875.4 L524.1 875.5 L524.6 875.2 L525.1 874.9 L525.6 874.8 L526.1 875.1 L526.6 875.2 L527.1 875.0 L527.6 875.3 L528.1 875.5 L528.6 875.5 L529.1 875.2 L529.6 874.8 L530.1 874.4 L530.6 874.4 L531.1 874.8 L531.6 875.2 L532.1 875.4 L532.6 875.5 L533.1 875.0 L533.6 874.5 L534.1 874.5 L534.6 875.0 L535.1 875.4 L535.6 875.4 L536.1 875.3 L536.6 875.1 L537.1 875.3 L537.6 875.4 L538.1 875.4 L538.6 875.3 L539.1 875.3 L539.6 875.4 L540.1 875.5 L541.6 875.5 L542.1 875.3 L542.6 875.1 L543.1 875.1 L543.6 875.4 L544.1 875.5 L545.1 875.5 L545.6 875.3 L546.1 875.0 L546.6 875.3 L547.1 875.5 L547.6 875.3 L548.1 875.1 L548.6 875.1 L549.1 875.3 L549.6 875.4 L550.1 875.0 L550.6 875.2 L551.1 875.5 L551.6 875.4 L552.1 874.9 L552.6 874.5 L553.1 874.4 L553.6 874.9 L554.1 875.4 L554.6 875.5 L555.1 875.1 L555.6 874.5 L556.1 874.1 L556.6 874.8 L557.1 875.4 L557.6 875.0 L558.1 874.6 L558.6 875.1 L559.1 875.4 L559.6 875.0 L560.1 875.0 L560.6 875.5 L561.6 875.5 L562.1 875.4 L562.6 874.8 L563.1 874.3 L563.6 874.5 L564.1 875.1 L564.6 875.5 L565.1 875.4 L565.6 875.3 L566.1 875.3 L566.6 875.3 L567.1 875.2 L567.6 875.4 L568.1 875.2 L568.6 874.9 L569.1 873.9 L569.6 872.7 L569.8 872.2 L570.1 872.9 L570.6 874.1 L571.1 874.0 L571.6 871.6 L572.1 869.1 L572.2 868.6 L572.6 870.6 L573.1 873.1 L573.6 874.2 L574.1 872.6 L574.6 871.0 L575.1 872.6 L575.6 874.2 L576.1 875.5 L576.6 875.4 L577.1 875.4 L577.6 875.5 L578.1 875.5 L578.6 875.1 L579.1 874.9 L579.6 875.3 L580.1 875.5 L580.6 875.3 L581.1 875.1 L581.6 874.8 L582.1 872.4 L582.6 867.1 L583.1 861.8 L583.6 867.1 L584.1 872.4 L584.6 875.3 L585.1 875.2 L585.6 875.3 L586.1 875.2 L586.6 874.3 L587.1 874.4 L587.6 875.3 L588.1 875.1 L588.6 874.4 L589.1 873.7 L589.2 873.5 L589.6 874.1 L590.1 874.8 L590.6 875.4 L591.1 875.2 L591.6 874.9 L592.1 875.2 L592.6 875.5 L593.1 875.5 L593.6 875.2 L594.1 874.9 L594.6 874.9 L595.1 875.2 L595.6 875.4 L596.1 875.4 L596.6 875.4 L597.1 875.5 L598.6 875.5 L599.1 875.2 L599.6 875.0 L600.1 875.2 L600.6 875.0 L601.1 875.1 L601.6 875.3 L602.1 875.5 L602.6 875.5 L603.1 874.8 L603.6 874.7 L604.1 875.3 L604.6 875.5 L605.1 875.4 L605.6 875.3 L606.1 875.4 L606.6 875.5 L607.6 875.5 L608.1 875.2 L608.6 874.6 L609.1 874.5 L609.6 875.1 L610.1 875.5 L611.1 875.5 L611.6 875.4 L612.1 875.4 L612.6 875.4 L613.1 875.4 L613.6 875.3 L614.1 875.2 L614.6 875.1 L615.1 875.2 L615.6 875.4 L616.1 875.5 L616.6 875.2 L617.1 874.9 L617.6 874.7 L618.1 875.0 L618.6 875.4 L619.1 875.2 L619.6 874.8 L620.1 874.3 L620.6 874.8 L621.1 875.2 L621.6 875.0 L622.1 874.9 L622.6 875.2 L623.1 875.5 L624.6 875.5 L625.1 875.2 L625.6 875.0 L626.1 875.3 L626.6 875.4 L627.1 874.9 L627.6 874.4 L628.1 874.4 L628.6 874.9 L629.1 875.4 L629.6 875.5 L630.1 875.2 L630.6 874.9 L631.1 875.3 L631.6 875.5 L632.1 875.5 L633.1 875.5 L633.6 875.1 L634.1 874.6 L634.6 874.1 L635.1 874.5 L635.6 875.1 L636.1 875.5 L636.6 875.5 L637.1 875.4 L637.6 875.4 L638.1 875.5 L639.1 875.5 L639.6 875.4 L640.1 875.4 L640.6 875.3 L641.1 875.4 L641.6 875.5 L644.1 875.5 L644.6 875.3 L645.1 875.1 L645.6 875.0 L646.1 875.2 L646.6 875.5 L647.1 875.4 L647.6 875.1 L648.1 874.8 L648.6 874.7 L649.1 875.0 L649.6 875.3 L650.1 875.3 L650.6 874.9 L651.1 874.5 L651.6 874.6 L652.1 875.0 L652.6 875.3 L653.1 875.1 L653.6 875.0 L654.1 875.2 L654.6 875.5 L655.1 875.5 L655.6 875.5 L656.1 875.2 L656.6 874.7 L657.1 874.1 L657.2 874.0 L657.6 874.4 L658.1 875.0 L658.6 875.0 L659.1 875.2 L659.6 875.4 L660.1 875.5 L660.6 875.5 L661.1 875.0 L661.6 874.4 L662.0 874.0 L662.1 874.1 L662.6 874.7 L663.1 875.2 L663.6 874.9 L664.1 874.8 L664.6 875.3 L665.1 874.9 L665.6 874.7 L666.1 875.2 L666.6 875.5 L669.1 875.5 L669.6 875.5 L670.1 875.4 L670.6 875.4 L671.1 875.5 L671.6 875.5 L672.6 875.5 L673.1 875.4 L673.6 875.4 L674.1 875.5 L674.6 875.5 L675.1 875.3 L675.6 875.1 L676.1 875.3 L676.6 875.3 L677.1 874.8 L677.6 874.2 L677.8 874.0 L678.1 874.3 L678.6 874.9 L679.1 875.4 L679.6 875.1 L680.1 874.9 L680.6 875.0 L681.1 875.3 L681.6 875.5 L682.1 875.5 L682.6 875.5 L683.6 875.5 L684.1 874.6 L684.6 873.4 L685.1 872.2 L685.6 873.4 L686.1 874.6 L686.6 875.5 L687.1 875.5 L687.6 875.0 L688.1 873.9 L688.6 872.7 L688.8 872.2 L689.1 872.9 L689.6 874.1 L690.0 873.5 L690.1 873.7 L690.6 874.4 L691.1 875.1 L691.6 875.4 L692.1 875.5 L692.6 875.0 L693.1 874.6 L693.6 875.1 L694.1 875.5 L694.6 875.5 L695.1 875.2 L695.6 875.0 L696.1 875.3 L696.6 875.1 L697.1 874.5 L697.6 874.0 L698.1 874.6 L698.6 875.2 L699.1 875.5 L700.6 875.5 L701.1 875.0 L701.6 874.4 L702.0 874.0 L702.1 874.1 L702.6 874.7 L703.1 875.2 L703.6 875.4 L704.1 875.3 L704.6 875.4 L705.1 875.5 L705.6 875.5 L706.1 875.4 L706.6 875.1 L707.1 874.8 L707.6 874.5 L708.1 874.8 L708.6 875.1 L709.1 875.5 L709.6 875.4 L710.1 875.3 L710.6 875.4 L711.1 875.5 L712.1 875.5 L712.6 875.2 L713.1 874.6 L713.6 873.7 L714.0 873.0 L714.1 873.2 L714.6 874.1 L715.1 875.0 L715.6 875.0 L716.1 875.1 L716.6 875.5 L717.1 874.2 L717.6 872.8 L718.0 871.7 L718.1 872.0 L718.6 873.3 L719.1 874.7 L719.6 875.5 L720.1 874.6 L720.6 873.7 L721.0 873.0 L721.1 873.2 L721.6 874.1 L722.1 874.6 L722.6 873.7 L723.0 873.0 L723.1 873.2 L723.6 874.1 L724.1 875.0 L724.6 875.5 L725.1 875.5 L725.6 875.4 L726.1 875.4 L726.6 875.4 L727.1 875.5 L728.1 875.5 L728.6 875.2 L729.1 874.5 L729.6 874.1 L730.1 874.8 L730.6 875.5 L731.1 875.5 L731.6 875.4 L732.1 874.8 L732.6 874.1 L733.0 873.5 L733.1 873.7 L733.6 874.4 L734.1 875.1 L734.6 875.5 L735.1 875.4 L735.6 875.4 L736.1 875.4 L736.6 875.5 L737.6 875.5 L738.1 875.5 L738.6 875.4 L739.1 875.4 L739.6 875.4 L740.1 875.5 L740.6 875.2 L741.1 874.7 L741.6 874.6 L742.1 875.1 L742.6 875.5 L743.1 875.5 L743.6 874.9 L744.1 874.2 L744.6 873.5 L745.1 874.2 L745.6 874.8 L746.1 874.4 L746.6 874.3 L747.1 874.7 L747.6 875.1 L748.1 875.5 L749.6 875.5 L750.1 875.2 L750.6 874.8 L751.1 874.4 L751.6 874.5 L752.1 874.9 L752.6 875.3 L753.1 875.2 L753.6 875.1 L754.1 875.2 L754.6 875.4 L755.1 875.5 L755.6 875.4 L756.1 875.1 L756.6 874.7 L757.1 874.9 L757.6 875.2 L758.1 875.0 L758.6 874.5 L759.1 874.8 L759.6 875.4 L760.1 875.5 L760.6 875.4 L761.1 874.8 L761.6 874.3 L762.1 874.9 L762.6 875.5 L763.6 875.5 L764.1 875.2 L764.6 874.9 L765.1 875.3 L765.6 875.5 L766.6 875.5 L767.1 875.2 L767.6 874.9 L768.1 874.9 L768.6 875.2 L769.1 875.5 L769.6 875.5 L770.1 875.3 L770.6 874.7 L771.1 874.2 L771.6 874.8 L772.1 875.4 L772.6 875.3 L773.1 874.9 L773.6 875.0 L774.1 875.3 L774.6 875.2 L775.1 875.3 L775.6 875.4 L776.1 875.5 L776.6 875.2 L777.1 874.8 L777.6 874.3 L778.1 874.4 L778.6 874.8 L779.1 875.3 L779.6 875.5 L780.1 875.5 L780.6 875.4 L781.1 875.5 L781.6 875.5 L782.1 875.4 L782.6 875.2 L783.1 875.1 L783.6 875.3 L784.1 875.5 L784.6 875.5 L785.1 875.0 L785.6 874.8 L786.0 874.5 L786.1 874.6 L786.6 874.9 L787.1 875.3 L787.6 875.5 L788.1 875.5 L788.6 875.2 L789.1 874.6 L789.6 874.8 L790.1 875.4 L790.6 875.5 L791.6 875.5 L792.1 875.0 L792.6 874.4 L793.0 874.0 L793.1 874.1 L793.6 874.7 L794.1 875.2 L794.6 875.5 L795.1 875.5 L795.6 875.4 L796.1 875.4 L796.6 875.5 L798.1 875.5 L798.6 875.5 L799.1 875.4 L799.6 875.5 L800.1 875.5 L800.6 875.1 L801.1 874.6 L801.6 874.2 L802.1 874.7 L802.6 875.1 L803.1 875.5 L803.6 875.4 L804.1 875.4 L804.6 875.3 L805.1 872.3 L805.6 868.2 L806.0 864.9 L806.1 865.7 L806.6 869.8 L807.1 873.9 L807.6 875.4 L808.1 875.3 L808.6 875.3 L809.1 875.3 L809.6 875.3 L810.1 875.2 L810.6 875.1 L811.1 875.3 L811.6 875.4 L812.1 875.3 L812.6 875.2 L813.1 875.0 L813.6 875.2 L814.1 874.7 L814.6 874.6 L815.1 875.0 L815.6 874.8 L816.0 874.5 L816.1 874.6 L816.6 874.9 L817.1 875.3 L817.6 875.5 L819.6 875.5 L820.1 875.4 L820.6 875.0 L821.1 874.8 L821.6 875.1 L822.1 875.5 L822.6 875.4 L823.1 875.4 L823.6 875.4 L824.1 875.5 L824.6 875.2 L825.1 874.9 L825.6 875.0 L826.1 875.4 L826.6 875.4 L827.1 875.4 L827.6 875.5 L828.1 875.4 L828.6 875.5 L829.1 875.3 L829.6 874.7 L830.1 873.5 L830.6 872.1 L830.8 871.5 L831.1 872.4 L831.6 873.8 L832.1 875.1 L832.6 874.8 L833.1 874.9 L833.6 874.8 L834.1 874.3 L834.6 874.5 L835.1 874.4 L835.6 873.7 L835.7 873.5 L836.1 874.1 L836.6 874.8 L837.1 875.0 L837.6 874.4 L838.1 874.3 L838.6 874.9 L839.1 875.5 L840.1 875.5 L840.6 875.5 L841.1 875.5 L841.6 875.1 L842.1 874.9 L842.6 875.3 L843.1 875.5 L843.6 875.5 L844.1 875.2 L844.6 875.0 L845.1 875.0 L845.6 875.2 L846.1 875.5 L846.6 875.1 L847.1 874.4 L847.6 875.0 L848.1 875.2 L848.6 875.1 L849.1 875.3 L849.6 875.4 L850.1 874.6 L850.6 873.7 L851.0 873.0 L851.1 873.2 L851.6 874.1 L852.1 875.0 L852.6 875.0 L853.1 875.2 L853.6 875.4 L854.1 875.5 L854.6 875.5 L855.1 875.5 L855.6 875.4 L856.1 875.3 L856.6 875.4 L857.1 875.4 L857.6 875.4 L858.1 875.2 L858.6 875.0 L859.1 875.3 L859.6 875.5 L860.6 875.5 L861.1 875.4 L861.6 875.1 L862.1 875.1 L862.6 875.3 L863.1 875.5 L863.6 875.5 L864.1 875.4 L864.6 875.3 L865.1 875.4 L865.6 875.5 L866.1 874.6 L866.6 873.7 L867.0 873.0 L867.1 873.2 L867.6 874.1 L868.1 875.0 L868.6 875.5 L869.6 875.5 L870.1 874.6 L870.6 873.7 L871.0 873.0 L871.1 873.2 L871.6 874.1 L872.1 875.0 L872.6 875.3 L873.1 875.1 L873.6 875.0 L874.1 875.3 L874.6 875.4 L875.1 875.2 L875.6 875.1 L876.1 875.2 L876.6 875.4 L877.1 875.5 L877.6 875.2 L878.1 874.9 L878.6 875.0 L879.1 875.3 L879.6 875.2 L880.1 875.0 L880.6 875.3 L881.1 875.5 L881.6 875.4 L882.1 875.2 L882.6 875.3 L883.1 875.5 L883.6 875.4 L884.1 875.3 L884.6 875.2 L885.1 875.3 L885.6 875.1 L886.1 874.7 L886.6 874.5 L887.1 874.9 L887.6 875.2 L888.1 874.9 L888.6 874.8 L889.1 875.1 L889.6 875.4 L890.1 875.5 L890.6 875.5 L891.1 875.1 L891.6 874.4 L892.1 874.8 L892.6 875.5 L894.1 875.5 L894.6 875.4 L895.1 875.5 L896.1 875.5 L896.6 875.4 L897.1 875.4 L897.6 875.5 L898.1 875.5 L898.6 875.3 L899.1 874.7 L899.6 874.3 L900.1 875.0 L900.6 875.5 L901.1 875.5 L901.6 875.4 L902.1 875.2 L902.6 875.3 L903.1 875.5 L903.6 875.5 L904.1 875.5 L904.6 874.9 L905.1 874.3 L905.6 874.8 L906.1 874.8 L906.6 874.7 L907.1 875.0 L907.6 875.2 L908.1 874.7 L908.6 874.2 L909.1 874.6 L909.6 875.1 L910.1 875.2 L910.6 875.3 L911.1 875.2 L911.6 875.1 L912.1 874.6 L912.6 874.0 L913.1 873.4 L913.4 873.0 L913.6 873.3 L914.1 873.9 L914.6 874.5 L915.1 875.1 L915.6 875.4 L916.1 875.3 L916.6 875.4 L917.1 875.3 L917.6 875.1 L918.1 875.2 L918.6 875.3 L919.1 875.3 L919.6 875.5 L920.1 875.5 L920.6 875.4 L921.1 875.3 L921.6 875.3 L922.1 875.4 L922.6 875.4 L923.1 875.3 L923.6 875.3 L924.1 875.3 L924.6 874.9 L925.1 874.5 L925.6 874.3 L926.1 874.7 L926.6 874.8 L927.1 874.9 L927.6 875.1 L928.1 875.4 L928.6 875.5 L929.1 874.9 L929.6 874.3 L930.1 874.7 L930.6 875.3 L931.1 875.5 L931.6 875.5 L932.1 875.4 L932.6 875.4 L933.1 872.9 L933.6 859.8 L934.1 846.7 L934.3 841.4 L934.6 849.3 L935.1 862.4 L935.6 872.5 L935.8 872.2 L936.1 872.7 L936.6 873.5 L937.1 874.4 L937.6 875.2 L938.1 875.5 L938.6 875.5 L939.1 875.1 L939.6 874.5 L940.1 875.1 L940.6 875.5 L941.6 875.5 L942.1 875.4 L942.6 875.3 L943.1 875.3 L943.6 875.4 L944.1 875.5 L944.6 875.5 L945.1 875.3 L945.6 874.9 L946.1 874.6 L946.6 875.0 L947.1 875.4 L947.6 874.9 L948.1 874.2 L948.6 873.5 L949.1 874.2 L949.6 874.9 L950.1 875.5 L950.6 875.5 L951.1 875.5 L951.6 875.3 L952.1 875.3 L952.6 874.8 L953.1 874.1 L953.5 873.5 L953.6 873.7 L954.1 874.4 L954.6 875.1 L955.1 875.4 L955.6 875.5 L956.1 875.5 L956.6 875.4 L957.1 875.4 L957.6 875.5 L958.1 875.2 L958.6 874.7 L959.1 874.1 L959.5 873.5 L959.6 873.7 L960.1 874.4 L960.6 875.1 L961.1 875.3 L961.6 874.6 L962.1 874.7 L962.6 874.9 L963.1 874.7 L963.6 875.0 L964.1 875.3 L964.6 875.5 L965.1 875.5 L965.6 875.4 L966.1 875.3 L966.6 875.2 L967.1 875.0 L967.6 874.8 L968.1 874.8 L968.6 874.1 L969.0 873.5 L969.1 873.7 L969.6 874.4 L970.1 874.9 L970.6 875.5 L971.6 875.5 L972.1 875.5 L972.6 875.2 L973.1 875.1 L973.6 875.3 L974.1 875.5 L974.6 875.5 L975.1 875.4 L975.6 875.4 L976.1 875.4 L976.6 875.5 L977.1 875.4 L977.6 875.1 L978.1 874.7 L978.6 875.0 L979.1 874.3 L979.6 873.2 L980.0 872.2 L980.1 872.5 L980.6 873.6 L981.1 874.7 L981.6 874.6 L982.1 875.0 L982.6 875.4 L983.1 875.3 L983.6 875.1 L984.1 875.3 L984.6 875.5 L985.1 874.8 L985.6 874.1 L986.0 873.5 L986.1 873.7 L986.6 874.4 L987.1 874.8 L987.6 875.1 L988.1 875.5 L988.6 875.5 L989.1 875.2 L989.6 874.7 L990.1 874.3 L990.6 874.1 L991.0 873.5 L991.1 873.7 L991.6 874.4 L992.1 875.1 L992.6 875.5 L993.1 875.5 L993.6 875.4 L994.1 875.2 L994.6 875.4 L995.1 875.5 L996.1 875.5 L996.6 875.3 L997.1 875.1 L997.6 875.2 L998.1 875.3 L998.6 875.3 L999.1 875.2 L999.6 874.8 L1000.1 875.0 L1000.6 875.4 L1001.1 875.5 L1003.1 875.5 L1003.6 875.3 L1004.1 875.0 L1004.6 874.7 L1005.1 875.0 L1005.6 871.9 L1006.1 868.3 L1006.4 866.1 L1006.6 867.6 L1007.1 871.2 L1007.6 874.4 L1008.1 874.9 L1008.6 875.3 L1009.1 874.8 L1009.6 874.1 L1010.0 873.5 L1010.1 873.7 L1010.6 874.4 L1011.1 874.8 L1011.6 874.2 L1012.1 874.3 L1012.6 874.9 L1013.1 874.9 L1013.6 875.1 L1014.1 874.6 L1014.6 874.1 L1015.0 873.5 L1015.1 873.7 L1015.6 874.4 L1016.1 875.1 L1016.6 874.7 L1017.1 874.5 L1017.6 874.9 L1018.1 875.3 L1018.6 875.5 L1019.1 874.8 L1019.6 874.1 L1020.0 873.5 L1020.1 873.7 L1020.6 874.4 L1021.1 875.1 L1021.6 874.8 L1022.1 873.6 L1022.6 872.5 L1022.7 872.2 L1023.1 873.2 L1023.6 874.3 L1024.1 874.8 L1024.6 874.5 L1025.1 874.3 L1025.6 874.8 L1026.1 875.3 L1026.6 875.4 L1027.1 875.3 L1027.6 875.4 L1028.1 875.4 L1028.6 875.5 L1029.1 875.5 L1029.6 875.5 L1030.1 875.4 L1030.6 875.4 L1031.1 875.5 L1032.6 875.5 L1033.1 874.9 L1033.6 874.1 L1034.1 874.6 L1034.6 875.4 L1035.1 875.5 L1035.6 875.0 L1036.1 874.5 L1036.6 874.8 L1037.1 875.3 L1037.6 875.5 L1038.6 875.5 L1039.1 875.5 L1039.6 875.4 L1040.1 875.5 L1040.6 875.2 L1041.1 874.8 L1041.6 874.5 L1042.1 874.9 L1042.6 875.3 L1043.1 875.5 L1044.1 875.5 L1044.6 875.4 L1045.1 875.4 L1045.6 875.5 L1046.6 875.5 L1047.1 874.8 L1047.6 874.1 L1048.0 873.5 L1048.1 873.7 L1048.6 874.4 L1049.1 875.1 L1049.6 875.5 L1050.1 875.1 L1050.6 874.7 L1051.1 874.4 L1051.6 874.8 L1052.1 874.9 L1052.6 874.9 L1053.1 875.2 L1053.6 875.4 L1054.1 875.4 L1054.6 875.4 L1055.1 875.4 L1055.6 875.5 L1056.6 875.5 L1057.1 875.3 L1057.6 874.9 L1058.1 874.5 L1058.6 874.1 L1059.0 873.5 L1059.1 873.7 L1059.6 874.4 L1060.1 875.1 L1060.6 875.2 L1061.1 875.0 L1061.6 875.1 L1062.1 875.3 L1062.6 875.5 L1063.1 875.4 L1063.6 875.0 L1064.1 874.6 L1064.6 874.7 L1065.1 875.1 L1065.6 875.4 L1066.1 875.5 L1066.6 875.5 L1067.1 875.4 L1067.6 875.0 L1068.1 875.2 L1068.6 875.5 L1069.1 875.3 L1069.6 874.9 L1070.1 874.9 L1070.6 875.3 L1071.1 875.3 L1071.6 874.7 L1072.1 875.0 L1072.6 875.3 L1073.1 875.2 L1073.6 875.2 L1074.1 875.2 L1074.6 874.8 L1075.0 874.5 L1075.1 874.6 L1075.6 874.7 L1076.1 874.2 L1076.6 874.4 L1077.1 874.8 L1077.6 875.3 L1078.1 875.3 L1078.6 875.4 L1079.1 875.5 L1080.1 875.5 L1080.6 875.3 L1081.1 875.0 L1081.6 875.1 L1082.1 875.4 L1082.6 875.5 L1083.6 875.5 L1084.1 875.3 L1084.6 875.0 L1085.1 875.1 L1085.6 875.2 L1086.1 875.1 L1086.6 875.2 L1087.1 875.2 L1087.6 874.8 L1088.0 874.5 L1088.1 874.6 L1088.6 874.9 L1089.1 875.3 L1089.6 875.1 L1090.1 875.0 L1090.6 875.2 L1091.1 875.4 L1091.6 875.2 L1092.1 875.0 L1092.6 874.9 L1093.1 875.1 L1093.6 875.3 L1094.1 875.5 L1094.6 875.5 L1095.1 874.8 L1095.6 874.2 L1096.1 874.6 L1096.6 875.2 L1097.1 875.5 L1097.6 874.9 L1098.1 874.2 L1098.6 874.7 L1099.1 875.4 L1099.6 875.1 L1100.1 874.7 L1100.6 874.8 L1101.1 875.1 L1101.6 875.4 L1102.1 875.0 L1102.6 874.5 L1103.1 874.0 L1103.6 874.5 L1104.1 875.0 L1104.6 875.5 L1107.6 875.5 L1108.1 875.4 L1108.6 874.8 L1109.1 873.9 L1109.6 873.0 L1110.1 873.9 L1110.6 874.8 L1111.1 875.5 L1111.6 875.4 L1112.1 875.4 L1112.6 875.4 L1113.1 875.4 L1113.6 875.3 L1114.1 875.4 L1114.6 875.0 L1115.1 874.6 L1115.6 874.9 L1116.1 875.3 L1116.6 875.5 L1117.1 875.4 L1117.6 875.3 L1118.1 875.2 L1118.6 874.9 L1119.1 874.6 L1119.6 874.9 L1120.1 875.2 L1120.6 875.2 L1121.1 874.5 L1121.6 873.8 L1121.8 873.5 L1122.1 873.9 L1122.6 874.7 L1123.1 875.3 L1123.6 874.7 L1124.1 874.4 L1124.6 875.0 L1125.1 874.5 L1125.6 874.7 L1126.1 875.2 L1126.6 875.5 L1128.6 875.5 L1129.1 875.5 L1129.6 875.4 L1130.1 875.4 L1130.6 874.6 L1131.1 873.7 L1131.5 873.0 L1131.6 873.2 L1132.1 874.1 L1132.6 875.0 L1133.1 875.5 L1133.6 875.5 L1134.1 875.3 L1134.6 875.3 L1135.1 875.5 L1135.6 875.5 L1137.1 875.5 L1137.6 875.3 L1138.1 874.9 L1138.6 874.5 L1139.1 874.5 L1139.6 874.9 L1140.1 875.3 L1140.6 875.4 L1141.1 875.3 L1141.6 875.2 L1142.1 875.3 L1142.6 874.7 L1143.1 874.2 L1143.6 874.5 L1144.1 875.0 L1144.6 875.5 L1145.1 875.4 L1145.6 875.2 L1146.1 875.1 L1146.6 875.2 L1147.1 875.3 L1147.6 875.5 L1148.1 875.5 L1148.6 875.2 L1149.1 874.2 L1149.6 874.7 L1150.1 875.5 L1151.1 875.5 L1151.6 875.3 L1152.1 874.9 L1152.6 874.4 L1153.1 874.7 L1153.6 875.2 L1154.1 875.5 L1154.6 875.3 L1155.1 875.2 L1155.6 875.4 L1156.1 875.5 L1158.1 875.5 L1158.6 875.3 L1159.1 875.0 L1159.6 875.0 L1160.1 875.3 L1160.6 875.5 L1161.1 874.9 L1161.6 874.3 L1162.1 874.8 L1162.6 875.4 L1163.1 870.9 L1163.6 863.2 L1164.1 855.5 L1164.3 852.4 L1164.6 857.0 L1165.1 864.7 L1165.6 871.9 L1166.0 871.1 L1166.1 871.3 L1166.6 872.3 L1167.1 873.3 L1167.6 874.3 L1168.1 874.8 L1168.6 875.2 L1169.1 875.5 L1169.6 875.3 L1170.1 874.8 L1170.6 874.2 L1170.8 874.0 L1171.1 874.3 L1171.6 874.9 L1172.1 875.4 L1172.6 875.5 L1173.6 875.5 L1174.1 875.3 L1174.6 874.9 L1175.1 874.7 L1175.6 875.1 L1176.1 875.3 L1176.6 875.1 L1177.1 875.1 L1177.6 874.5 L1178.1 874.1 L1178.6 874.7 L1179.1 875.2 L1179.6 875.4 L1180.1 875.3 L1180.6 875.1 L1181.1 875.2 L1181.6 875.4 L1182.1 875.5 L1182.6 875.5 L1183.1 875.3 L1183.6 875.1 L1184.1 875.2 L1184.6 875.3 L1185.1 875.2 L1185.6 874.8 L1186.1 874.5 L1186.6 874.9 L1187.1 875.2 L1187.6 875.3 L1188.1 875.3 L1188.6 875.4 L1189.1 875.4 L1189.6 875.5 L1190.1 875.4 L1190.6 875.1 L1191.1 875.0 L1191.6 875.3 L1192.1 875.3 L1192.6 875.1 L1193.1 875.1 L1193.6 875.4 L1194.1 875.5 L1194.6 875.5 L1195.1 875.4 L1195.6 875.4 L1196.1 875.4 L1196.6 875.5 L1197.1 875.5 L1197.6 875.5 L1198.1 875.5 L1198.6 875.5 L1199.1 875.4 L1199.6 875.4 L1200.1 875.5 L1200.6 875.5 L1201.1 875.5 L1201.6 875.2 L1202.1 874.8 L1202.6 875.2 L1203.1 875.5 L1204.1 875.5 L1204.6 875.1 L1205.1 874.5 L1205.6 874.6 L1206.1 875.2 L1206.6 875.5 L1207.1 875.5 L1207.6 875.2 L1208.1 874.7 L1208.6 874.7 L1209.1 874.0 L1209.6 873.0 L1209.7 872.8 L1210.1 873.6 L1210.6 874.6 L1211.1 874.2 L1211.6 874.5 L1212.1 875.0 L1212.6 875.5 L1213.1 875.5 L1213.6 875.4 L1214.1 875.3 L1214.6 875.2 L1215.1 874.8 L1215.6 874.2 L1215.8 874.0 L1216.1 874.3 L1216.6 874.9 L1217.1 875.3 L1217.6 875.1 L1218.1 875.0 L1218.6 875.2 L1219.1 875.0 L1219.6 874.4 L1220.1 874.3 L1220.6 874.9 L1221.1 875.5 L1221.6 875.5 L1222.1 874.5 L1222.6 872.1 L1223.1 869.6 L1223.3 868.6 L1223.6 870.1 L1224.1 872.6 L1224.6 875.0 L1225.1 875.3 L1225.6 875.3 L1226.1 874.9 L1226.6 875.2 L1227.1 875.5 L1228.1 875.5 L1228.6 875.4 L1229.1 875.2 L1229.6 875.2 L1230.1 874.8 L1230.6 874.7 L1231.1 874.8 L1231.5 874.5 L1231.6 874.6 L1232.1 874.9 L1232.6 875.0 L1233.1 875.2 L1233.6 875.5 L1234.1 875.5 L1234.6 874.9 L1235.1 874.3 L1235.6 874.9 L1236.1 875.5 L1236.6 875.5 L1237.1 875.5 L1237.6 875.3 L1238.1 875.0 L1238.6 874.7 L1238.8 874.5 L1239.1 874.7 L1239.6 875.1 L1240.1 875.4 L1240.6 875.5 L1241.1 875.3 L1241.6 874.5 L1242.1 874.4 L1242.6 875.2 L1243.1 875.5 L1244.1 875.5 L1244.6 875.1 L1245.1 874.5 L1245.6 875.1 L1246.1 875.5 L1246.6 875.4 L1247.1 875.3 L1247.6 875.3 L1248.1 875.4 L1248.6 875.5 L1249.1 875.2 L1249.6 874.8 L1250.0 874.5 L1250.1 874.6 L1250.6 874.9 L1251.1 875.3 L1251.6 875.5 L1252.1 875.5 L1252.6 875.4 L1253.1 875.3 L1253.6 875.4 L1254.1 875.2 L1254.6 874.8 L1255.0 874.5 L1255.1 874.6 L1255.6 874.9 L1256.1 875.3 L1256.6 875.4 L1257.1 875.5 L1258.6 875.5 L1259.1 875.0 L1259.6 874.3 L1260.1 874.9 L1260.6 874.6 L1260.7 874.5 L1261.1 874.8 L1261.6 875.2 L1262.1 875.5 L1262.6 875.4 L1263.1 875.3 L1263.6 875.4 L1264.1 875.5 L1266.1 875.5 L1266.6 875.4 L1267.1 875.3 L1267.6 875.3 L1268.1 875.4 L1268.6 875.5 L1269.1 875.5 L1269.6 875.5 L1270.1 875.4 L1270.6 874.8 L1271.1 874.7 L1271.6 875.1 L1272.1 874.7 L1272.6 874.7 L1273.1 875.1 L1273.6 875.5 L1274.1 875.4 L1274.6 874.2 L1275.1 872.7 L1275.6 871.1 L1275.8 870.4 L1276.1 871.4 L1276.6 872.7 L1277.1 872.1 L1277.5 871.5 L1277.6 871.7 L1278.1 872.3 L1278.6 863.3 L1279.1 851.1 L1279.4 843.7 L1279.6 848.6 L1280.1 860.8 L1280.6 838.1 L1281.1 807.0 L1281.3 794.5 L1281.6 813.2 L1282.1 844.4 L1282.6 872.7 L1283.1 871.6 L1283.3 871.1 L1283.6 871.8 L1284.1 872.9 L1284.6 874.0 L1285.1 875.1 L1285.6 875.5 L1286.1 875.5 L1286.6 875.5 L1287.1 875.5 L1287.6 875.5 L1288.1 875.4 L1288.6 875.4 L1289.1 875.4 L1289.6 875.5 L1290.1 875.5 L1290.6 875.5 L1291.1 875.3 L1291.6 875.2 L1292.1 875.2 L1292.6 875.4 L1293.1 875.5 L1293.6 875.2 L1294.1 874.8 L1294.6 874.7 L1295.1 875.1 L1295.6 875.5 L1296.1 875.5 L1296.6 875.4 L1297.1 875.0 L1297.6 874.7 L1298.1 874.6 L1298.6 875.0 L1299.1 875.3 L1299.6 875.5 L1300.1 875.2 L1300.6 874.6 L1301.1 874.5 L1301.6 875.2 L1302.1 874.7 L1302.6 874.3 L1303.1 874.8 L1303.6 875.1 L1304.1 874.5 L1304.6 874.6 L1305.1 874.9 L1305.6 874.5 L1306.1 874.9 L1306.6 875.2 L1307.1 875.4 L1307.6 875.4 L1308.1 875.5 L1308.6 875.5 L1309.6 875.5 L1310.1 874.8 L1310.6 874.1 L1311.1 875.0 L1311.6 875.4 L1312.1 875.3 L1312.6 874.7 L1313.1 874.1 L1313.6 874.4 L1314.1 875.0 L1314.6 875.3 L1315.1 875.4 L1315.6 875.4 L1316.1 875.5 L1316.6 875.5 L1317.1 875.4 L1317.6 874.9 L1318.1 874.4 L1318.6 873.2 L1319.0 872.3 L1319.1 872.5 L1319.6 873.7 L1320.1 874.8 L1320.6 875.0 L1321.1 875.3 L1321.6 873.6 L1322.1 868.7 L1322.6 863.8 L1323.1 868.7 L1323.6 873.6 L1324.1 875.2 L1324.6 874.9 L1325.1 874.6 L1325.6 874.8 L1326.1 875.1 L1326.6 875.3 L1327.1 874.8 L1327.6 874.2 L1328.1 874.7 L1328.6 875.1 L1329.1 875.0 L1329.6 875.2 L1330.1 875.4 L1330.6 875.5 L1369.1 875.5 L1369.60 875.52 Z" fill="#be46fa"/>
<rect x="351.60" y="145.90" width="1018.00" height="1" fill="#555"/>
<rect x="351.60" y="267.42" width="1018.00" height="1" fill="#555"/>
<rect x="351.60" y="388.94" width="1018.00" height="1" fill="#555"/>
<rect x="351.60" y="510.46" width="1018.00" height="1" fill="#555"/>
<rect x="351.60" y="631.98" width="1018.00" height="1" fill="#555"/>
<rect x="351.60" y="753.50" width="1018.00" height="1" fill="#555"/>
<rect x="351.60" y="875.02" width="1018.00" height="1" fill="#555"/>
<text x="853.2" y="1031.1" text-anchor="middle" font-size="19.65" textLength="100.3" lengthAdjust="spacing" fill="#000">Tmem241</text>
<line x1="428.5" y1="1116.4" x2="1280" y2="1116.4" stroke="#00008b" stroke-width="3" stroke-linecap="round"/>
<rect x="428" y="1107.1" width="14.1" height="18.4" fill="#00008b"/>
<path d="M452.00 1110.8 L446.60 1116.4 L452.00 1122.0 M470.52 1110.8 L465.12 1116.4 L470.52 1122.0 M489.04 1110.8 L483.64 1116.4 L489.04 1122.0 M507.55 1110.8 L502.15 1116.4 L507.55 1122.0 M526.07 1110.8 L520.67 1116.4 L526.07 1122.0 M544.59 1110.8 L539.19 1116.4 L544.59 1122.0 M563.11 1110.8 L557.71 1116.4 L563.11 1122.0 M581.63 1110.8 L576.23 1116.4 L581.63 1122.0 M600.14 1110.8 L594.74 1116.4 L600.14 1122.0 M618.66 1110.8 L613.26 1116.4 L618.66 1122.0 M637.18 1110.8 L631.78 1116.4 L637.18 1122.0 M655.70 1110.8 L650.30 1116.4 L655.70 1122.0 M674.22 1110.8 L668.82 1116.4 L674.22 1122.0 M692.73 1110.8 L687.33 1116.4 L692.73 1122.0 M711.25 1110.8 L705.85 1116.4 L711.25 1122.0 M729.77 1110.8 L724.37 1116.4 L729.77 1122.0 M748.29 1110.8 L742.89 1116.4 L748.29 1122.0 M766.81 1110.8 L761.41 1116.4 L766.81 1122.0 M785.32 1110.8 L779.92 1116.4 L785.32 1122.0 M803.84 1110.8 L798.44 1116.4 L803.84 1122.0 M822.36 1110.8 L816.96 1116.4 L822.36 1122.0 M840.88 1110.8 L835.48 1116.4 L840.88 1122.0 M859.40 1110.8 L854.00 1116.4 L859.40 1122.0 M877.91 1110.8 L872.51 1116.4 L877.91 1122.0 M896.43 1110.8 L891.03 1116.4 L896.43 1122.0 M914.95 1110.8 L909.55 1116.4 L914.95 1122.0 M933.47 1110.8 L928.07 1116.4 L933.47 1122.0 M951.99 1110.8 L946.59 1116.4 L951.99 1122.0 M970.50 1110.8 L965.10 1116.4 L970.50 1122.0 M989.02 1110.8 L983.62 1116.4 L989.02 1122.0 M1007.54 1110.8 L1002.14 1116.4 L1007.54 1122.0 M1026.06 1110.8 L1020.66 1116.4 L1026.06 1122.0 M1044.58 1110.8 L1039.18 1116.4 L1044.58 1122.0 M1063.09 1110.8 L1057.69 1116.4 L1063.09 1122.0 M1081.61 1110.8 L1076.21 1116.4 L1081.61 1122.0 M1100.13 1110.8 L1094.73 1116.4 L1100.13 1122.0 M1118.65 1110.8 L1113.25 1116.4 L1118.65 1122.0 M1137.17 1110.8 L1131.77 1116.4 L1137.17 1122.0 M1155.68 1110.8 L1150.28 1116.4 L1155.68 1122.0 M1174.20 1110.8 L1168.80 1116.4 L1174.20 1122.0 M1192.72 1110.8 L1187.32 1116.4 L1192.72 1122.0 M1211.24 1110.8 L1205.84 1116.4 L1211.24 1122.0 M1229.76 1110.8 L1224.36 1116.4 L1229.76 1122.0 M1248.27 1110.8 L1242.87 1116.4 L1248.27 1122.0 M1266.79 1110.8 L1261.39 1116.4 L1266.79 1122.0 M1285.31 1110.8 L1279.91 1116.4 L1285.31 1122.0" stroke="#00008b" stroke-width="2.8" fill="none" stroke-linecap="butt"/>
<rect x="502.93" y="1107.2" width="0.75" height="18.4" fill="#00008b"/><rect x="805.02" y="1107.2" width="0.75" height="18.4" fill="#00008b"/><rect x="831.33" y="1107.2" width="0.75" height="18.4" fill="#00008b"/><rect x="900.33" y="1107.2" width="0.75" height="18.4" fill="#00008b"/><rect x="932.52" y="1107.2" width="0.75" height="18.4" fill="#00008b"/><rect x="948.12" y="1107.2" width="0.75" height="18.4" fill="#00008b"/><rect x="949.62" y="1107.2" width="0.75" height="18.4" fill="#00008b"/><rect x="957.12" y="1107.2" width="0.75" height="18.4" fill="#00008b"/><rect x="968.42" y="1107.2" width="0.75" height="18.4" fill="#00008b"/><rect x="995.62" y="1107.2" width="0.75" height="18.4" fill="#00008b"/><rect x="1052.42" y="1107.2" width="0.75" height="18.4" fill="#00008b"/><rect x="1175.03" y="1107.2" width="0.75" height="18.4" fill="#00008b"/><rect x="1185.92" y="1107.2" width="0.75" height="18.4" fill="#00008b"/><rect x="1231.12" y="1107.2" width="0.75" height="18.4" fill="#00008b"/><rect x="1262.03" y="1107.2" width="0.75" height="18.4" fill="#00008b"/><rect x="1280.12" y="1107.2" width="0.75" height="18.4" fill="#00008b"/>
<rect x="407.10" y="1249.1" width="6.80" height="11.8" fill="#666"/><rect x="416.00" y="1249.1" width="5.10" height="11.8" fill="#666"/><rect x="438.30" y="1249.1" width="6.00" height="11.8" fill="#666"/><rect x="451.00" y="1249.1" width="5.10" height="11.8" fill="#666"/><rect x="484.00" y="1249.1" width="5.70" height="11.8" fill="#666"/><rect x="513.90" y="1249.1" width="3.20" height="11.8" fill="#666"/><rect x="517.90" y="1249.1" width="3.50" height="11.8" fill="#666"/><rect x="537.90" y="1249.1" width="5.70" height="11.8" fill="#666"/><rect x="570.70" y="1249.1" width="5.70" height="11.8" fill="#666"/><rect x="581.90" y="1249.1" width="3.80" height="11.8" fill="#666"/><rect x="687.40" y="1249.1" width="5.00" height="11.8" fill="#666"/><rect x="699.30" y="1249.1" width="5.40" height="11.8" fill="#666"/><rect x="714.00" y="1249.1" width="5.30" height="11.8" fill="#666"/><rect x="721.10" y="1249.1" width="5.30" height="11.8" fill="#666"/><rect x="731.10" y="1249.1" width="5.60" height="11.8" fill="#666"/><rect x="804.00" y="1249.1" width="4.60" height="11.8" fill="#666"/><rect x="848.30" y="1249.1" width="5.60" height="11.8" fill="#666"/><rect x="1003.60" y="1249.1" width="5.40" height="11.8" fill="#666"/><rect x="1020.40" y="1249.1" width="6.50" height="11.8" fill="#666"/><rect x="1161.40" y="1249.1" width="5.50" height="11.8" fill="#666"/><rect x="1181.40" y="1249.1" width="5.70" height="11.8" fill="#666"/><rect x="1207.10" y="1249.1" width="5.00" height="11.8" fill="#666"/><rect x="1214.30" y="1249.1" width="4.60" height="11.8" fill="#666"/><rect x="1220.00" y="1249.1" width="5.40" height="11.8" fill="#666"/><rect x="1230.70" y="1249.1" width="4.60" height="11.8" fill="#666"/><rect x="1278.10" y="1249.1" width="5.50" height="11.8" fill="#666"/><rect x="1321.70" y="1249.1" width="1.40" height="11.8" fill="#666"/>
<rect x="351.8" y="1296" width="1017.9" height="3" fill="#000"/>
<rect x="540.80" y="1298" width="2.2" height="6.8" fill="#333"/>
<text x="541.90" y="1328.4" text-anchor="middle" font-size="24.43" textLength="125.4" lengthAdjust="spacingAndGlyphs" fill="#4d4d4d">12000000</text>
<rect x="845.10" y="1298" width="2.2" height="6.8" fill="#333"/>
<text x="846.20" y="1328.4" text-anchor="middle" font-size="24.43" textLength="125.4" lengthAdjust="spacingAndGlyphs" fill="#4d4d4d">12050000</text>
<rect x="1149.40" y="1298" width="2.2" height="6.8" fill="#333"/>
<text x="1150.50" y="1328.4" text-anchor="middle" font-size="24.43" textLength="125.4" lengthAdjust="spacingAndGlyphs" fill="#4d4d4d">12100000</text>
<text x="860" y="1364" text-anchor="middle" font-size="30.54" textLength="291.4" lengthAdjust="spacingAndGlyphs" fill="#000">chr18 position (bp)</text>
</svg></body></html>
